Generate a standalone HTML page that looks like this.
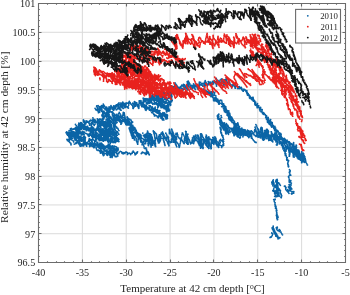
<!DOCTYPE html>
<html><head><meta charset="utf-8"><style>html,body{margin:0;padding:0;background:#fff;width:350px;height:295px;overflow:hidden}svg{display:block}</style></head>
<body><svg width="350" height="295" viewBox="0 0 350 295" font-family="Liberation Serif, serif"><path d="M82.36 3.5V262.5M126.21 3.5V262.5M170.07 3.5V262.5M213.93 3.5V262.5M257.79 3.5V262.5M301.64 3.5V262.5M38.5 233.72H345.5M38.5 204.94H345.5M38.5 176.17H345.5M38.5 147.39H345.5M38.5 118.61H345.5M38.5 89.83H345.5M38.5 61.06H345.5M38.5 32.28H345.5" stroke="#dadada" stroke-width="1" fill="none"/><path d="M106.2 119.5l.5-.4 1.1 1.1 .6 2-.9-1.7 1.3-2-.4 1.3 .8 .2 1.3 .7 .3 1.1-.3 1.3 .9-1.9 1.1-.5-.2-.3-.4 .6 2.5 0-.6 1.1 1.6 1.6 0 .9-.4-.6 .9-1.1 .7 .4 .5-1M105.7 114.8l1-.8-.4 2.7 1.2 1.9 1.6 .1 0 2.5 .4-1.6 .7-1 1.2 .1 .3-.5 .2 .3-.4 .4 1.3 2.1 .4 .1 1.2 .4 0-.8 .1-3.3 .3 1.5 .5 1.5 1 2.1M102.5 120.6l-.1-2.6-.4 2.8 1 0 .9 1.7-.5 1.8 .8-2.1 .7 1-.1-.6-.1-.7 .8-.8 1.3 .6 2.4 3.8 .3 1.4M109.5 123.7l.4-1.7 .2-.9 1.2 .6 2.3 2.9 .3 2.7 .1-2.2-.4-1.4-.7-.9 1.2-.7 .5 3.8-.8-.3 .7-.2 .9 .2-.1 1 1.8 .8M98.9 120.6l-.6 3.2 1.2-1.8 .1-.3-.5-1.9 .9-1.1-0-.3 1.6 3.1 .9 1.5 .5-1.3-.1-2.3-.5 1.8 1.1 1.5 2-1.4 .8 1.4 1 1.6-.2 1.2 1.3-.9 .5-.2 .3-.6-.1-1.3 .7 .7 .1-1.5 1 2.2 1 2.4-.4 2.5 2.6 .7-.6-.5 1.3-1.9-.7-.9 .1-1.2-.5-1.5 1.5 2.8 1 .3 0 1.3 .3 .1 1.5 .2 .4 1.6 .6 .9M92.9 117.8l1.3 2.9-.2 2.1 .1-2.1 .2-.8 .5-.4 1.4 2.5 .4 .5 .9 1.1 .2 2-0-2.3-0-1.7-.3-2.7 1.3 .7 .8 2.3 1.8 3.8-0-1.6 .6-1.5-.4 .2-.5-1.6 .9-1.6 .4 3.2 1.4 3.8 .4-2 .3-1 1.2-.4-1.4 .7 1.1-1.6 .7 2.1 1.2-.3 .1 1.2 1 1 .9 .1-.6 0-0-1.5 .7 .5-0 1.5 .5 1.2 1.1 .3-1-2.5 1.7 2 .3 3.5 1-.7 .1-1.2-.7-.9 1.2 .9 .2 1.2 1 1.1-.4 .6 1 2 .6-2 .3 .1 1.1-.6M87.9 121.3l.3 .1 .6 .9 .8 .1 .5-1.2-.4-.6 .7 .4 .2-1.1 1.7 .7 .4 1.8 1.2-1.4-1.2-2.2 1.1 2.9-.3-.4 .3-.4 .9-.4-.4-.4 .7 .1 .8 1.5 1 0-.1 .3 .7 .1 .1 .4 .9-1.3 .1 .8 1 .5-.1 .4 .2 3.5 .6-1.6-.4-2.6 1.5 2.7 1.2 1-.5-.2 .6-1.3-1-.1 1.5-1.3 .9 2.2 .3 .4 .8 .5 1.1 2.3 .5-.3-1.3-2-1-1.6 2.3 .7 1 2.3M111.2 128.5l.1 1.1 0-1.3-1.6-4.2 1.2 2.3 1.6 2.3 .9 2.5 .2-1.3 .5-.7 .5-.1-.1-.7 .3 .5 1.2 2.3 .4 1.7 1-1.2M83.5 120.9l.8 2 .7 1.5-1.6-2.9 0-1.7 2.1 3.1 .2 1.6 .6-2.8-.2-.9 .9 1 .9-.3-.4 .9 2 .6-.1 .7 .2 1.5 1.3-.1 .9-.2-.1-.9-.8 .2 .8-1.6 .8-1.1-0 2.1 .8 .1 .8 1.7 .7-.3 .6-3.3 1.8 .7 .7 2.3 0 3 1 .7 1.3 1.4-1.2-3.4 .6-.1-.3-1.2 .9-.6 0 .7 1 3.4 1 1.8 .7 1 .9 .5 .6-2.2-.7-1.2 .7-.2 .4-1.6 .1-.7 .4-2.5 .6 2.5 1.1 2.4 .3 2.8 1.2 .4-.2-2.6-1.2 4-1.6-3 1.5-1.4-.1 1.3 1.9 1.3 .1 3.7 .8-.6 .7-1.9-1-.5 .3-2.1 .1 .3 2.4 2.7 .2 1.8 0-.3 .5-1.4-.8-.8 .7 .2 1.8 1.1-.3 1 1.1 .7 .9 .6 1.4-.7-.4-.2-.8-.2M78.5 124.7l.5-2.1 1.1 2.6 .8-2.9 1.2 1.2 0 2.2 1.2 .9 1.6-.9-.4 .7 .1-.9 0-.6 .7 1.5 .9 2 .3-1.3 1.1-.7 .3-.9M90 128.7l1.1 1.6 .4 1 .5-2-.6-2.5-.3-.6 .9 2.2 1.4 2.8-.5-3.8 1 2 .9 1.1 1.2 .8 .2-1.1-.8-.8 1.1-.8 .3-.5 .5 1.4 .8-.2 .7 .3 .4 .6 .3 1.7 2.4 .7 .1 .8-.4-1.4 .5-.8 .8-1.1-.6-1.7 1.7 2.3-.1 1.7 2.3 2.1-.4-4.1-.6-3.4 1.1 2.8 1.4 2-.3 1.2 2.5 1-.5-1.3-.5-2-.3-2.4 1.4 .7 .3 2.8 2.1 2.1 .9 1.1-0-3.4-1.2-.3-.1-3.6 1.3 3.7-.1 1.1 1.1 1.3 .4 1.2 .3 0 .4-.3 1.4-1.3-1.1-.3 .7-.1 1.1-1-.3-.4 1.7 2.8-.4 .3M79 125.2l1.1 .7-.1-.7 .3-1.5 .3 1.2 1.6 1.9 .8 1.3 0 1.1 .1-.4-.3-1.5 1.8-1.2-.2 1.6 1.4 1.7 0-2.7 2.4 2.4 .5 1.6 .4 0 .8 .2-.7-1 .9-.4 .1-1.1 1.3-1.3 .4 .1-.5-1.1 .7 1.4 1.3 2 .3-.4 .3 0 1.3 .6 .2 .5 .3 1.6 .6-2.1-.1-1.1 1.3 .8 .5 .8 .6 1.2 .9 1 .8 .2-1-.4 2.2-1.8-.4 0-.2 1.3-.2 .5 .2-1.3 .5-1.1 .9 .4 .3-.2 .9 2 1.7 2-1-.1 .1-1.6-.4-1.3 1.2 2.4 .6 1.1 1.8 .6-.5-.2-.1-.7 .8 .1 1.2-.8-.3 1.2 .6 1.1 .8 1.3 1.1-.3-.3-1.3 .3 .6 .3 1.1 1.9-2.2 .4 .9 .7 .8 .6 1.5 .1 .4-.5-.2 .9-1.7-.5 1.2 1.2-.3 .8 1.8 .4-.4 .3 1 1.2 2.2-.1-.9M75.5 124.4l1.5 2.5 2.8-1.8 .9 3.6 .2 1-.3-.6 1-1.3-.3-.6 .3-1.3 1.1-1.5-1.1-1 1.2 1.1 1.4 1M86.1 128.5l1.2-2.4-.9 1 1 .7 1-.3 .9 1 .2 .5 .3-1.2 .9 1.4 1.6 3.1M91.9 126.5l-.3-.1 2.4 2-.1 2.3 1.3-0 .2 .5 1.3-1.1 .3-.2 .1-1.7 .3-.7 0-1.3 .6 1.3 1.7 2.9 .9 3.1 .2-1.1-.5-.3-.9-.9 .2-2.3 2 1.2 1.4 2.8 1 1.7-.3 .9 .4 1.6 .8-2.5-.9-.4 .8-1.4 .2-2.4 1.4 1.1 .1 1.3 1 2.1 .7 2.6 .8-.5-0-3.7-.1-1.2 .9 2.3 .3 2.3 1.8-4.1 .6 1.1 1.6 1.3-.1 1 1.8 .9 .7 1.1 .1 .6-.6-2.9-.4-.7 .5 1 .7 1.2 .4 .9 1.4 .5 .3 1.1-.7-.8-.2-.9M74.7 128.6l-.6-.1 .2 .4 .9-.5 .3-.6 .6-.3 1.9 .4-1.2 1.4 1.8 0 .5 1.9-.6-2.2 .3-2.2 .3 1.3 1.5 .6 .6 .8 .6-3 .9 1.8 1.3 1.3 .7-.2-1.1-1.9 1.1 .1 .3-.1 .8 1.3-.2 .8 .9 1.1 1.1-1.2-.9 .7 .8-.9 .8 1.1-.6-.5 1.3 .9 .2-.9 1 1.4 .4 .2 .8 1.2-.9-.2 .9-.3 .1 .5 .8-.4 .5 1.3 .9-.1-.1 3.5-.5-3.5 .4-1.4-.5-1.4 2 4.9 .7 .1 0-2.2-.3-1 0-1.8 .8 1.9 1.9 1.2 .3 2 .3 2 1.6-0-.9-3.7-.9 .1 2.1 2.7 .4 1.5 .6-2.7 0-1.1 .1-2.2 1.4 2.9 1.6 2.4 .6-.1 .2-2.3-.5-2-1.1-.1 1.5 3 1.7 3.8 0-2.8-1.8-3.6 1.4 3.3 1.2 .5 1.4 2.1 .3 1.4 1.6 .6-1.2-2 1-1.2 .3-.9 1 3.2 1-3.1 .2 .8 1.1 .9 .3 .7 1.3 .6 1.2 1.3-.6-1 .1-.7 .4-.9-.9-.6 1 .6 1 2 .6 .6M71.3 128.4l.3 .9 1.4 .3-.5-.6 1.3-.1-.3 .3 .1-.5 .3 .5 1.2-.1 1.6-.1-1 2 1.7-.3-.7 1.8 1.4-.3-.9-.6 .6-.7 .4-1.1 .2-1.2 1.2 .3-.1 1.7 1.2 1.7 .4 1.4 .9 .6 .4 .2-.7-.6 1.7-.4-.5-1.2 .9-.6 1 .6 .1 1 2.2 .3 .7 1.6 1 1.4 .3 .1-.4-1.1 1.2 .1-1.7-1.3 1.7-0 .4-1.6 .8 1.8 .5 1.2 1.1 2.6 1.1-1.2 .1-1.7-.7 .4 .7-.7 1.6 .9 .3 3.5 .7 .7-.2-4.1 .8-1.3 1.2 1.9-.4 1.9 1.1 1.5 .7 .8 1.1-2.2-.1-.6-1.4-1.6 1.6 4.2 0-2.2-1.2-2.9 .8-1.7 1 3.5 .4 2 1.1 1.9 1.4-1 0-.3-1.7 .3 1.2-1.7 .4 .4 .2-.5 .2-1.7 1.1 1.6 1.6 2.2 1.1 2.1 .1-2-.3-.9 .4-.2 1.9 1.7-.4 .9 .2-1.2 .5-1.5-.2-.3 .8 .7 .3 2.2 2 .5 .2-1.7 .3-1.2 .5 .7 1 1.4 .6-1.1 .9-.2-.7-.5 .6 .1 .7 .4M69.1 130.6l.1 1.8 1.2 .7 .7-1.1 .6-.8 .4 .2 1.7 .3 .7 .9-.6 .6 .9 .1-.1 1.8 .1-3.2 1.6 3.2-.5-1.4 .5-3.1-.1 .9 2.1 2.4 .4 .4 .6-4.9 .5 2.5 .1 .9 1.6 2.3 .3-.8 .7-1.1-1.2-.8 1.6-1.1-.3 1 .5 2.4 1.3 .1M88.7 136l-.4 .5 .3-1.8 .8-1.2 .7 .9 1.2 1.5 1 .6-.3-1.4 .5-.7 .6 .2-.4 .7 1.8 1.3 .5 1.6 .8-1.4 0-.4 .7-1.7-1.1 .1 1.5 .6 .6 .1 .6 2 1 .3 .6 1.7 1.8-2-.2-1-.1 .6 1 .6 1.1 .3-.7 .7 .8 .5 .2-1 .6-.4-.6 1.5 1.7 .9 .9 .1-.3-.1 .1-2.2 .6 1 1-1 .8 2.2 1.1 .8 1 1.5-.2 .9 .3-.8 1-1.9 0-1.8-.1-1-.3 1.3 1.2 1.8 1.1 1.4 1.1 0-.5-1.4 .6-.5-.2 2.4 1-.4 0-1.9-1.3-2.5 .8 1.1 1.9 1.8 .4 .4M70.4 129l.5 2.5 .3 1.3 1.6 .8-1.5-2.2 .3-.7 1.1 1.8 .6 1 1.4-.2-.6 .5M76.9 133.7l.7 .6-.7 .3 .6 1-.9 .1 1.4-.9 2 2.6 .2 .3 .4-.7-0-1.5 1 2.1 1.3 0 .5 .8 .5-.1-.2-1.6 .7-.8 .3 3.9M89.8 139.8l-.7-1.1 .4 .2-.4-.3 1.4 .8 1.4 1.9-.8-.7-.3-1.1 1 .6 .2-.7 .5 .5 .8-.1 1.5 1-.5 .6 1.2 .3-.1-1.5 .2 1.6 .9-0 1.3 .6-.2 1.2 .8 .1 .8 1.3 .9-0 .3-.8-.5-1.5 .3 2.1 1.1 1.4 .6-.1 .2 .8 1-.1-.5-1.8 .8-0 .3 .3-.1 .6 .9 .1 .4 2.1 .4-1 .9-.5-.1 1.1 .5 .1 1.1-.8-.7-.5 1.2-2.2 1.4 1.9 1.2 .5 .4 2.6 .9 1.4 1.2 1.2 .1-1.7-.9-2.9 .1-1.8 .1 3.8 .3-1.3-0-.4-.9-.1 .8 1 2.3-.1 .7 .5 .3 .9 .9 1-.3 .8 .3-3.4M67 134.3l1.2 1.1-.8-.6-1-2.3 .1-.7 1.3 .6 1.5 2.6-.3 2.6 2.1-.3 1.2 .8-.6 .5-.2-.4 .4-.6 .4-1.4-.4-.7 .4-2 1.5 3 .4 2 1.2 2.2 1.5-5.8 .4 2.4 .8 1.6 .7 1.8 .6 .6 .1-.5 .2-.3 .7-.4-.3-1.2 .5-.2-.4-1 2.2 2.9 1.2 .8-.4 2.3 .9-.9-.3-.6 .4-1.8-.2 .8-0-1.4 1.1 .7 .2 1 1.5 2.5 .9-.6-.3-.8 .9-.5 .4-1.2 .1-.9 .2 1.1 2.1 3 1 2-.5-.8 .3-1.8 .2-1.3-.6-2 .9 2 .3-.5M97.2 143.5l-.6 .5 1-.1 .1 1.5 1.1 .2 .8 .8-.4 .7 1.3-.7 .5-1.6 .3-1.1-.6 1.3 1 1.5 .8 .9 .5 2 2 .1-.6-.8-.9-2.2 .9 .5 1.3-.7 .5 .4 .6-.1 .9 1.4-.4-1.5 1.1 .3 .2-.8 .7-1.7 .7 5.1-1.5-2.7 .3-1.3 .3-1.4 .9 .2-.3 1.1 2.4 1.3 .7 .5 .7 2.7 .1-.7 .5-2.7-.1-.5 1.8 .9 .4-.4 1.7 3.9 .3-0-.2-2.7 .6 .1M66.1 132.7l1.5 2.5 1.7 .1 .1-1.2-1.4-.7-.2-1.1 1.7 1.3 .9 1.1-.2 .8 1.4 2.6-.4-1.2 .5-1.6-.4-1.9 .2-1.4 1.8 2.6 1.4 3.1 .4-1-1.6-5 .2 1.5 2.3 2.8 1.1 1.9 .2-1.6 1-.1-.3 .1 .4 1 1.1 1.1 .3-.1 .2 .8 .7-.4 .2 .3 .7-0 .6-0 1 .3-.1 .4 1.4-.5 .8 1.5-.6-.9 .5-.1 .3-3.4M89.5 143.6l-.2-.3-1.1 .5 1.7 0 .1 1.1 1.3 1.3-.5-1.1 .8-.2 .8-1.5 1.1 1.1 .5 2.3 .9 .2 .6-.3-.7 .3 .8-3.2 .2 .3 1 1.5 .9 1.6-.2-.5 2 1.4 0 .3 0-1.9-.7-.7 1.5 1.1 1 1.8 .1-.3-.4 .1 .6-.1 .8-1.1-.5 .7 .5-.5 .7 1.2 1.1 1.1 .5 .9 1 .3 .9 1.4 .3-1.7 .4-1.1-.7 .7 .7 .9 1 1.2 .4 2.1 1.1 .7-.7-3.5 1.1-.1 .4 2.3 .9 .3 .1 .4 1.1-1.2-.4-.4 1.3-1.5-.7-0 1.2 2 .1 1 .2 .9 .6 1.1 1.1-.1-.7 .1 1.4-0-.3-.7M68.6 139.3l-.2-.6 .8 1.9 .6-.3-1.2-4.4 .6 .3 1.3 1.2 .3 1.8 1.8 1.2 1.2 .9-.1 1M74.8 136.8l3.3 6-1-1.6 .4-.9M81.4 141.2l-.8 .1 1.1-1.2-.6-.5 1.7 1 1.3 1.8-.2 2.9 .5-4.2-.8 .4 1.5 2 1.6 2.7-.1-3.4 1.9 1.2 .9 .2 .2 2.4 1-.6 .1-.3-0-1.1 .4-.9 .4-1 .4 2.9 2.1 2.1 .4-3.1-.8-1.6 1.2-.6-.5 1.1M100 148.6l1 1-.5-2.3 1-1.1-.6 0 .4-2.8 .5-.7-0 1.3 1.7 1.1 1.2 2.2-.5 .1 .8 .7 .1 .9 .7-1.2-0-.7 .2-.8 1.2-.5 .2 1.3 1.1 1.8 .1-3.6-1.5 .5 .3 0 .8 1.3 .7 .6 .8 .6 1.2 .9-.4 1.2 1.5 .3 0 2.5 1.3-4 .6 .9 1.4-.2-.7-0 .6-.8 1.3-.5 .4-1.1 .3 2.2 1 1.5M67 139.4l0 .9 1.3 .8 .3 .2 1.3 1.2 .3 0 1 1.3-.3 1.6 .1-.9-.1-.5-.4-1.2M74.3 144.1l1.3-.5 .4-.2 0-1.1 .5 1.2-.2-.8 1.1-.7 .8 .8-.3 .7 1 .3 .6 .8 .9 1.9-1-2-.2-1.5-.2-2.2 3 5.7 0-1.2-.9-1.5 1.1 .6 1.3 1.8 .2-3.7 .3 .4 1.3 1.3 .9 1.3M96.4 147.1l-.1 1.6 .9 1.8 1.6-.1-.6-.3 .6 .8 .7-.5 .5 1.3 .7 2-.1-.8 .7-2.1-.7-.3 .1-.7 1.3 2.4 .8 1.6 .2 1.8 1.1-0-.3-.1 .8-1.8 1.3-.3 .7 .4 .6 1.9 1.6-5-.2 2.7 1.8 2.6-.1 1.3-.1-2.3-.7-.8 1.5 2 1.1 1.2 .5-1.4-.3-.5-.1-.6 2.3-2.9 0 1.7-.2 2.2M101 152.9l.6-1.9 .3 .5 .3-.6 .6 1 .4 1.6 .7-1.6 .2-1.6 .3-.7 1.4 1.6 1.2 .6 .3 1 1.8-1.7 1 3.7-.5-3 .1-1.3 .9 1.8 .9 1.1 .1 .7 .9 1.9 .3-.6 1.4-1.7-.9-.8 .4-1.5 1.2-.9 .7 1.8 1.6 1.6 .8 2.7M96.7 109.3l1.6 1.5-.2 1.9 1.5-.1-.1-1.5-.1-1.5-.3-2.7 .9 .7 1.4 3.7 1.1 .5-.6-2.2-.2-1.3-.3-3.1 1.7 1.4 1.1 2 1.4 1.1 1.2 1-0 .5-.2-1.2-.4-1.8 .1-1.4 .9 .8-0 .4 1.8 2.1-.4 .5 1.7-1.2-.7-.3 .6-1 .6-1.4 .4-.2 .8 .9-.4 0 .2-.7 .1 .4 1.9 1.4 .8-1 .3 .5-.2-1 .3 .4 1.2-1-1 1.3 .9 .2-.8-2.5 2.1-1.1-.4 1.4 1.2 1.1 .6 1.6-.2-1.1-.5-3.8 .9-.5 .2 1.4 2 1.1 .9 1.6 .2 1-1-2 1.1-3.1 .2-1.1 1.1 1.3 .6 2.2 .6 2.5 1.2-1-.2-2 .2-.8 .3-.3-.3-.9 2.4 .4 .2 1.2 .5-3.4 1.4 2.5 2.2 2.4 .2 2.8 .7-.9-1-0 2.1-1.4-.6-1.5 .8-.5 0-1.5-.8-1.7 1.6 1.7 1 1.6 1.2 2.1 .7 2.1 .4-1.8-.2-2.5 .4-2.5-.1-1.1 0-.7 .4 1.2 .9 2.2 1.5 3.5-1.2-6.5 2 4.2 .5 .1 0-1.6 1-2.1-.8-1.6 .2 .4 1.2 1.4-.5-.2 1.9-.4-.3-.3-.2-1.9 1.2 .1 1.1 2.1 1.6 2.8-.5-3.3 .1-1.7 .5-2.6-.3-.9 .3-2.1 .9 4 .5 3.3 .9-1.1-1.1-2.5 1.1-1 .2-1.8 .3 3.8-.8-1.6 .9-1.5 .2 1.2 1.6 1.3 .4 1 .9 1 .8-.4-.1-2.4 .1-2 .4-.1M95.1 108.3l.8 1.7 1.1 .3 1.1-1.2-.6-1.1-1.3-2.2 1.3 .2 .3-.3 .9 .2 .8 1.3 1.6-.6-.2 .9 1.3 .6-.8 .1 .7-.6 .8-1.1 .3 .1 .1-2.6 .3 .6 .1 .4 .4 .6 1.4 2.1 .9 .9 1.3 1.8 .7-1.6-.9-.1 1.6-.8 0-1.1 .2 1.4 1.2 .9 0 .5 0-2.1 .5-1.9-.3 1.3 1.1 .7 .4 1.4 1.7 1.7 .2-1.7-.5-2.2-.1-1.1 1.7 2.3 1.3 2.2 1.3-2.1 3.4 2.4-.7-1.6-.6-2.2 .6-1.5 .5-1-.2-1.8 .5 3 1.1 2.6 1 .6-.5-.5 .1-1.6-.1-1.7-.2-1.2 1.2-.3 1.8 1.1-.3 .4 .3 1.7 1.3 .2 1.5 1.7-.5-1.7 1-2.3-.2-2.3M133.4 104.6l-.7-1.7 1.5 1.3 1.1 2.7 .1-.5 .4-2.3-.7-1.8 1.2 .1 1.2 1.6-.2 1.9 .8-1.5M140.5 103.1l.3-2.7 .8 2.6 1.5 1.6 1.9 2-1.9-3.2 .1-1.6 .3-2.3-.4-1.3 1.4 .4 1 1.2 .1 2.1 1.1 .9 1.5 1.1 .4-1.1-.5-2.9-.7 4 .8-.2 .3-1.5-.8-3.2 1.6 1.3 .6 1 1.2 2 .2-2-.1-2-.6-1-.6-1.3 1 .7 .4 1.4 1.6-.3 1 1.5 .3 1.4 .8-1.6 .1-1 .2-.6 1.1 .3-0-1.5 .5-.3 .5 .2M102 115.5l1-1.3-.3-1.2 .9-1.4 .3 1.7 1.5 1 .7-1-.1-.4 1.8-.9-.7-.6 1.9 1.9-.5 3-.5-1.8M113.4 117.5l.6-1.2 0-.4-.7-.6 1.5 0-.3 .6 .1 1.2 .4 .5 .7 .4 .9 1.8 .8 .6 1.4-.4-.5-4.1 1.1 .3 .5 .9 .3-1.1 1 1.2-1 .5 1.4-1.6-.7 1.5 2.1 1.9 .8-.6 .5 1.4 .7-.3-.5-1.2-.5-1.7 1.2-.1 .2 1.8 1.5 2.5 1 2-.5-.2-.3-1.3 .2-1.8 .1-2.5 .8 .9 2.1 1.2 1.3 1.1 .1 3.1M103.1 117.8l1.3-.7-.8-1.1 .6 .8-.3-.9 1.1-.3 0-.3 1.2-.6 1.3 .9-.9 1.7 .8-2.5-.2-1.8 .2-.7 .1-1.6 .7 2.7 .5-0 .8 2.4 .9 1.1 .8 1.2 1.6 2.5M114.7 120l0 1 1-1.6-.4 .1 1.3-1.3-.3 .2 .5-.8-.1-1.2 1.2 2 2 2.5-.2-3.1 1 3 .2 1.2 .8-.9 .2-1.9M124.2 120.3l-1 .1 3.4 3.2-.8-.8 .1-2.8-.1 3.2 2.7 2-.4-.5-.1-1.4 .2-.5 1.3 .1 0 1 .3 1.2 1.2 1-.7 .9 1.6 0 0 .5 1.1 3M102.3 116.2l1.5 .6-.4-.1 1.9-.7-.4 .7 .2-1.2 .3-.1 0 .7 1.3 .2 .4 .2 1.9 .7-.3-.5 1.2 1.2-.2 .3 .7-1.1-.5-.2 1.2 1.3 1.5 1.6 .3-.7-.2 .4 1.4-.5 .2-.7 .3-.7-.2 .6 .4-.5 1.2-.5-.3 3.3 1.3-.6 .5-1.8-.3-.9-.3 3.1 .2-2.1-.7-2.3 .8-.7 .3 2.8 .3 2 1.5 .3-.4 1.4 1.4 0 1.1 3-.5-.5 1.2-1.8-0-1.3 .9-.1 .1 .5 .3-1.2 1.1-.7 .5-.3-.7 2.2 1.5 2.1 .1 1.6 .6-.8 1.1 .4 .6-2.3 0 .3-.8-.2 1.7-0-.6 1.4 1.5 .5-.4 1.1 1.1-.1-.7 2.3 .6-1.4 .1-1.5 .3-1.2-.3-1.5M102.2 114.6l1.1 3.4 .6 .8-.8-4.3 1.3-2-.7-1.7 .5 1.1 .9 .9 1.9 2.7-.7 .5 1.5-1.8 .2-.7 .1-1.4 .5-.4-.2-1.3 1.3 1.8 .3-1.2 2.3 1.5 0 1.3 .3 2.1-.4 .2 .6-1.8-.3-1.6-.6-1.3 2.1 2.5 1.8 2 .8-.5-.6-.7 .7-.4-1.1 1.2 1.2-1.1 .5 1.4 2-3.4 1.5 2.8 1.8 2.7 .3-2.4 .5-3.6-.9 6.1M124 114.5l.2-1.6 .3 2 .7 4.2 1.3 1.3 2.3 .9-.8-1.2-.9-1.5 0-2.2 1.8 6.5-1.1-2.8 .1-1.9 0 .4 .5 1.7 1.3 1.4 1.1 2.8-.1 1.3 1 1.1-.5-1.4 .4-2.4 .6-1.3 1.5 .9M132.8 125.5l.6 .9 .3 1.5 1.2 .6-.2 .4-.1-.7 .4-.2-.3-.4 .9 1.7 .5 1.3 .5 1.4 .9 1 .6-.1-.6 .2 .8-.2 .3 1.6-.5 .2 1.7-.8-1.3 1.3 1.3 1.6-.3-.2 .6 1.5 .4 .6 .8-.1-.6 1-.2 1.3 .8-.8 .3 .7 .2 1.9-.4-.6 .7-.7 .6 1.3 .1-.6 .4 1.1M145.9 147.8l.7 .8-.2 1.4 .4 1.1 .1 1.3 .4-.1 .5-1.3-.2 1.1 .8 1.1 .7 .3-.6 1.1 .9 .2M131.7 125.3l.9 2 1 3.4-.8-2.3 1.2 0-.6-1.2 1 1.4 1 1.8 .1 .3-.2 .5 .6 1.2 1 .7 .7 1.3-1 .3-.3-1.6 .7-.3-.6-.4 1 1.6 .3 2.1 1.2-.1 .2 .4 .2-.6-.7 1.2 1.1 .5 .6 .5 0 .6 .3 .8-1-1.5 .1-.5 .5 1.7 .4 1.3 .3-.2 .3 2.1 1.6 .7-.9 1.7 1-.2M143.5 145l.5 .9 .1 2.1 .9 .5 .4 .3-.5-.3 .7-.5 1 .1M147.9 152l-.8-.8 1.1 1 .5 .8M142.8 133.1l.3 .2M145.3 134.5l-.8 1.8 .4 1.1 .6-1.1-1.1-1.5M147.7 140.3l-.4-.1-.3-1.2 .3 .4 1 1.3 .8 1.3-1 .8 .9 1-.6-.1 1-.1 .9-.2 .5 .4-.1 1.8 .4 .4 .5 .7-.6 .3 .3 .2-.9-.1M117.8 153.4l.4 .8 .6-.8 .1-.8 .9-.7 .6-.6 1 .4 .6 1 .1 .9 1.1 .2-.3-1.3 1.4 .2 .5 1.2 .3-1.4 1.2-.9 .1 1.2 1-.1 .6 .4-.9 1.5 1-.6 .6-1.2 .6 .3 .6 .3 1.2 1.5-.5-.3 .8-1.2 .6 .6 .2-1.2-.1-.7 1.6 .1-.2-1.3-.5 .2 1.8 2.2 .3 1.6 2.2-2-1.1-.2 1.2-.4 .2-.7M141.3 153.5l.2-.4 .9-.2-.8-.6 .7 .8 .1-1 1.5 .6 .7 .2 .7 1.2 1.4 .6-.4-1.9-.3-1.1 1.4 .9 .4 .7 1.6 .9M169.3 95.6l2.2-2.2 .1 .9 .3 1.9 .1-.4 .8-.5M169 95l1.4 1.1-.6 1.7 .3-.6 .5 .4-0 .5-0-.7 1.1 .6 .2-.3-.8 3.4 1.4 .9M165.1 97.6l1 0 1 1.6-1 1.2 2-1.7 .3-.4-.4-.5 .9 .2 .3-1 1.2 1.7 .3 .3 .7-.2 .4 .9 .7 .8M163.9 97.1l.1 .4 1.1 1.1 0 .6 .6 .2 .4-1-.3 .9 .7-.6 1 1.4 .9 .7 1.1 .8 1 .7-.6 1.2 1.1-.1-.9-2.2 0 1.6 1.1 2.5M161 98.8l1 .7 .2 1.1-.2-1.3-.6 .6 1.5-1.1 1.1 2.2 0 .7 .3 1 .5 .2 .6 .5-.1-1.7 .6 .6 .3-.3 .3 1 .6 .2 .8 2.3 .9 .2 .8-2.8 .8 2.4 .6-.1M157.2 98.4l.6-.4 .2 .8-.6 .2 1.6 .8 .1-.8 .5 .5 .6-.4-.1 1.5 .9 .3 1.2-.1 .4 .5 .4-.2 .2-.8 .4 2.6 .8-.4 .8 .3 .7-.5 0-.8 .4-.1 .8 1.3 .3 .7 .4-.7 1.1-.6 .4 1.7M154.3 96.9l.8-1.8 1.5 2.2-.2 3.4 .7 .8 .2-1 .1 .5 1.1-1.8 .2 .3-.7 .4 .2 .9 1.3 1.6 .3 1.6 1.4 .4-0-.7-.3-1.1 1.1 .5-1.1-.4 1-.8 .9 2.9 .6-.5 .6-.1-.2 .7 1.6 1.1-.4 1.4 1.1-1.6 .3 .6 .6-1.1 .5-.3 1.2 .9-.3 2.2 .3-2.3M153.7 100.6l0-2.2 .3 .6-.5-.9 .1 1.1 1.4-.4 .3 1.1 2 .5-.7-.5-.2-.6 1.9 .9 .5 3.2 .5-2.2 .4 .4 .4-1.2 .5 1.5-.1 1.1 .9 .8 1.1 2.6 .4-1.1-1.2 .6 1.1-1.2-.5 .5 1.2-.7-.4 .2 1.4 .9 .7 1.5 .1 2 2.1-3-1 1.7 1.3 1.7 .4-.2 1 2-.4-3.6-.9 .8M149.9 98.5l.3 .5 .7 1.2 .1 1 .3-1.8 .1-.3-.6-2 .6 .3 1.6 1.7-1.2 1.2 .7 1.4M154.7 104l.9-.9-.2 1 .8-.3 1.5 .1 .9 3.4-.8 .2 .1-1.5 .7-.3 .7-1.3 .3 1.4 1.5-.6 0 1.7 1-.5 .7 .9-.4 .1 2 1.3-.2-2.5 .2-.5 .1 .5 .3 1.6 .8 .6 0 .4 1.1 .4 0 3.2-.6-2.8 1.3-1.9 .5 2.1 .4 1.6 .5 .3M146.4 99.8l.5-.6 .7-.1 .4 .4 .3-.2 .8 1.3-.3-0 1.5-.2 .4 .9-.6 .2 1.4 .5 .3 1.3 .2-.6 1.2 1.4-.3 .5-.1-.4 .4-.3 .7-.4 1.2-.7 .3 .2 1.3-.9-.1 2.5 1.5-0-.6 .9 .6-.3-.1 .3 2.3-2-1.9-.1 .4 .4 1.8 2.6 .5 1.3 .1-.3 .1-.9 .5-.2 .8-.5 .3 .3 1.2 .4 .4 1 1 .5-1.1-.4 .7-.2-.3-.9 .9 1.1 .4 1.3 .8 1 1-1.7-.2 .9 .4-.7 .7 .8 1.2 1.5M143.9 98.9l1.3 2.1 .3 .6-.6-1.2 1 .4 .1 .7 .7 1.2-.4 .9 .4-1.1 1 .1-.5 .9M149.2 105.7l.8-.4 1 1.5 1.3 3.9 0-2.4 0-.5-.1-1 .9 1.7 1 .4-0 .8 1.3-2.9-.5 1.4 .8 .7 1 2.8 1 1-.2-.5-.5-1.5 .1-1.4 1.1 .8-0 1.8 .5 .1-.4 .6 1-.5-.9 .4 1 1.6 1.9 .2-.5 .9 2.1-.4-1.2 0 .7-.7 .8 1.6 .8-.9 .4-1.6-.1-.6 .6 1.6 2.7 .5-.3 1.1 .1 3.3-.5-1.2M144.3 105.1l.3 1.9 .9 .6-.8-2.7 1.6 .4 .2 1.3 1.7 1.3-.5-.4 1.5 1.2 .6 .4-.8-1.7 .6 0 .1 2 1.2 .4 .6-.1 .1-1.2 .3 1.3 .5-1.1 .7 .9 .8-0 .5 1.7-.3-.8 1-.3 .8-.6 .9 .6 .2 1.2-.6 1.5 2 .3 .7 .4-.8 .3 .6-.7 1.3-1.1-.8 .8 .9 .4 .4-.6 .5 1.2 1 1 .6 2.2-1.1-2.7 .5-.7 .8-1.1-.1 1.8 1.7 .5 .7 1.9 .8 .6-1.3-4.1 .4 3 1.8 .4 .5-.8M142.7 106.7l1.1 .2 1.1 1.4 .9 2.4 .9-1.3-.5-.2 .6 .3 .3-.6-.6-1.2 1 .9 1.6 .4-.3-.1 1 1.7-.4-.5 .3-.2 1.2 .9 .6-1.4-.1 .7 1.6-.4-.5 .3-.1 1.1 1.5-.2 .5 .8 1.8-.8-1.8 .3 1.3 .6 .5 .6 .7 .3 1.3 .4-.3 .1 .7-.4 .3-1.6 .2-1.1 .8 .5-.8 3.2 .9 .3 1.3 1.5 .3 .8 .8-.7 0-1.4 .1-.7 .3 0 .4 1.1 1.3 1.4-.2-.3-.2-.9 1.9 4.1-.1-1.9-.5-1.3 1.2 .4M147.1 107.8l-.3 .7 2 .4M151.7 112.4l-.2-.5 .6 .4-.4 .6 .8-1 .6 1.3 .5 .2 .2 1.1 .9 0-.1 1.6-.6-1.6 1.1 .8 .5 .4 .5-.3 .6 .5 1.5 1.9 .9-1.2-.9-.9 .7 .4 .4-1 .5 .9 1.8 .5-.5-.4-.7 1.7 1.5 .8 .7 1.5-.3-.8 0-.5-.2-.4 0-1.2 1.3 1.5 .6 1.7M156.9 95.3l.5 2 1.7 1.9 1.9-4.1 1 2 .4 2-.1-2.3 .6-1.9 0-2.6-.6 3.5-.5-.2 .5-2.4 .9 .3 .3-1.2 .2-.3 1 .3-.4-.3 1.3 1.1 .9 1 .6 1 .9-.9-.3-.4-.2-1.3 .3-1.2-.4-1.4 .8-1 2.2 0-1.1 1.1 .7 1 1.5-5.3 1.5 1.6 1.2 2.6 1 2.9-.1-4 .1-3.2-1.5 4.6-.4-3.5 1.3 1 .9 .8 .5 1.5-.8-2.5-.3-4.8 1.3 2 1.7 2.1 .8 1.3 1.5-1.4 1.3 0-.3-1.6 .8 0 .5 .3 .9 1.7 .3-3-.4 .5 1.9 .6-.1 2.2 1.2 .3 .3-2.2 .4-.6-.1-.8 1-1.2 .7 .1-1.6-1.9 1.1 5.7-.4-.7 .9-.6-.2-1 .2-1.9-.5-1.7 1.7 2.9 1.4 3.7 1.2 1.1 .4-2.1 .5-1.4 .3-1.3 .6 2.2 1.2 3.8M195.8 85.1l1.5 2.9 1.6-2.9 .6-1.3-.6 .4 1.5 .6 .7 0 1 .2-.1-1.2 .6 0-.2 .3 .7-.9 1 .3 1.4 .8-.4 2.3-.6-2.6 .9-1.8-.2-1.8 .2 2.9 1.7 .6 .5 1.3 1.4-.8-.1-1.2-.7-1.7 .7 0 1.4 1.9-.2 .6 1.4 .5-.1-.6 .9-.7 .3-1.1-.2-.5 .4-.6 1.4 1.4 .7-.1 1.4 1.3-.1 1.3 .4 1.8-.2-3.1 1-1.5-1.3-2.3-0-1.8 1.5 3.7 1.7 2 1.2 .4 .9-1.6 .4 .7 .3-1.4-.7-1.1 1.5 2.3 1 2.2-0-2-0-1.8 .4 .3-.3-2.1 1.3 1.4 1.2 3.6 .6-1.2-.9-5.8 .4 3.2 2.4 3.6 .6-.8 .3-.9-.2-.5M157 96.5l1.1 2.7 1.1 .8-.9-2.4 .2-2.2M163 97l1.2 .7 .5 1.2 1.7 1.3-1.1-3.8-1-2.9 1.2 3.1 1.4-1.4-.2-2.1 1.5 .3 .8 .8 .5 .5 .3 1-.2 .4-1.3-4.1-.3-2.2 3.1 6.1-.9-5.2 .7 .3 .3 .2 0 2.3 2.2-1-.7-.3 .5-2.5 1.1 .7 .8 1 .8-.5 .3-.9 1.1-.7-.4-1 .1-.4 .9 .5 .4 1.1 .9-.5 .8 .4-.3-1 .4-1.1 .8 .1 .3 .9 1.6 .3 .2 1.3 1.1-.2 .8-1.7-.6-.9-0-.4 1.1 .5 .3 .9 1.1 .9 .8 .9 .5-2.7-1-2.9 .1 1.1 1.1 .4 1.8 1.6 .1 2.1 .8-1.2-.9-1.3 1.2-.8 .3-.3 .4-1 .8 2.6 .8-.7 .5 .8 .5 1.4 .1-2.2-0-2.1 1.3 1.3 1 1.2 .6 1.8 .2-.3-.3-3.4-1.1-1.6 1.4 3.8 1.6-.5-0-3.3-.4-1.5 1-.2 .7 .5 1.2 2 .1 1 1.6 1.2 .5-.1-0-2.6-.3-.4 .7-1.4 .5-.3 1 .4 .6 .7 .8 1.3 1.1 .1 .5-.7 1.1 0 .6-1-1.1-.3 1.3-.2 .7 1.6 1 .6 .4 .1 .7-1 .1-.3-.6-.9 1-1.2-.4 .4 1.1-.2 1.8 1.8-.1 .7 .7-4.2 1.1 1.5 1.6 1-.2 1 .6-.6-.8-2 1.1-.8 .3-.2 .8-1.1 .4 3.1 1.2 .8 1.6 .9 0 1.6 .2-1.2 .9-2.6 .4-.3-1.5-1.3 1.9 4.3 .2-.4M229.8 85.3l.9-.3-1.8-3.8M231.6 87.8l1.4-2.8-.8-.1 .2 .5 2.3 .5-.1 .5 .7 2.4 .4-1.1-.4-1.8 1.5-.4 1.3 1.5-.3 1.5 1.5 .1-.3-.8-.3-.3 .9-.9 .1 1.7 1.8-1 .5 1.7 1 1.7 .5 .8-.3-1.1 1-.1-.5-.6M246.8 92.6l-.6 0 1 .8-.4 0 .8 1.3 1-.2-.2 1 1.1 .6 .6 .7-0 .3-0-1.2-.3 .1 .5 .8 .9 1.3 .4 1.3-.6-.3 .4-1.8 .3 1.2 1.1 .7-.1 1.5 1.4 .9 .8-1.2-.8 .2-0-.3-.4 .7 .6-.9 .8 1.9 .1 2.9 1.2 .8 .4-1-.2 .3-.4-.4 .6 .3-.3 .2 1-1.4-1 .9 .6 .9 1.7 0 .1 1.4-.1 1.2 .8 .5 .1 1.5 .3-1.1 .7-1.8-.5 2-.6 1.1 1 1.1 1.1 .8 .6-.4-0 .9 .4 1.4 .9-.1M265.4 115.2l.8 1.1 .2 1.1 .2 2.3 1.4 0-.6-.1 .6-2 0-.8 .5 2.2 .5 0-.7 2.4 .8-.7-.1 .5 1.3-.2-.1 .6-.5-.3 1-1.9-.9 1.5 1.2 .8 1.1 1.4-.1 2 .6-.1-1-1.4 .7-1 0 2.4 .7 1.1-.6-1.9 .9 2.6 1.5 2.7-.3-2.7 .5-.5M275.6 130.3l.6 .6-0 1-.2-1-.2-1.6 1.2 1.3 .1 1M279.5 134.9l-.1 1 .5 1 .1 .8 .8 1.4-.2-.4 1.4 .8 0-2 .2 1.4-.4 .8 1-.6 .9 .1 .8 1 1 .6-.2 1.1 .3-1.2 .3-.3 .3 .8-0 2.7 1.1-1.4-.9-0M290.1 146l-.4-.4-1-1 1 1.6 .3 .7 1.2 2.3 .8-.5 .9 1.7 .2-.6 0 1.1 .4-.8 1.5 .5-.7-.9-.1 1.7 .5 .2 .9 1.6-.7 .4 1.2-.4 .3 .8-.5-1.1 .7 .8 .8 .4 .6 1.1 .5 1.2 1.2 1.1-.1 .5 .6 1.1-.2-2.4 .4 1-.1 1.8 .2 .7 .6 .8M231.9 85.1l-.4 .6 2.1-1.4 0 .3 1-1.2 .2 .8 .4-.3 .2 1.4 .8 .6 .1 .8 .3 0 .4-.5 1.2 .8 .3-.6 .8 .4 .1 1.6 1.3-.5 .7 1.2 1 1.4 .8 .8-0-.3 .4-.5 .9-.7-.3 0-.2-.3-.1-.5 1.2 .8 2.2 3.8 .1-1-.3-1.2-.4-1-.1 2.3 1.1 .4-.6 1.4 1.3-1.2-.9 1.8 1.2 .4-.2 .8 .1-1.1 .2 .4 .3-.5 1.1 .8-1 2.5 2.8-.1-.7 1.1 1.2 .7-.3-1-.1 .7 1.2-3-.8 1.2 .7 .2 .8 2.5 .8 1.6 0 1.5 0 .3 .4 0 .2-1.1-.9-.3 1 .3 .2-1-.4 1 .8 2 1.4 1.5-.5 1.5 .4-.6-.7-.4 1.1-.3 .3-.2 .5 0 1.4 1.9 .3 .4 .4 .5 0-.5 .2 .9-.3-.7 1 .4 .9 .5-.9 1.3 .4 .3 .4 1.5 .2 .3 1.1 1-1-.4 .8-1.6 .8 1.3 2 2.5-.4 1.1-.2 .3 .4-.2 0-.6-.1-.5-.4 .2 1-.4-.2 .4-.3 .9 1.6 3.3 .4-.1 0-.8-.6 3-.1-2.5-.4-1 1 1.2 .8 2.1 .1 1.1 .8 1.1 .1-2.2-.2-1.3 1 .1-.3 3.7 1 1.1 .5 1.4 .4-1.9 .2-.9-1-.8 .9 .9 1 .3 .1 2.8 .1 .4 .8 .8 .7 .2-.3 2.1 0-.9 .7-1.2 .1-1.5 0 1.2 .3 1.8 .7 2-.1 1 .5-1.8 1-1.8-.4 1.1 1.7 .9-.9 2.1 1.5 .5 1.3 .1-1.6-1 .4 .8 .7-1.6 .7 1.6-1.1 .2 .3 .4 1.2 1.1-.6 1.7 1.1 0 .7 .5-.1 .6 .7 0 1.2-.8-.2 1.6-.5-.1 1.2 2 .5-.4-.9-2 1.9 .9-1.1 .1 1.1 .2 .4-.7 .5 1.4 1 .8 .1 .9 .5 1.1-.5-1.7 0-1.2 1.2 1.3 1.3 2-.9 0 1.1-.9-1.3-.3 1.2 .1 1.1 1.3-.4 2.4 .5 .4 1.2-3.1-.1-2-.2 .9 .1 1.3 .9 1.6 .8 .7 .5 1.3 .7-1.8-.9 .7 .5-1.3 .2-1.2 .4 1.8-.3 2.4 1.2 1.4 .2 1.3 .8 .4 .2-1.2-.2-.9 .4 1 .4 0 .4 2.2 0 .9 .4 .6 .2 1.2 .3 0 1.4-.2-.5 .9 .1-.5 .6 1.4M203.3 90.9l-.1-2.3 1.3 2.4 1.3 1.7 .6 .2 .4-1M208.4 93.2l.3 0 .9-1.7 .7 1.4 .7 1.7 .2 1.3 .1 .5 .7-.8 .2-.4-.6 0 .8-.4-.2-.7 .8 1.1-.6 1.8 1.7 2.4-.6-.1 .7-1.2 .2-.7-.6 2.6 .9-1.3 .2 1.8 2.1 .7-.6 .3 .2-1.2-.1 .8 .9 1 1.6 .1 .1 2.4-1-2.1 .2-2.3 1 2.2-.1 1.4M223.3 104.3l-.9 .7 1.3-1.1 .1 2.7-.1 .9-.3 1.8 3 .1 1 1.9-2.9 .2 .8 1 .9-.5 .2-1.4-1.1-.5-.3-.5 1.2 .7 1.1 2.9-.3 2 .9-2.5 .6 1.8-.5-.1 .6 1.5 .2 .6-.2 2.6 1.6 1.2-1.1-1.5 1.8 .1-1.5-.6 1.5 .8 .2 1.8 .3 .7 .7 .8 1.6 .7-.4-.3 .8-.5 .3-0-.2 .3 .4-1-.2 3-.2 1.4 .9-.2 .4 .4-.3 .4 1 .4 .4 1.2-1.3-1 .9 .3 .6 .8-.4 1.1 1.5-.2-.4 1.8 1-.4 .1 .5 .5-.9 1.3 2.4 1.3 .2-1.1-2.1 .5 .3-.9-.8 .9 .5 .2 .8 .9 1.5 1.3 .1-.1 .5 1.2 .9-.5-.1-.9-.9 .9 .8M203.2 89.2l.8 1-.2 .6 .7 .4 .8-.3 1 .9-.1 .3 1-.8-.9 .5 .4-.7 .9 .6 .1-.5 1.4 2.2 .1 .3 1.1 .4-.1-1.1 .6-1.1 .6-.7-.1 1.7 .8 1.6 1.2-2.8 1.5 1-.2 .6-.5 2 1.6 .3 .4 1.3-.3 .7 .9 2.7-.6-1.7-.5-1.5 .2 1.2 .8 .2 1.3 1-.3 .8 .8 1.4 1.2-.2-0 1.3-.2-.6 .2-.7-.7 .4 .8 1.4 2.3 .4-.4 .3 1.7 1.1-.8 2.2-.3-.5-0 .4-.5-.1-0-.9 1.7 .2 3.1 3.1-2.5 1 1.2-1.3-.4-.1 .3-.6 .2 1.4 .4 1.4 1.6 .3 .6-.7-.5-.4 1.4 .4 0 1.6 .2 2.3 .6-.1-.3 2.1-.6 .5 .3-2.2 .6 .1-1.9 1.6 1.5-.6 1.5 1.9-.5 .7 1.1-.8 .3-.6 .5-0 .2 1.7 .7 .4 1.4 1.9-.8 1.2 1 1.4-.4-.1 1.2-0-1-1.7-.3-.4 .2 .8-.7 1.2 1.9 .7-.2 1.9 .2 1-.8-.8 .8 .3 .5-1.6 .5 2.4 .1 1.3-.1 2.2 .5-3.4 .7 .2-.3 1.1 1.3 1-.1 .8 .9 .5 .6 .4-.8-1.1 1-2.3 .3 1.7 .5 1.4 .8 1.3 1.1 1.8 .5-.4 .1-1.1 .8-.6 .5 .1 .7-2.1-.1 5.1M201 88.4l.5 2.1 1.7 .3 1.1 2.1 .5-1-.8 0 .9-.8 .9-.7-.1-.7 .6 1.9 1.2 1.5-.2 .7 .4 0 .2-.6-.2-1.7 1.6 2.2-.3-.3 .6 1.3 .6 1.2 1.7 1.4M213.7 99.1l-.3 .9 .4 1.3 1.2-1.5 .7-1.9-.5-.5 .4 .5 1.3 2.3 .5 .4 .4 .8 .7-.1 0 .5-.5-.1 1.1-.2 .6-1.2 1.9-.1 .2 1 .6 2.4 1.3 .4-.8-.1-.2 1 .2 .9 1.5-.2-1.8-.8 .3 .1 1.8 1.4 .8-.2 .6 1.7-.7 1.8 .1-1.2 .8-.5-1.4-.5-.1 3.4 1.8 2.2 1.1-2 .3 .8 1.6 2.7-.6-.5 .7-1-.9 .5 .9-.5 .1 1.3 .7 1.9-.5 1.1-.6 .2 2.3-.9-.4 1.7 .3 .5 1.1 1 .2-.8-.1 .4-.8 1.4 1.4-1.4-1.7 2-.4 .2 1 .5 1.1 .2 .5 .9 .1 .6 1.2-0 .2 .9 1 .4 .2-1.6 0 .6 1 .8 0 .7-1.4 1.9 1.8 .7 0 1.1-.3-1.8 1.5 .1 .3-1.3 .2 2.5 1.6 .6 .3-.3 .1-1.4 .5 1.6 1.8 .4 .2 1.4 .5 1 1 2-.7-3 .2-1.9M217.3 115.9l.1 .8 1 1.6 .2 1.3-.7-.4-.4-1.8 .4-2.7-.1 1.7 1.1 1.9 .9 1.1 .1 3.4 .7 1.7-.2-1.2-.3-.5 .3-.1-.8-.6 .4 .4 0 1.1 .2 1.3 1 .6 .5 1.4 .7 .8-.3-.8 .6-1.4 .7 .6 .1 1.2-.5 0 .9 1.7 .2 1 1 .1 .2-.6 .5 4.6-.2-2 .3-1.3 .3-2 0-.3 .2-2-1.3-1.1 1.4-1.8 1.5 3.8M231.1 128.3l1.9 0 .6 1.4 1 1.1 .6 .1 0 1.5 .6 2.5-.6-3.7-.2-3.2 .1-2.5 .4-.7 1 3.1 1.5 4.1 1.6 3-.5-.3-.4-4 .3-3.4-1.3-4.6 1.7 5.8 1.6 6.5 1.1-4.8 2.3 1.7 1 2.3 .3 .4-.4-3.2 1.1-0 .5 1.5 1 3.5 1.6 .4-1.2-2.9-.8-3.8-.6 4.5 .7-.1 .4-3.3 .2-1 .5 .6 1.1 2.3 .8 2.3 1 3.2 0-5.1 1.9 .3 .9 1.4 .8 .1 .6 1.4 1.8-1.5-1.1-.1 .8-1.2-.2-.4 1 .1-.2-1.4M260.7 135.2l1-.3 1 2.5 .1 1.1 .6-1.6 .3-1.1 .3-1.1 .8-.3-.1-4.5 3.3 7.8 1 3.4-.1-4.2-.7-4-.7-3.2 .5 6.1 1.4 1.3 1.3 1.6 .6 2.6 .8-1.3-2.1-.3M273.6 134.9l3 4.3 1 3.8-2.7-10.3-1.3 4.1 0-2.4 .5 1 .8 .8 1.4 2.4 1.1 1.9-.3-5 1.6 2.3 1.7 .3 .4 .5-.9-.5 .8-1.1 1.5 2.7 2 1.7 .5 1.2-1.1-0 .8-1 .7-1-.4-.3 .1-.7-.3-.7-0-.6-.3-.1 1.7 3.7 1.1 2.8 1.3 2.5 1.2 3.3 1.3 .9-.7-1.4-.3-1.3M293.4 154.1l.9 3.4-1.9-5.6-.1-5.8-.9 1.4 1 2 1.9 1.7 .8 3.2 1.1 1.9 .6 .6 0-1.9-.4-2.9-.3-2.3-.1-1.6 .6 3.4 1.8 4.2 .2 .3-1.2-.8 .4-2.8 1.2-1.6 .6 2.7 1.7 2.7 1.2 3.5 .9 2.4 1.3-.2-1.3-1 .5-1.6 0-2.1-1-1.5-.5-1.6-.6-2.6-.1 11.5-.1-2.5-.9-2M218.6 115.1l.3-1.2-.8 2.4 1.2 .6M221.6 117.3l-1.2 1.2 1.4 3.1 .2 1 1.2 3-1.1-.5-.9-4.3-.1-.3 2.5 3.9-.7 2.5 .3 1.1 1.3-.6-.2-2.1 .1-.6 .1-2-1 7.1 .3 .2-.8-1.9 .3-2.1 .1-.7-0 1.1 1.9 .9 .4 .4 .9 1.3 .2 1.2 .2 .7 .7-1.3 .4-1.3-.7-2.5 .7-.5 .2 1.5 1.5 1.2 1.4 .8M232.1 130.1l0-1 1.7 2.5 .9 3.4-.6 1 .5-4.6-1.1-1.9 .4-2.8 .7 1 1.3 3.5 2.1 2.5 .8 3.4 1.5 1.4 0-4-.6-3.1 .2 .4 1.1 1.1 2.2 2.7-.4 1.4 1.2-2.1-.3 0 1.2-1 0-.8 .9-.2 .8 0 .3-.1 .2-.4 1.7 1 .4 .9 .5 .6 .7 1.4-.9-2.3 1-1.7-.1-.7-.3-.5 1.8-.2 .6 2.1 1.1 1.1 1.3-4.9 2.1 5.1 1.2 3.2-.4-1.9 .4-1.6-.4-1.7 .3-.6M255.9 124.6l1.6 3.4 1.3 2 .6 3.3 2.3 3.5 1 2.7-.9-2.5 .5-2.4-1.4-2.5-.2-4.8 .6 0 1.4 4.6 1.8 6.1 2.5-1.7-.2-.8-.4-2.2 .2-2.1-.1-2.3 .6 .5 1.7 2.1-.8 1.6 .9 2.7 1.2 1 1.4 1.7-1.1 .9 2.4 1.6 .1 1-1.7-3.4 .5-4.4-.7-3.1 1.5 3.1 .9 1.8-.2 3.2 2.3 .8 .7 2.5 .4-3-.1-.3 1.6-1.4-.8-.3 .1-1.3 1.1 3.5 .7 1.8 .2 3 .1-1.9-.4-.6 .5-.2-.4-2.2 .6 1.4 1 .2 .9 1.3 1.1 1.7 .3 1.9-.1 2.3-0 1-.1-1-.4-2.1-.2-1.8 2.2 3.7 1.5 3.2 .7-4.5 1.9 2.2 .4 2.7 .7 2 .2-1.6-.2-1.2-0-2.5-.5 8.3 .6-1.5-.1-1.9 .1-1.8-.6-1.3-.7-1.8 .1-1.4 1.1 3.6 3.4 2.2 .2 4.3 .3-2.8 .7-1-.2-.9 .5 2 .2-.8 1.1 .6 .2 .6 2.2 .9-.2 .6-.2 .4 1.6-3 1.4 4.4 .8 .5-.3-2-.6-2.5 1.5 2.5 2.2 5.9-.7-2 .1-2.4-0-3-1-1.6 2 3.2 .6 3.3M221.1 115.7l.6-.4M222.9 123l-.3 .1-.4-.4-.9 0-.5-.6-.4-.7 0 2.4 .8 2.6 1.1 .3-.2 .7 .6 .3-.2-1.6-.1 .6 .3-2.2 2.7 6.8 .9 2.7-1.7-5.1-.5-2.9 .7 3.1 1 1.8 2.3 2.5 .4 1.1-1.2-4.7-.5-1.1 1 2.1 1.7 2.1 1-1.1-1.3-2 1.6-1.7 .8 1.3 .5 2.5 1.6 1.7 .4 2.3 .6-2.1-.6-3.5 .5-2.5 .3 3.3 1.2 2.4 1.5 3.7 .8-1.2-1.2-1.7-.2-2.9 .1-1.5 1.1 1.4 1.2 2.2 1.5 1.5 .2 .7 .3-1.3-0-1.2 .9-2.7-.2 1.3-.1-2.7-.6 1.7 1.5 .1 .3 2.3 1.1 .3 1 .5 .6-1.4-.3 .2-.3-.6 1.2 3.8-0-2.6-.4 .8 .8 .1-.3 .3-.5-.3 1.3 1.4 1.6 2.2 1.6-5.3 1.2 5 1.3 2.2 2.4 2.9 .6-.2M255.1 127.2l.8 2.7 3.3 6.8 1.4 1.4-1.3-5.8-1.7-3.7 .8 2.1 2.3 1.7 1.5 4 1.4 2-.2 1.9 1-.8-1.3-5.7-1.2-6.6 .8 5.5 2.1 1.2 .3 3.8 1.9 1.2-.7-.5-.5-2-.2-3.5 .5-2.7 .5 4.7 2 2.6-.7-2.2 .4-.9-.8 .5 1.2 1.8 1.4 2.1-.2 1.7 .8-2 .1-2.3-.8-1.2 1.1 .4 2 1.5 .6-.2 .5 1.1 .9 1 1.1 .7 .3-.5-.6 2 .7-1.5 .6-3.6-.2 9.7-.7-1 1.3-.7-.7-3.1-.3-.7-.2-1.5 .6-1.5-.1-2-.1-.4 1.1 1.5 1.6 4.3 2.5 5.5 .1-2.3 .8-2.4-1.2-2.2 .5-.5 1.6 .9-.2 1.4-.2 1.9 1.8 2.4 .3 1.1 1.5 1.4-1.3-.1-.8-3.4-1.3-3.8-.2-.6 1.1 2.2 2.5 1.8 .3 2 .7 3.2 1.9 1.8-.1 3.3 .4-4.4-.8-.2-.3-1.1 .6-.5 1.9 .6-.2 1 1.1 1 .6 .3 .3 .6 .8 2.6-.2-4.2-1.5-4-.2-1.4 .6 .9 1.9 3.2-.1 1.9 1.1 2.5 1 1.9 .6 3 1.6 1.8-.3-6.7 1.1 2.1 1.4 1.3 .1 2.4-.1-.8-.6-.8 .9 .8 .3-1.2 1.5-4.1 .9 3.4 1.2 3.7 .5 2.4 1.9 3.5M220.3 128.6l-.2-1.4 .6 1.2 .5 .9-.8 .8 1-.3-.2 .7-.4 .5-.2 .5-.1 .4 .7 1-.4 .4 .5-1.2 .3 1.6 .5 2.2 .8 1.3 .1-1.2-.4 0-.7-.4-.1-1.1 1.1 2.4 .8 2.6-1 1.6 1 .2-1.6-.3 .7-1.1-.5 .3 .5 1.5 .9 2-.1 2.1-.2-.3-.6 .3-.2-.9 .5-.6-.4-.1M129.1 128.1l3.4 10 1.9-6.6 2.3 2.5-.1 1.7 .4-1.3-1.4-1.4 .5-3.4 .9 4.8 .9 2.9 1.4 1.3 .1-.3-.2-.6 .6-1.6 .7-1.6M143.4 135.5l.2 .6 1.8 1.6-.4 1.5 1.4 1.4 .6 .9 .1-2.8-.4-2-.3-2.5 1.3 2.5 .9 4.1 1.8 2.7-.6-1.3 .8-2.1 .1-2.4-.7-3.5-1.5 12-.5-2.5 .5-2.1 .8-3-.5-1.9-1.7-2.5 .4-3.3 2.5 6.2 3.2 6.8 1.6-2.9-.1-.8-0-.4 1.2-.5-.5-1.5 .8 .6 .1-.4 1 .2 .6 1.7 .7 1.6 1.2-.4-.4 .4-.3-2.3-.5-2.3 .9-2.6 .2 1.9 1.3 .4 .3 2.2 1.8-.8 .4 2.3 .7 1.6 .8 3.7-.8-3.2-.7-3.5-.1-2.9-.7-2.8-.5-1.7 3.6 6.9 3.3 7.8-.7-6.3 .2-2-.6-1.7-0 2.4 2.3 4.1 1.8-.7-.7-1-.1-1.3 .4-1-0-.4 .7-.7 .9 1.8 1.2 1 .9 2.3 1.5 4.5-1.9-4.7-1.6-5.2-1.3-6.4 1.6 4.3 1.3 2.8 1.2 3.6 2.1 2.4 1 3.6 2-9.9 .2 1.8 1.4 2.2 1.2 2.3 .3-2.6-0-2.4 .4-1.7 .8-.5 2.5 7.2 .6-.2-1.7-4.9-1.2-4.6M192.6 142.9l1.1 .8-1.4-3.1 .2-2.9 .9 3.2 0 1 .7 .6-.1-2.1 .8 .1 .5-2.3 .7 1.7 1.1 .8 1.8 3.3 .5 1.6-.3-2.6 .7-.5-.9 .3 .6-1.6 .9-.7-.3-.2 .7-1.4-.1 9.9-1.6-9.9-2.2-4.3 3 5.4 1.4 4.3 1.7 4.4-.3-3.8-.9-2.2 .2-3.5-1.1-3 .6-2.7 .8 2.3 1.2 2.2 2 2.8 1.8 2.1-1 2.4 2.9 3.7-.2-.7-1.5-7.8-1.4-5.7 1.6 4 3.5 10.5 0-7.8 .7-2 .4 1.2 1.4 2.6 .2 1.3-.2-.9 .8-1.2-.1-1.8 .3 .7 1.1 2 1.7 2.8-2.4-4.7 1.4 .6 1.1 2.7 1.1 3.2 .1-4.3 .4 .9 .5 .3 .7 .4 1.3 .4 0 2.4M133.1 137.9l-1.5-5.2-1.1-4.2-.4-1 4.4 12.6-1.6-7-1.2-4.6 .3-1 .8 3.2-.1 3.1 3.4 4 .1 2.5 1.5 3.9 .4-4.6 .2-2.3-.3-1.1-.4-.9 2.1 3.2 1.4 4.1-.4-1.4-.2-2.3-.1-1 .3-2.5 .3-.5 .4 3 2.6 1.5-.4 3.5 2 1.3-.2-3.5 .6-.1 .5-.8-.4 .1 .7 .7 .2-1.5 .9-.1-.2-.9 .8-.3 .2 1 1.6 1.9 1.5 .2 1.1 4.9-1.2-2.1-.5-4.6-.8-3.1-.8-2.9 1.8 1.7 .9 3 1.4 4.9 2 4.4-.3-3.8-.2-3.1-.5-4.1-1-3.7-.6-1.7 3.3 3.4 .8 4.8 1.5 4.6 1.8-2.8-.4-2.8 .2 .8 .2-2.3 .2-1.2-0-1.1 .4-1 1.1 1.1 1 2.1 .6 1 .9 1.2 .7-.1 .7 1.8 .8-2.8 .1-2.3-1.2-2M169.4 133.7l0-4.4 2.6 7.3 1.7 5.7-.7-3.9-1.1-3 .4-3.4-.8-3.2 3.7 8.9 1.5 2.1-.6-3.9-.4-2.5 1.4-.5 .3 1 .6 2.7 .7 1.2 1.8 1.4 .7 .7 1.1-7.5 1.1 2.2 1.4 2.7 1.6 2.2 1.1 1.8 .3-2.4-1.3-.3 0-.6 .8-2.4 .6-1.4-1.9 0 1.8 10.1-1.7-1.6-.1-3.1-.1-2.1-.1-3.3 .4-3.3-.7 .6 1.6 3.6 2.4 5.3 1.2 3.8 3.1-8.7 1.1 5 1.1 .2-.8-2.6-.9-1.2 1.2-1.9 .6 2.1 2 2 1.7 2.2 .6 1.7 1.3 3.2 1.8 1.9-1-2-1-4-.5-2.7-.3-2.8-.2-3.2 .4 14.7-1.2-4-.7-4.3-.9-4.6 2 6.4 2.8 4.7 .8-3.8-.2-3.1 .8 1.8 .8 1.9 1.1 2.4 .2-1.1 .1-2.2-.4-3.5-.4-1.9 1.9 3.7 1.9 3.5-.6-3.8-.3-3.8 .5 1 .8 1.5 1.4 1.5 1.3 1.6-.2 1.1 .9 .7-0-2-0-2.4-.7-2.6 .9 1 2.1 3.6 .5 2.8-.6-3.4-.7-4.2 1.3 1.7 .3 3 1.8 .7 .8 2.4 1.6-2.2-.7-.4-.5-1.1 1.3-1.3 .9 1.8M284.5 149.2l-.1 .7-.5 .6 .3 1 .7-.4 .2 1.1-.1 1.7 1.1-.1-1 0 .9 1.1-.7 .6 1-.3-.5 .7 .6 .6-.1 .6 1.2 .6-.5-.3-.5 1.7 .5 .7 .7-.4-1.2 .3 .9 .8 1.6-.2-1 1.1 .2 1.2-.5 .3 .2 1 .1 .7-.4-.5 1 1.1 .1 2-.7-1.5 .7 1.1M289.5 169.7l.9 .4-.6 .9 .4 .2-1 1.5 1.1-.9-.9-.6 .3 .4-.4 .9 .4 .8 0 1 .6 .1 .6 .8-1.3 .1-.9 .5-.2 .8 .4 .5-.3 .6 1.6 .1M278.7 182.8l1.6 2.3 .4 1.6M276.6 179.7l.4-.1-.9 .6 1-.1 .3 .2-.6 1.3 .7-.1 0 2.2 .3-.1-.8-.2 .3 .6 .4 1.3-1.4-.9 .7 2.3 1 .8 .1 .7 .8-.1-1.4 .1 1.2-.1 1 1.5-1 1.2 .2-1.5-0 .6 1.5 .3-.1 2.1 0 .6 .7 1.3 .3-.1-1.1 .1 .6-1.2-.8-.5 1.3 2.5 0 2.8 0-1 0-.4 .7-1-1.2 2M277.1 179.3l-.5 .4 1 1.6-1.2 .3-.7-.9-0 1 1.1 1.2-.1 1.6 .5-1.6-0 1.6 .2-.4 .7 1.8-.4 .2 .2 1.2-.4-1.1-1.2-.1 1.2 1.6 .5 1.6-.8 1.2-.5-1.4 .2 2 .2-.5-.5 .8-.3-1 1.4 .9-.1 .9 .4 .7-1-.3 .3 .1 1.1-.1 .3 1.1 .1 1.6 .7 .9-.4 .4 .2-1.3M273.2 181.5l.1-1 0-.9-.9 2.2-.5 .9 .2-1-.5 .5 .4 .7-.2 .4 .6 1.4 .7-.1-.4 1.2 1.1-.2 1 1.3 .4 .3-0-.6-0-1.7-1 .8 .3 .2 1.4 .4 .5 1.7 1 2.1 .5-1.4-.4 .1-.2 1.8 .9 .6-.2 1.1 .6 .9-.7-.2 .2-.5-.8 .7 .3 .2 .6-1-1.3 4.4 1.6-1.4-1.5 1.2 .3-.8-.6 1.3M273.3 182.8l-.5-.2 1.4 .2-.3 1.3-.2 1M273.9 188.1l.2 .4-1.4 2.6 1.3 .3 1 .9-.1-1.8 .8 1.4 1.4 1.6-1.3-.2-.6 0-1 0 1-.2-.3 1.2 1.4 1.6 .4 1.2-2.1-.8 1.6-.1M290.4 180.8l.5-.8-.4 2.3 .6 .5 .3 .2-.6 .7 0 .8 0 .9 .5-.7-2.2-.5-.1 1.2 .9 1.3 1.1 .1-.1 1 .9 1.2-1.4 1.2 .2-.9-.3 1.4-.5-.4 1.7 1.3 1 .7 .6-1.2 .7 .6 0 .8-.4 1.2-.8 .3M289.3 179.4l-.2 1.1 .3 2.3 .3-1.1-.4 1M289.9 186.5l-1.6 .5 .1 .8 .7 .1 1.5 .2-1 1.6 .7 1.4-1.1-.7 .3 .4M291.4 193.6l-.4 .1 .9 .4-.6-.6 .9-.1M284.5 186.2l.4-.3-.3-.1 .9 .7 .5 .7-.2 1.4 .1-1.4-1 .5 .6-.1 .6-.3-.7 1.7 1.9 2.4 1.1 .9-.4-1.3-.5 .3 .4-2 .2 .8 .3 1.8 1 2.5M275.1 199.2l-1 .3-.4 .1 .5 .5 1.5-.7-.5 .2-.5-.4-.4 .6-0 2.1 .1 .3 .8 .7-.2 1.3 .1-.5-.1 1.5 .5 2-.1-1.9 .5 .7-.4-.3 .8 .9-.8 1.7 .6-.1 .4 .3-.1 .6 .4 .4-0 1.4-.7-.2 .8 1-.2 .8-.3-.1 .8 2.7-1-1.5 .7-.1-.2 2.4 .6 1 .9 .5-.4-1.2-1.4-.7 .5 1.6-0 .8 .1 1.4 .9-.2-.3-.2-.2 .8M277.2 227.1l.2 .8 .3 .1-1.3-.2 .7-.5-.8 0 .1 1.5 1.5 2.3 1.4-1.5 1.1 .7-.6 0-.5 1.4 2 .2-.5 .2-.1-.5 .5 .2-.2 .7 1 1.6 0 .4 .9 .6M273.2 226.2l-.1 1.8 .4-.3-.4-.5-.5 1 1.1 .3 .5 1.1 0 1.8 1.1 1.2-.4-1.3-.6-1.1 .4-.2M275.5 232.3l1 3.7-.2 .3 .7-.6 0-1 .8 1.7 1 1.7 0 .4 1.1-1-.4 1.4M272.1 228l.6 1.6 .6 .4 .1 .8 .1-1.2 .1 1.8 .4 1 .4 1.4 1.4-1.6 .3 2.7 .4-.6-.2-.8-.9 1.6 .7 1.7M277.5 237.3l1.1 1.2 .2-.3-1.1 .9M271.8 233l.4 .6 .5 .3-.7 2.2-.4 .5-1.1 .3-.6 .8 1.2-.6" stroke="#0a64a6" stroke-width="1.8" fill="none" stroke-dasharray="0 1.5" stroke-linecap="round"/><path d="M124.9 63.7l-.3 3.1 .9-1.3-.3-.8-0-1 .6-1.4 .4-1 .2-.5 .2 .4 1.5 2.1 .5 2.8 .8-3.5 2 2.1-.6 1-.1 1.2 2.3-.9-0 1.4 .8-1.3-.1-.4-.5-.5 1.4 .1 .2-.5 1.5-2 .9 4.5 1.6 1-.7-3.5-.6-1.2-.2 1.5 1.6 .7 1.1 .1-.1-1 .4 .9M125.3 63.5l-.9-1.2 .6-.5 .1-2 1-.9-1.2 1.4 3.1 1.8 .6 2.5 .2-4.6 1.8 3.3 .9 1.1-.8-3 1.3 3.5-.7-1.7 .5-2-.8-1.2 1.3-1 .2 1.6 .4 1.7 .5 1.7 1.2 2.3 .5-4.8 .8 2.3 1.3 1.4 .7-.1 .5 .8 1.7 2.4-.3 .4-.3-2.2 0-1.3 .6-.4 .4 1.2 .8 1.7-.3-.4 .4-1.7M123.3 60l.2 1.3 1.5 1.7 .4 .7 1.7 .9 .5 1.8 .5-.8-.2-1.4 .8-.3-.4-.5 0-.4 .6 .8 .5 1.7 2 1.3-.4 .7 .1-2.5-.6-.9 1.3 1.1 1 2.8 .6 .8 1.1-.4-.2-2 1.4-1.5-1 .6 1.7-2.4-.1 2 .2 3 1.1 1.1 1.2-1.7 .2 .4-.3-.3 1.5-.1-.5 1.3 .7-.3 1 2.2-.2-2.7 1.2-1.8 .4 1.2 0 1.1 .4-.6 1.3 1.9 .5 1.6-1.4-2 .5-2.5 .9-1.4 1.1 1.5 .2 1.5 1.9 1.5 .8 2.1-1.2-2.8-.5-1.6-.3-.2 1.7 2.2 1.1 1.8 .6 .9M121.6 66.6l-.2-.7 .3-2.3 .6-.2 .8 1.4 .7 2.4-.4 .4 1.8 .8 .8 2.5 1.3-.1 .2-4.2 1.5 1.4 .7 .9 1.1 2-.9-1.4-.3-1.8 1.4-1.1 .2 1.1 1.9 3.5 .8 .7 .5 .2-.6-.9 .4-2 0-1.7 .6-1-.1 3.6-1.7-2.8 1.1-.2 .4 2.9 1.8 1.7 1.6 .2-.5-1.5 .6 .3 .3-1.1 .4-.9-.2 .6 1.8-.4-.5 .8 1.6 2.5 .2-.7 1.5-1.2 .3 0 .4 1.3 .3-.4 1.2 .2-.2 .7 .1-.9-.3-2.1 1.7 1.6-.6 .2 1.1 1.3 .9 .7 .7 1.1 .2-.9 .6-.5M121.6 61.7l1.7 2 .4-.1 1.6 2.1-.7 1 .3-1.9 1.3 .7 .1-1.7-.3-.3 .6 0-.7 .1 1.2 .8 .9 1.7 1.8 1.1-.3-1.5 1.4-.1-.8-.2 .7-.3 1.5 .3 .1 1.1 .8 .9 1-.1 .1-.8 .6-1.5-.6 .5 2.2 1.4 .8 2.7-.1-.9 .3-.8 .2-.3 .9-.5-1.2 1.9 2.5 1.5 .7 .8-.2-1.2-1.3-2.3 1.6 .3 1.8 1.3 .4 1-.6 2.2 .5-.7-.1-.8 1.1 .6 0 .9 .9 1.6 .2 1.7 .7-3.1-.1-.3-.7-1.7 .8 .7 .7 1.2 1.2 1.8 .4 1.2 1 3.1-.5-1.1 1.3-.8-.3-.6 .7-1-.8-1.4 .3-1 .8-1.2 .5 1.4 2.2 3.3 .8 .1 .8 .1-.1-2.3-.4-.1 .3 1.3 1.5 1.3 .9 .8 .9 1.1 .6 .1-.9-.3 .4-1.8 .6-2 .6 2.5 .4-.9 1.7-.8M119.1 69.7l.7-1.8 .4-.8 .9-.8-.3 1.8 .9 .8 1.9 2 .3-5.1 .5 2.9 1.7 1.2 .1 .7 1.3 .8-.2-1.3-.2-2.5 .8 3.2 1.6 1.4-.3 .6 1.1-2.1 .5-1-.9-.3 .1-.8 .6 .2 1.9 1.8 .2 1.6 .7 .5-.1-3.2 .2 .7 0 1.3 1.3 .7 .5-.2 0-.7 .8 .6 0-.6 .5-.3 .8-1.1 1.3 .5 .9 1.2-.1 1-.4-2.3 .5 .5 1.8 1.4-.1 1.5 1.4 .7-.5-.7 1.1-.4-.1 .7 .5-.9-0-1.6 1 .6 2 6-.6-3.7 .2-1.6 .2 2.8 1.3 .8 1.4-.1 .3-1.3-.1 .6 1-.9 .4-.8 .3 1.3 1.1 .9 .5 1.4 .5 .2 1.1-0 .2-.9-.2-.8 .7 .3-.1-.6 .7 .5-.3 4.3-.9-4.5M118.6 68.8l2.6 .9-.2-1.6-.3-1.1 .5-0 1.1 1.3 .8 2.6-.2-.8 0-1.5-.5-.2 1.6-.9 .2-.8-.6-.8 1.3 1.7 .6 2.1 2.1 2.1 .5 1.2-.4-1 .6-.2 .9-.7 .2-.9 .2-.4 .8-1.5 .2 2.5 1.2-1.5 1 1.7 .3 .9 1.1 .5 1.5 .6-2.2-1.5 1.1 1.9 .5-.3 .2-1.6 0-1.1 1.3-.9 .3 2.2 1.2 2.2 .1-.4 .5 0 .5-1 0 .6-.3 .4 2.1 .4-.3-.9 .4-.5 .2 1.1 .4 1.5 .8 .8 1.8-2.8 1.1 1.9 1.3 1.8-.2 .3 .6 .1 .8-.7-.2-1.1 .6-.8 .4-2.2-.6 4.8-.3-2.8 .2-1 1.8 2.1 .7 2.2 .2 1.9 0-.3 .6-1.3-.3-1.8 .7-2.6 0 2.4 1 1.3 .9 3.1 1-.3 .3-2 .5-2 1-.4-.8-.2 1.2 1.8 .4 .6 1.1-.1 1.1 1.5-.2 .8 1 .5M119.2 71.5l.4 .2 .4-1.5 .7-.7-.8-1 .8-.1 .7 1.3 1.2 1.2 .4 1.8 1.4 0-0-2.7-.4 0-0-.9 1.4 1.3 .7 .4 .2 .5 1.3 2.1-.4 .5 1.4-.3M130.4 73.5l.2 1.2 1.6 .7-.8-1.1 1.6-.1-.8 .8 1.2-1.9-.8 .1 1.9 .6 .5 .9 1.2 1.7-1.3-.1 1.7-.7 .8-.6-.8-.2 .6-.6 .4 .5 1.2 1 .1 2.1 .9-.7 .5-.8-.9 .3 1.5 .1 0-.6 .6-.8 .6 1.8 1.6 .7-.3 .5 .4-.5 .4-1.3-.7-1 .8 .9 .8-.7 1 3.4 .6 .3 .8 1.7 .4-2.1M151.4 80.1l.3 .3 .7 .7 .2-1.7-.9-1.4 1.6 .3 .2 .7M156.8 79.4l-.8-.8 2.3 .2-.6 1.7 1.2 .4M163.2 80l.4 1.2 .8 1.3 .4 .7M118.4 74.6l.5-3.3-1-1.3-.4-1.4 1.4-.3 1.2 .2-0 2.5 1.6 2.5 .7-4.8 1.7 1.4 1.7 1.5-.7-.9 .8-.5-.2-.5-.1-1.4 .7-.9 .9 1.5 .7 1 .8 2.4 .9 .3-.5-2.6-.3-2 .6 .8 .9 2.5 1.4 1.1 .6 .5 1.4 .6-.4 .4 .4-2.1 .1-.9-1.2-1.8 1.5 .6 1.3 1.1-.3 .2 1.2 1.7 .9 .1-0 .4M137.6 75.2l.9-1 .6-1.3-.5-.4 .3-1.4-.2-.9 .5-.4 .4-.2 1.1 2.3 1.3 3.3 1.7 .7-1-2.2-.1-1 1.1 1.4 2.1 1.6-.3-1.7-.1 .6 .5 .3 1.1 1.2-.4 1.4 1.6-.7 .2-1.6-.7 .4 1 .9 1.5 .1-.5 1.7M154.6 77.3l.3 .5 .6 0 .8 .9 .5 1-.1-2 .1-2.2 .7 1.4 .8 1.5 .9 1 1.4 2-1-1.2 .5-.2 .6 .5 .1-.5 .1-1.6 .7-.1 .7 1.3 .4 .2 1.4 .5-.1 2.8 .8-.5M117.4 68.3l1.7 .7 .6 .5 1 .9 1.6-3.2-.1 .8 .7 .7 1.7 .9-.1 2.4 .4-1.3 .5-.1 .3-.6 .2-.7-0 1 1.4 1.1 .4 .3 .7 .7 .6-.8-0-.6 .6-.7 1 .6 .1 .9-.5 .6 .7 .9 .9 .1 .2 1.3 1.3 .3 0 .3 .6-.5 .5-1.1 .7 1.3 1.1 1.2 .8 .2 1.3 .2-1.9-1 1.2-1.6 .5 1.6 1.9 1.5-.2-2.3 .5-.7 .7 2.5 1.5 1.7 .2 .7-1-2.8-.2 1.6 .4-1.5 .5-.9 .6 .5-.5-.9 1 .5 .6 1 .6 .8 .6 1.5 .6 1 0-.7 .6-1.3 .9-.1-.4-0 1.3 .9M151.1 80l2.2 .9-.4 .9 .8 .2 1.2 .7-1.7 1 .5-2.7 .4-.6 .5 2.1 1.2 1.6 1.4 2.4 .1-1.8-.3-2.2 .5 1.1 .6 1.3 1.9-.8 .2 .6-.3 1.5 1.2-.8-.2-1.9 .9 3.5-.5-.5 .4-.9 0-1.1 .6-1.5 .9-.8 1.3 2.2 .4 2.2 1-1.2 .6 .1-.3 1.6 .4 .3 1.1-.9M175.1 89.9l.5-.4 1.2 .3-.1 .4 .3 .7 1 .7 .1 2.4 .1-1.6-.8-1.1 .7-.3 1.8 2.7 .4-2.4 1.5 2.4 .7 1.8 .1-3.3-.3 1.1 .7-.3 .9 .4 1.4 1.6 .1-1.5 1.1-.4-.8 .6 1.4-2.1 1.5 2.9 1.5 3.5-2.2-5.7 1.2 2.8 .1 1.2 .6 1.1 .8-.6 .5-1.2 .7 .1-.1-1.6 .6 1.1 .6 1.5M116 71.6l-.4-1.4 .4 2-.2-1.2 1.4-.2-.9-1.5 1.5 2.7 1.1 .9 1-.2-1.2 1 2.2-1.1-.6-.4 1 .1 .4 .2 1.1 2-1.4 .2 .2-3.1 .4 .8 .6 2.1 1.3 1.9 .6 3.1 .2-4.1 .7-.3 .6-1.7 0 2.4 1.3 1.1 .1-.3-.3-1.5 .3-1 .6 1.2 1 1.7 .8 1.2 .5-.8-.1-.5 1-1.3 1.3 .6-.2 1.2 .7 .6 .9 .2 0-1.3 0 .4 1.1 1.2 .2 1.5 .9 .6 1-2 .6-.7 .5 1.4 1.3-.4-1.2-.8M142.2 81.2l-.4-.6 1.1-.5 1.1-0-.9-.1 .6-.9 .5 1.3 .3 .5 .5 .4 1.8 .1-.1 3 1.1-2.6-.4 1.8 1.4-.4-.2 1.9 1.3-.5-.5-.9-.3-1.6 2.6 1.7 .6 .8 .5 2.1 1.5 .3-.5-.2 .7-1.8-.5-.1 .2-.7 .4-1.6-.7-.1 1.6 1.8 1.2 1.8 1.1 2.8 .7-1.4-1.3-1.7 .7-1.4 0 1.7 1 1.8 1.3 0 .3 1.1 0-1.4 1-1.3-1.4-.1 1.6-.7 .7 1.2-.1 .8 1.2 .3 0 1 .9-1.5 1.1 .2-.2-2.1 .8 .2 .2 1.2 1.1 .3 .8 1.2 .6-1 0-.5 .2 .4 1.3 .4 .1 .8 .5 .3 .6-.6 1-.2-.4-.7 .4 .8-.5-1.9 1.7 3.4-.3-1.9 .1 .7 .5 .7 2.2 .6-.4 2.1-.2-2 .9 .1 .2-.5 1.2 .4 .6 0 .5 .7 .7 1.1 .6 .6 .7-.5 0-.7 .4-.2-.1-.4 .8-1.2 .5 2.1 .5 1.6 1 .9 .7 1.5 .1-3.2 .8-.2 .2 2.1 1-.1 .9 .8 .1-.9 .9-.1 1.6-1.5 .2 5.4 1-.2 .5-1.2 .5-.7-.3-1.8-.5-.5 .2 1.6 2.2 1.4-.2 2.8 .4-.9M114.8 71.6l-.3-.3 .5 .4 .3-1.5 .5 .9 .4 .3 .8 2 .2 1.6 .7-2.6-.6-1.7 1.2 1.1 1 1.9 .3 .7-.4-1.8-.1-1.8 .2 .8 1.9 .8 1.1 1.4 .3 .9 1.3 1.8 1.1 2.1-1.1-3 1.1-2.1-1.6 1.5 2.6 1.6-.5-1.8-.7-.5 1.7 1-.3 .3 1.3 .9 1.1 1.8 1.1 1.4-1.3-2.5 .3 .1 1.9 .9 1.9 .2M135.9 80.5l0 .6 1.7 .4-.4-1.5 .4 .3 .9-1.4-.1 3.5-.5-1.1 .9-1.3-1-.3 1.4-1.9-.3-.2 1.4 2.8 .2 3 1.5 1.3 .9-2.7-.2-.6-.1-.6 1-.5 1.4 1.5-.6 2.5 1.2-2.3 1.7 .4 .6 .6-.4-.3 1.2-1-.5-.2 .6-1 .5 1.6 .8 1.2 .2 .4 1 1.4 1.7 .2-1.2-1.8 .2-.7 1.4-.6 .5 1.4 .8 .7 .2 .7 .7 .8 .2-1.3 .5-1.7-.4 .6 1.4 .4-.5 .1 1.1 .1 .4 .4 .5-.7 .3 .1M165.1 87.4l.1 .6 .4-1.3-.5-2.1 1.2 2.3 .4 1.9 .4 .9 .7-1.4 .3 .1-.6-.7 .5 1.2 .6-.6 .6 2.8 .5 .2 .9-3.1 .7 3 1.8 2.9-1.7-1.7 .8 .4 .6-1.5 .5-.8 .2-1.7-.1 .9 1.9 4.2 .1-.4 .7-3.7-1 3.9-.8-2.2-.3-2.3 1.7 2.2 1 2.3 .4 2.6 1.1-1.8 .9-1.5-1.2 .3 1.5 .9 .1 1.9 .7-.3 .8 1.8 .4-3.1-1-1.2 1.5 2.1 1.5 1.6 .2-1.2M186 97.9l-1-1 .3-1.4 1 1.3M95.4 75.5l-1.1-1.4 .5-1.2 .5-.3-.5-2.9-0-1.2 .9 3.2 .2 2.5 1.6 .6-.5 .3 1.6-.1-.3 0 .5-.3 .4-.1 1.3-.6 .4 1.2 .8 0 1.2 1.6-.2-.6-0-1.9 .3 .3 .5-.7 1.4 1.6 .2 1 .8 .8 .7-.8 .2-.9-.3-.5 .7-1.2 1.1 0 .2-.7 2 3.9 .4 0 .2-1.8-.1-.5 .4-2.1 1.6 2.8 1 1.8-.1-1.5 1.1-1.2-1.3-1.3 .6 2-.5 .3 1.1 .1 1 .3 .7 1.4 .5-1 .1 .7 .4-2.6 1.7 3.9 1.4 2.2-1.2-3.6-.3-.9 1.6 .7 .6 4 1.3-2-.4-.9-1.1-.7 1.8 1.4-0 1 2.4 .9-.1-.5 .2-.7-.3 .3 .1-2.2 1 .1 1.3 0 .2 2.6 1 .8-0-1.3 .1-1.5 .9-1.3-.1 1.3 .5 2.8 1.8 2.3 .1-2.1-.2-2.1 .9 3.3 1.4 1.2 .4-1.2-1.3-1.9 .9-.7-.6 2.6 1.1-.6-.3-1.6 1.3 .4-.3-1.2-.5 .2 1.6-.3 1.5 .8 .2 1.2 .5 1.5-.3-4.8 2.5 1.5 .4 1.1 1 .9-.4-1 .1-.4 1.3-1.2-1 2.5 1.2-.2 .2-1.6 .2 1.1-.1-.3 .6 1.1 1.4 1.1 .5 1.4 .6 1.2 .3-1.2 .8-1.1 .2-.7-.2-1.6 .2-.9 1.5-1-.9 .9 1.6 1.3 .9 1.5 1.5 1.8 .3-2.5 .4-1.6-.2 .6 1 1.5 .1 1.8 1.1-.1-1.2-.9 1.1-.2 .4-.7 1.1 1.5 .3 .2-.3 .9 1.1 .3 2.1-2.5 1.3 2.2 .2 1.8 .9-.4-.4-.4 .7 .1 .1-2.1-.5-.6 .5-.1 .5-1.3 .8 1.6 1.2 0 .5 .6 .1 2.2 .7-1.1 .3-.7 .1-1.3 .8-.9 1.5 3.6 1.9 .9-1.4-1.9-.4-3.1 1.6 1.9M94.8 72.4l.4 .5-1-1.3 .1-3.1 1.2-0 .2 1.5 .9 1.5 .9 2.7 1.2-1.1 .3-1.8-0-1 .3-.6 1.4 1.4 .5 1.6 .6-.3 .8-.5-.5 .5 .7-.7 .8-0 .7 .6 .4 .4 .6 .5 .8 .6 1.7-.9 .2 2.4 .4 1.1 1.5-.2-.2-.8 .4-1.8 .4 .5 .6 2.4-1.2-1.3 .8 .6 1.6 .9-.8 1.9 .7-2.3-.4-2.2-.1-1.8 1.2 1.1 .1 1.6 1.1 1.4 .7 1.3 .9 1.3 1.4 .4-0-3.4 .3-.5-.5-1.7 1.4-0 .6 1.3 .8 .8 .1 .5 .9-.1-.5 1.9 1 1.1 .9-1.9-1.2-2.2 .8 .6 .4 1.2 1.9 .2 .4 .8-.3 2.6 1.8 .4 .4 2.5-1.4-4.7 .3-.7 1.8 2.6 .9 4.3 .6-3.8 .2-.3 .9-.3-.3-.7 .3 .6 .7 1.6 1 .4 .1 1.8 .1 .4 2 2.7-.9-3.9-.2-2 .7 0 2 5.4 1.2-4.8 .7 4.3 .2-3.4-.9-1.3 1.7 .8 .1 2 .3-.1 .8-3.3M142.7 83.4l-.9-1.9 1.7 1.6 .5 .2 1.3 1.3-.4-.8 1.1 .1-.8-1.6 .8 2.1-1.6-2.8 0 .5 1.4 1.1 .9 .6 .3 2.7 1.3 1.6 .6 .8 .4-2.9 .7 .3-.5-1.1 .8 1.3 .9-1 .4 2.4 1.3 .3 .8 .8-.2-1.3 .9 0 .6-1.3-.5 0M156.1 89.5l.6-1 .7-1.8M161.7 91.8l-1-1.8-.1-1.6 1-1.7 1 1.9 1.5 2.1-.4-.3 1.6-1.2-.4 .6 .6-2.2 1.3-.1-.3 1.1 1.8-.3-.6-.3 2 1.9 .6 0 .2-.7-.1 .6 .6-.7 .9 0 1.3 3.7 .1-2.7-.5-.6 1.6 .6 .7 1.5 .5 2.1 1.3 1.4-.1-1.3 0-2.1 .8 .9 .4-1.5-.6-2.1 .2 .7 2.2 1 1.3 3.3 .3 3.2-.3-3.2-.4-3.8 1.1 4.3 1.4 2.5-.5-1.2-.1-1.5 .6-1.3 .9-1.3-.6 3.7 .6-.5 .5-.8-.2 .8 1.1 2.5-.1-1.3-.1-2.3 .5 .2 .1 .8M103.5 81.2l.1-.9 0-.9 .2-1.8 .1-2.1-.1-.4 1 2.1 2 1.5-.4 2.1 1.2 1.7 1.2-1.5-.9 .5 1.5-1.4-1.5 0 1.3-.8 1.4 2 1.2 .7 0 .7 .6 .8-.5-1 .9-1.4-.7-1.4 1.6-.1 .7 1.8 .8 .8 .8 1.3 .4 .2 .5 .6 1.2-5.1 1.4 3.2 1 2.8-1-3.8 .2-2.2M124.1 82.5l-.6 .1 1.5 .5 .5-1.2-.5 1-.1-1.4-.1-2 .9-1M128.6 83.9l.7-1.9-1.2-2 .3-.7 1.2 1.7 1.5 .2 1 1.2-.9 2.3 1.9 .7 1-.5-1.9-3.3 1.4 .1 .3 1.9 2.3 2.5-.1-1.3-.3-.6 .3-.6-.1-1.9 1-.5-.7-.8 1.1 1.1M140.8 84.1l.4-1.5-0-1.6 .6-.2 .7 2.4 1.7 3 .5 3 .9-3.5 0-.3 .7-1.2 .3 .3 1.6-.1-.8 .4 2.7 1.1 .3 .5 .3 1.1-.6-.8 .5 .1 .5-1.4 .9 1-.3-.9 1 1.7 1.2-1 .1 .4 .5 .9 .2-1.2 .4 1.6 1.7-.5 .5-.1-.7 1.6M160.5 86.5l-.7 1.2 .6-1.1 .4 2.1 1 .8 .3 1.6 1.1-.5-0-.9 .3-.5 .3-.6 1-.2 1.1 1.4 .4 1.5 .4-.1 .5 .3-.3-.8 1.2-1.5-0 1.4 .1 1.2 1.2 .5 .5-.8-.6-1.6 1.9-.2-.4 .8 .8-.4 1.2 1.8 .3 1.7 .9-1.6-.9-.3 .8-1.6 .8-2.5 .3 2M93.9 70.4l-.2 .4 .3 1.9 1.3 1.4-.2-2.1 .2-1.9-1.6-3 1.8 1 .9 1.2 .6 1.5 .9 1.5 .5 2.7 .7-.9M101.9 71.3l.2 1.8 1.9 1.7M105.3 75.8l2.4 .4 1-2.9 .7 .4 .1 1.9-1.2 .2 2 .8 1.2 2-.2-1 .2-1 .3-.6 .6 2.3 .8 .3 .6-0-.2-.3 .3-1.6 1.6 3.4 1.6 2.1-1.2-2.7-.5-.5 1.6 .1-.5 .8 1.6 1.3-.1-.5 .3-.7-.3-.4 1.6-.6 .1 1 .6 .2M124.8 81.8l1.4 1.7 .8 .9 .8 1.5 .4-2.1 .1-.4-.4-.8-.5-1.3 1.3-.4 1 3.6 1.4 2-.7-3.2-.4-1 .7 1.6 1.6 1.1 .4 1.1 .3-1 .1-1-.1-1 .5-.2 1.1 1.4-.3 .6 1.4-.1-.3-3.2 1.4 2.1 1.2 0-.6 2.5 2.2-.5-.4 .1 0-1-.3 0 1-.1 .3 .1M144.6 87.8l-.7-1.8 .2-.7 1.6 2.4-1 0 .3-1.4 .6-.5 .3 .4 .8 .3 .5 2.3 1 1 .6 0 .5-.3-.4-.9 .3 1 .2-1.1 1.8-.2 .5 1.1-.5-.2 1.9 1.3 .2 1 1.2-2.1-.6-2 .4 2.4 .3 2 .6-1.1-.3-1.1 1.1 .4 .4 .6 1.2 1.8 1 1 .2-1.4-1.8-1.5 .7 .1 1.5-.1 .1 2.7 1.6-.3 .8 2.7-.9-1 .4-0 .6-.4 0-.7 .5-1 .6 1.1 1.5 1.6M166.5 93.8l1.5 1.3 .4 .3 .7 .3 .9 .6 .2 .8 1 2.2 .7 .9M117.6 81.2l1.3 .6-.5 .7 1.5 .8-.5-.8 .1-1.4-.5-1.4 2 .3-.3 1.5 1.1 1.3 1.5 .5 .4 1.8 .3 1.1 .5-2.2-1.6-2.6 2.1 2.6 .9 1.6 1 3.1 .1-3.4-.8-1.2 1.2-1-.4-.8 .8 1.8 .6 2.1 1.5 .7 .3-1.5 0-.4 1.4 1.6 1.6 1-.3-2.7-.6 .1 1.4-.2 .7-.9 .1 1.7 2-.6-.4-.6 1.8 1 0-.7 .7 .6-.6-1 .2 .9 2.2-.2 .9 .8 .1 1.1 1.2 .3-.4-.5-1-.8 1-.5 1.2-.2 1.4 .7 .3 1-.1-.4 2.8 .5 .5 1.2-.4 .1 1-.8-.4-1.3-.6-.7 1.8 .4 .7 .8 .1 1.6 .6-1.6 .1-.3 .8 0 1.1 2.4 .9 3.1 .6-2.3 .1-.9-1.1-.6 0-1.4 1.7-.3 0 1.6 1.1 2.1 .5 1.8 1 2 .1-2.1 .2 1.3 0-2.8 .8-.2 .7 2.8-.6-.6 .4-1.2 1.2 1.1 .3 1.8 .2-.8 1.2-.1-.4-1 .2 .4 .3-.2-.4-1.3 .5 .3 1.4 .2 1.1 1 .1 .7 1.7 1.5-.2-1.6-.1-1.6 .9-.9 .4 1.1 .3 .3 .7 .7 .4 1.8 .9-.9-.1 1.3M172.6 93.7l1.5 1.1-.7-1.5 1.1 1.4 .4 3.2 .5 .2 1.7-1.7 .2-1.3M100 79.7l-.3-2.2 .7 1.9M115.4 84.3l-.3-2.3 .6-1.2 .4-.2 .4-.8 .2 .7 .1 .6 1.9 .6-.7 .7 1.7 .9-.1 .6 .6-2 .1-1 .7 .9 1.3 2 .5 1.3 .1-.4 .5-.2 .5 .1 .1-.5 1-1 .4 .6 .9 1.1-.1 .7 .9-.3-0 .3 .9-.7-1.2-1.7 1 .2M130.7 87.1l.6-.1 .8 1.4 .2-1 .4-1.4 .5-.6-.6 .3 1.4 .1 .3 1.8 1.5 1.6 .1 .8 .3-2.2-.2-.3 .3-.5 1.7 1.9 1.4-1.4-.5 .9 .1-.8-.2-1 1.3 .3 .8 .9 .9 1.7 .4 1.9-.1-.6-.1-2.2 2.3-.4-.8-1.2 1.2 1.1 1 2.2 1.8 1.6 .3 .2-0-1.5-.6-1.3 1-3.2-.3 2.8 1.8 3.7-0-3.3 1.6-2-1-1-.1 1.4 1.2-.2 1.2 1.1 1.1 .8 .2 1.5 1.5 .5 .3 .2 .6 0-.7-.8-.2-1.6 .7-.6 .8 1.9 .5 1 1.7 2-1.2-3.5 1.4 1.4 .6 1.4 1.1 1.2-1.4-1.8 .1-1 .4 .3 .6-0 1.3 1.6 .1 .6 .8 2.2 1.1 .9 .4 1.1 .3-.9 1.1-.5-.6-2.1 1-1.4 .4 .4 .4 .7 .8 1.4 1.2 1.7 .9-.1M122.8 83.6l1.6 2 .3 4 .6-2.8 .5-.6 .4 .5 .3 0 .1-.6 2.3 .9 .3 1 .1-.3-.6-.5-.2-1.1 .1-.6 1-.3 .7 1.2 1.8 2.3 .4 .1 1.5-.7-.5-1 .4 .4 1 .9-.7-.8 1.8 .4 .9-.3-.1 .4 .9-.3 1.1 1.1-.2 1.6 .4-1.1-.3-1.3-0-.9-.4-.5 1.6-1.1 .7 4.5 1.2 2-.1-.9-.4-.2 .5 .4 1.1-1.3 .4-1.1 1 1 .3 2.6 .2 1.2 .1-.4 1.3-3 .6 1.1 1.1 1.4 1.2-.5-.1 .9 1.1 .4 0-5.3 1.9 4.2 .6 1.7-.1-2 .2-1.9 0-1.1 .8 1.5 1.5 1 1.1 1.2-.2 1.9 .6-.5-1.1-2.5 .4-1.9 2.5 1.7-.3 2.2 1.7 1.5 .4 1.8 .1-2.6-.3-1.8-.1-2-.5 2.3 1.4-.6 .5 2.1 .5-0 .7 .8 1.2 .9 .5 .3 .2-.9 .2-1.3 .2 1.2 1.1 1.4-.4-1.5M168.3 97.3l.3 .8M137.9 91.5l1.3 .6 .1 1.7 1.5 .2-1.1-2.3 .5 0 .7-1.7 3.6 5.8-.7-2.8 .1-1.1-.4-2.9 1.1 4.1 2.1 .7-.7 1.1 .8-1.7-.6-2 .2-1.6 .9 .6 1.2 2.6 1.1 1.8 .1 2.4 .7-.5 .3-1-.2-.6-.5-1.7 .7-1.2-.3 4.7 .4-2.9-.1-2.1 .7-.3 .6 .7 .6 .9 .4 1 1.6 1.6 0 .7-.1-1.9 .2-1.3 1.7-.8-.3 1.7 .9-.6 .7 1.6 1.3-1-.6-.8-.5-1.7 .6 1.1 1.7 .9-.1 1.2 .9 1.8 .6 1.5M165.6 97.6l1.8 1.3M164.8 49.2l.6-.4 .6-.6 .6 3.2 .7-1.7-.3-2.2-.7 .3 .8 2 2.2 1.3 .3 1.9 .4-2.7 .9-.2 .2 .3-.5 .8 .5 1.5 .6-.2 0 1.6 .3-.3 .3-2.4-.5 .9 .1 1.8 1.5 .2 1 1.1 .3 1.5 .9 .6 1 2-.4 .8-.5-.6 .4-2.7-0-.7 1.6 3.6 .3 2.3 1.2-2.2-.5-.4 .5-.7 .1-.9 0 2.7 2 2.9 .3-1.4 .2-2.4-.5 .4 .6 1.3 .1 1.1 1.8 1.6 .3-1.7M153.8 48.6l.7 .9 1.3 1-1.1-1.3-.1 .7 1.5 .3-.2 1.4 2-.1 .1 .4-.7 .7 .6-1 .9-2-0 .5-1.2-1.9 1.6 2.3 1 1.3 1.3 2 .4-.7-0-.5 1.1-1.2-.3-.2-.2 1.2 1.6 1.2 .5 1.3-1.2-3.6 1.1 1.7 1 2 1 .1-.7-1.8 1-1.8 .3 1 .5 2.3 1.8 1.1-1.3-.6 .9-1.4 .4 .5 1.1 2.6-.1 .5 .2-1.6 1.7 .5M177.6 58.2l.5 2.4-.3-2.5-.9 2 .3-.7 .1-1.2 .6 .4 .5 2.1 1-.6 .8 1.1-.6 1.9 .5 2.5 1.1-2.2 .1-2.2-1-1.3 1.6 3.3 .2 2.7 1.1 .8M136.5 45.7l.3-.7-.5-1-.6 .9 1.9 1.7 .7 2.5 1.8-4.4 .6 2.3 .4 2.6 1.4 .2-.2-2.5-.8-1.2 1.3 1.6 1.8 1.1 1.2 2.1-1.1-.5-.1-.6 1.3-1.3 .7 .5-1-.8 .3-2.1 .5 4.5-.4 .4 .9-.5 .4-1.1 .7-.2-.8 2.3 1.9 0 1.2 .1 .7 .2-1.1 1.6 1.3-1.6 .7-.4 .4 .2-.6-.6 .5 1 1.1-.3 1.1 .2-.2 1.2-.1 2 .8-.9 1-3 1.3 2.8 .6 1.8-.5-1.2 1.6 .2-1.5-1.1 1.1-2.5 .9 2.6 2.1 1.4 1.5 2-.5-.2-0-.9 .8-1.1M166.8 57.9l.8 .8 1.1-1.3-0 1.1-0-2.3 .3 .3 .4 1 .3-1.1 .5 .4M171.5 57.1l.7-.9 .9-.5-1.1 0 .5 .8 2.3 1.3 .9 2 .3-.7-.4 .1 .9-1.4 .9-.3 .7-1.6-1.1 1 1.6 2 .4 .7 1.1 1.6 .3-1.2-.7-.8 .9-.6 .2 1.7 .3 3.3 1.3-3-.3-2.4 1.9 1.9 1.1-1.7 .6 1.7M132 46.6l1.3-.1 .3 .7-.6 .5 1.3-1.3-.9 .4-.3-2.7 1.5 2.6 .8 3 1.6 1.1-.2-3.2 .1 .3 1.4 .1 .3 0-.4 .9 1.5-.6-.8-.1 1.2 .9 1 .6 .7 .3-.7 .1 .5 .5 1.4-1.6 .2-.4-.8 1.3 1.2 .1 .7 .8 .8 1.3 1.2-.7-.2 .4 .2-.7 .4-.2 .2-.5-.1 1.4 1.2 .4 1 .4-.1 .6-.6-.8 1.5 0 1 .3 0 .8 .4 .7 .1 1.3 .3 .4 .6-1 .6-.1-.4-.5 .7-.4 1.2-.4-.8 1.4 .8 1.6 .4 1.6 .8 2.2 .7-.5 .6-.5 .2-.8 .2-.3 .9 .3-.5 0 1.7 .7 .1 1.3 1.7 .2 .1 1.3 .3-1.1 .3-2.3 .3 1.3 .7 2-.1-.6 .4-.5 .6-1.7 1.2 1.2-.4 .1 1.3 .1 .5 1.1 1.1-.2 .4 1.9 .7-1.6 .1-.6 .3 .4 .3-1.2 .4 1.5 .6 1.9 .7-1 .7-.5-.1-1.1-.7 .7 .3-1.4 .9-.8 .6 2.6 1.9 2.8 .8 1.5 0-1.6 .5-1.7M130.4 50l.1-2.5-.4-2.1 .4 1 1.9 4.8-.4-5.1-.8-.1 1 1 1.7 .2 .5 1.2 .4 1.3-.4 .2 1.2-.5 2.3 1.9-1.3-1.8 1.6-.6-1.3 .7 1.7 1.5-.5-.8 .7 1.5 .2-1.8 1.1 1.2 .6 1.3 .5 2 0-1.1 .9 .3-.7-1.3 .3 .5 1.2 .6 1.5 4.1-.9-2 .6-1.6-.3 .7 2.5 1.1-.6 2 1-1.7-.8-1.1 .1-1.6 1.6 .1 .3 2 1.8 1.9 .3 1-.9-1.4-.4-0 2.2-1.4 .2 3.2 .1 .5 .7 .2 .6 .2 .7 1 .6-.4-.8 3.4-.3-4.1 .1-1.3 .4 2.1 1.8 .5 .6 2 .8-2.7-.3-.7 .7-.8 .3-.2 .8 .2 1.1 1.7-.9 1.6 .5 .4 1 2.4 .4-2.2-.2-1.3 1.3 2.1M124.3 52.9l1.1 .6 .2 .6 .8 1.3 1.1 .5 .1-.9 .4-1.6 1.2-.6 .3 2.2 .8 1.6 .9 .7-1.2-3.3 1.3 .7 .3 .7 1.3 1.1-0 .7 .8-1.9-.1-.9 .8 .6-.3-.7 .8 2.1 .4-1.1 .3-0-.1-.3 1.2 .6-.4 .5 1.5-1.2 .6 1 .3 .4 1.1 .6 .9-.4-1 .9 .9-.5 .9 .1-.2 .9 .4-.2 1.1 1-.6-.7 .7 2 .8 1.7-1-1.2 .8-1.2-.9-.7 1.5-.1 .7 2.5-.3-.2 2.2-.7 .7 1.9-.1 .6-0 2 .7-3.8-0-.5 1.3 2.7 .8-.7-.3 .6 1.4 .6 .4 .3 .6 .9 .9 .9 .1-.3M121.7 56.8l.1 .5 .6 1.8 1.2-2.7 .9 1 1.1-.5 .3 1.2 .5 2-.2-2 .2-.6 .7-1.3 1.2 .8 1.4 1.8 .4 .1 .4 .3 .3 .2-.1-1.7-.4-.7 .9-1-.1-.6 .9 2.5 1.2 3.4 1.5-.5-.7-1.6-.4-.4 1.1-2.6 .9 1.8-.4 .1 1.3 .7 .7 .3 .4 .4 .8-.2-.7-.2 .8-1.1 .5 .6 .5 .4 1.5 .2 .4 .8 .9 1.2M123.6 55.4l.8-.4-.5 .6 1 0-.2 .5 1 .8 .8-.5 0 2.9 .7-1.2 .1-1.6 .4 1.6 .9-.8 .5 2.1-.3 .5 1.2 1.9 .5-2.4 1 .4-.2-.8 .8 .6 .4 1 .3 1.4 1.6 .7-1.1-.6 0-.5 .5 1.6M120.1 58.4l-.5-1.1 .1 .6 1.6 4.7 .4-1.5 1.2 .3-1.7-.6 1.1-.4 1.4-.4 .1 1.1 .8 .9 .2 .5 1.1 1.3 1-.3-.7 .2M172.4 42.3l1 .1 .6 1.5 1.2 .3 1.1 2.4-.9 2.8 .9-1.1 .4-2.9-1.2-1.2 .2-1.4 0-2.2 .3-2.6-.4-2 1.3-.8-.4 2.2 2.7 2.6 .5 3.2 1.1 2.4 1.8-.9-.5 1 1.1-3.2-.3-.3 1.9-.4-1-1.1 .7-.3 .4-.2-.5-1.7 1.1 .5 1.2 1.2 .9 2.2 .3 2-.9-3.2-.8-4.5-.6-3.8 .8 1.7 1 2.2 .7 1.8 1.2 .8 1.1 .3 1.2 2 .8 1.2 .8 1.5 .4 1.2 1.9 2.4-.6-2.4-.8-5.8-2.3-5.4 1.4 1.3 .6 3.2 .8 1.6 1.6 2.3 .6 2.8 1.7 .1 1.1 1.6 .8-4.4-.1 .3 .4-.7 1.3-1.2-.8-.9 1.1 .6 0-.3 1.7 1.5 .6 .9 .1 .9 .7-.1-.6-1.5 1.3-.5 1.4 0 .5-1.4-.9 1.2 0-.9 .3 .1 1.3 1.2 1.3 .6 .3 1.5-.2 .7-.7-3.2 .2-4.4 .2-1.1 .8 2.8 1 1.2 1.1 2 .8 1.7 1.2 2.2 1.2-5 .7 1 .8-.4 .5 .9 .3-1 1.5 .2 .3-.3-.6-.8-.3-.3 1.4-2.4 1.8 1.8-.3 1 1.4 .7 1 .2 .2 .7 1.7 .8-.3 .1 .5-2.4 0-1-.5-2.3 .1-.4 .8-2.3 .7 1.3 1.4 2 1 1.6 .9 3.6 2.1 1 .5 2.5 .6 1.1 .1-2.6-.3-2.5-.2-3.3M239 43.9l-.8-4.6-2.4-6.2 .3 4.3 1.4 1.1 .5-1.1-.3 1.7 1 .8 1.2 .5 .1 .8 .9 1.1 .3-1.4 .9-.8-.3-.1 .1 .6 .8-1.6 .4-2.1 2.3 4.3 1.4 3.5-.2-1.1 .8-2.5-1.2-2.9-.3-1.7 1 3.1 .3 1.9 1.5 1.2 .3-.2-.8-.7 .4-2.3 .3 3 .2-2.3 2 .3-.8 .9 .8 1.5 2 5.1-1.8-6.9-1.3-6.8 1.4 3.4 2.1 3.9 1.5 5.8-.7-2.8-.1-4-.8-1.8 .4-3.3-.1-.5 1.3 4.4M171.2 40.1l.7 1.5 1 1.3 1 1.5 1.2 1.2 .1 1.5 1.8 2.1-.1-2.2-.3-2.3 0-1-.6-2.2-.5-1.6 1.4-.8-.2-1.4-.6-1.8 1.1-1.9 .7 2.9 1.6 3.7 1.7 3.3 1.6 4.5 .6-4.7 .2-2.7-.9-.6 .6 1.6 1.8 .4 1 1.1-1.1 .2 .4-1.3 .6-2.7 .4-.7-1-1.3 1.2-1.7-.8 .6 1.5 2.5 .5 .6 1.2 2.4 1.7 2.1 1.4-1.9-.3-1.2-.4-2.1 1.4 .1-.6-.9 1.7 .6-.6 1.2 1.6 .9 .4 .3 .8 .4 .6 .7 .4 1.1 .7 1.2 .3-1.4 1.5-1.4-1.6-2.1 .4-.5 .9-1.1-.6-1.1 .9 .3 1.2 1.4 .2 1.2 .8 1.1 1.3 .6 .2 1.1 .7 .8 1-.6 2.1-9.8 .5 3.6 .4 2.2 2.2 2.9 1.6 2.9 1.2 3.7 0-1.5-.7-2 .1-2.6 .4-3.2 .7-1.5-.7-1.8 .6-.7-.6 1.7 1.2 1.7 1.6 2 1.2 1 .2 2.7 1.4 1.1 .6 2-.1-2.6-.8-5.3 0-3.5-.5 3.6 1.1 1.5 .9-.5 1.4 .3 .6 1-.4 .3 .5-.4 1.2-.1 1.2 .1-.9-1.7 .6 .3-.1-1.1 .6-5.4 2 4 2.1 2.5 .1 3.8 2.3 2.1-.1 .4-1.2-4-.5-4-1-2.2 1.4 1.4 .9 2.5 1.7 1.2 1.6 2.9 .5 1.7-.1-.7 .5-2.8-.4-3.5-.3-2.5-.2 .3 1.1 2.4-.2 2.5 1.3 1.1 1.1 1.3-.3-1.3 1-.7 .1-2 1.5-.9 0-.9 0 1.2 1.3 1.2 .5 1.5 .5 1 .9 1.5 1.5 1 1.8 2.4-.7-1.8-.4-4-.7-4.5 .4 .2 .6 1.1M246.6 38.2l1.1 2.4 1.2 .8 .8 1.3 1.2 2.3-.9 1.1 1.6 .9 1.3-1.2-.3-1.5 0-1 .6-1.2-.5-1.3 .7-.8-.1-2 .3-.6 .6 1.9 1.3 1.1 .6 1.3 1.1 .8 1.5 1.4 .6 1.1 0-.5-.5-3.9M266.1 45.3l1 .6 .1-.5-.8-.2 .4-.6 .3 .4 1 1.7 1.1 1.7 .1 .5 .7 1 .7-1.5-.1 1.2 .5 .2 .3-0-.8-1 .4 .4 .6 .8 .4 1.5-.7 2.2 .4 1-.8 .1 .7-2.1M276 59.7l-.3 .1 .2 .6 .7-1.4-.3-.1-.2-.4 0 2.9 .1 1.2 1.5 1.7 0 .9-.7-.9-.3 .7 1-0 .4 .4-.7 .5 .3-.8 1.7 1 .4 .5 .5 1.7 .8-.2 .1-1.2-.4 .1 .8-0-.2 4.3-1-.2 1.1-1.3 .2-1.2 .8 1 1 3-.5-0 .1-.5 .4 .1-.9 1 .8 1.9 .7-1.8-.2 2 1.7 1.8 1.1-.9-.5-1 .1 1.6 .6 1.7-.2 .5-.1-1.1-1.2 .9 1 .6 1.4 2.6-.5 .1 .1-1.4 .3-1.4-.9 2.1 1.3-.2 1 .3-.2 1-.3 .3-.1 .5 1.2-.1 .5-1.3-.6 1.9 1.3 2.5-.6 1.2-.1-3.1 1.4 1.9-.1 1.6 .6 1.5 .6 0-1.1-.7 .2-.6 .7-1.3 .6 2.6 1.6 3M295.5 93.9l-.1 1.9-.3 .3 1.4 .4 .4-.5-1.7-0 .9-.1 .6 1.9 .4 1.4 .3 .1-1.5 .4 1.3 .5-.8 2.2 .8 1.3-.5-1.4 1.1 .1 .7-.6-1.6 .1 .2 1.9 1.2 .8-1.2 1.3 .8 1.1 .2 1.3 .2-1.7-.5-.6-.8-.3 .7 .7 0 1.3 .2 1.3M266.2 43.9l-.2 1.5 .9 1.8-.1-.5-1-.5-.5 .1 1.2-1.1-.4 1.7 1.4 2.5-.4 .9 1 1.6-.2-.7-.4 .1-.4-.2 .7-.5 .7-1.1 .1 2.9 1 2.8-.1-2.1-.3 .4 0 .7-.1-.5 0 1.2 .7 .3 .1 .7 1 1 .5 .9 .1 .7-.6-.8 .1-1.6 .6 2.2 .6 1.7-0 .3-0 .4-.2-1.2 .3-1.4 .1 .9-.3 1 1.4 1.4-.8 2.5 1.6 .6 .1-1.8-.4 .1 .8 1.5 .2 .9 1.4-.7-1 .6 1.6 0-.3 1.6 .2 .5 .9-.2 .3-.8 .1-.5 1 2.5 .1 1.5 .6 .7-.2-1.5-.4 .6 .4-.7 .4 .6-0-.4 .1 4.5-.4-3.7 .3 .2 .8 2.9 1.6 .4 .4 .9-.5 .3 .7 .9-.5-1.3-.4 .7 .7-1 .3-.1-.5 1.8 .9 2.9-.5 .8 .5-.9-.1 .9 .6 .3-0-.5 .8 1.1 1 .5-1.5 .3 1.8 1.5-.4 .9-.8-.2M285.8 85.8l.1-.5-.7 1.2 .5 .4 1.3 .3 .3 1.4 .9-.3-.2 .3 .3-.5-.6 .1 .9-.2 .3 .9-1 1.9 1.7-.4 1 1.2-.4 1.3 .1 .5-.8-2.2 1.2 1.1-.2 3.1-1.5-.5 1.3-2.6 .5 1.9-.1 2.7 .8-1.2-1.2-.3 .9-.3 .5 1.5-.3 .6 .6 1.3 1 .5 .4 1.3 .9 0-.8 0 .7 .6 .3 .9-.8-.6 .7-.3 1 2.1 .6-.7 0 1.2 .7 1.4 .1-1.3 .6 2.3 1.4 .1 .2 2.4-.1 .5 .3-1.1 .7-.7-1.8-1.3 .5 4.5 .5-1.6 .9-.3-1.7-.8 1.3 .1 .5 2.4 .3 2.1-.2 1.3 .8-.6 .2-.4M255.5 34.5l-1.1-.3 1.2 2.9 .8 1.3 .2-1.1-.9 0 .7-.2-.8 1.1 2.1 4.1-1-2.4 .3-1.2-.4 3.4 1.5 .5-.8-.2 .9 .4-1.1 .8 1-.8 .1 .4M260.9 45.3l.4 1.6 .3 2 .2 .8-.3-1.5 .9 .2 .6-1.6-.7 .6 1.3 .8 1.1 4.4-.7-.4 .3-1.5 0-1.6 .5 1.9 .6 1.6 .3-.2-1-1.7 .5 .7-0 1.1 .7 1.1 .4 .7 1.2-.2-.5-1-.6 2.9-.4-2.4-.2 2.2M267.1 57.2l-.5 .6 .5 .8 1 .6 .9 1 .8 .5 .2 .3 .6 .9 .5-2.5 .4 1.7 .2-.8 .4 1.3 .3-.2 .3 1.7 .9 .3 .3-1.6 .1 .9 .6 2.2 0 .6-.5 0 .3-1.8 1 1.5-.2 1.3 1.1 1.7-.4 .7 .5 1.4-.6 .9-.2-1.3M278.5 73.7l.2 1.1 1.1-.3-.6-.7-.4 .4 1.2-.7-1.1 2.5-.3 .3-.7-.2 1.6 2.1 .2 .3-.1-1.8 .6 .4 1.1 1.9 .7 .7-.6 2.2-.3-.9-.8 1.2 1.2-1.9-.7 .2-.1-.3-.4 .4 1.9 4.7-.2-2.6 .9 .7 .7 .8-.6 .3 .6 .3 .8 .1 .5 1.3 .5 .1-.1-.6 .8-.1-.4 1.4 1.3-.2 0 .6-.3 .6-.1 1.7 1.3-1.3 .6 .6-.3 .9-.3-.4 1.5 1.4-.6 .2-.4 1.6 .3-.8 1.3 .7-.6 .6 .1-.8-.4 .7 2.5 .4-.3-.2 .9 1.6 .3 2 .1-.8-.6 .7 1.1-.3 .2-.9 .4 2.5 .4 2.1 1.2 .9-.1 .7 0-1.1 .2 .3-.7 .3 .1-.9 .4-.1 .6-.9-1 3 .7 .7 .1 1.8 .9 .6 .7 .8 .7 .6 .3 .1-.1-.5-.1-1.6-.3 3.3-.3-.9 0-1.1 .3 1.9 1.3 1.7 .9 1.9 .3 .2-.5-1.7-.9-.1 1.2 1.5 .3-.8 .9 .3-.3 1.9 .5-0-.6 2-.1-1-.1-2 .7 2-.2 2.1 .2 .3 1.2 1.1-.3-1.5M252.3 34.4l1.2 1.1 .1 1.9 1.9 1.4-1.1 1.7 .1-.7-1.2-1 1.4 1.3-.7 .4 1.9 1.3-.1 1.1 .2 2 .1 1 1.2-.5-.7-1.8M257.9 48.9l-1.7-1.7 1.4 .7 .2 .9 .9 .8-.4-1 .5-.7 .4 .4 .5 .4 .8 1.4 .2-.3 .3-.5 1.5 .1-.3 1.6 .1 .9-.1 1.3 .8 2.1-.3-1.5 .3-1.2 .8-.7-.1-1-.5 2.3-.1 .7 1.2 1.8-.2 .9 1.3 1.8 .2-.5 .7-.8-.5-.1-.1 .5 .6 1.6-.5 2.4 .6-1.6-.6 .1 .3 1.5 1.2 1.2-.1-1.4 .3-1.5-.3 2.1 .4 .7-.2 2 1.4 1.9-.1 .9 0-.4 .7-1 .3-.7 .6 .1 0 1.6 .3 1.5 .1 1 .4 .2 .5-.8 0-.5 1-.6-.5 2.1 1.1 1.1 .5 2.4 .8-1-.4 0-1.1-1.2 1.2 1-.1 .4 .9 2 .9 .4 .1 1.5-.1-.9 .6 .2 1.2 1.8 .3 .2-.7-1 .1-.3 .7 .8 .5 .6 .7 .6 .4 2 .1 .6 .6 .5 .5 .7-.6 1.2 .6-.8 .2 .3 .6-.3 .5 .1 .3 .4-.6 1.4 1.6 .8-.4 2-.1-.9 .3-.7-1.3 .3 2.3 .3 .3 2.8 .5-2.4-.5 2.2 1.1 1 0 1.4 .5-.2-.3-1.7-1 2.1-.5 .4 0-1.9 1.8 1.8-1.5 1 1.9 1-1 1.2M289.3 97.2l.7 1.3 1 1 .1 1.9 1 1.6-.4-.9 .2 .8-.5-1.5 2-1-1.4-.4-.3 .7 1.1 3.4 .4 1.4-.1 .5-.1-1.1 .1 .4 .8-1.4-.5 2.3-0-.4 .7 2.2 .1 1.1 .4-.5-.3-.1 .8 .3 .3 1.2-1.1-.4 1.5-.9-.6 1.1 .5-.5 .4 .9 1.9 1.9-.4 2.3-.7-1.4 .4-2.4-.4 2.6 1.4 3.5-1.1-1 .5-.4-.1-1.5 .6 3.5-.3-.8 .7 1.2 .5-1.3 .1 1.6 .9 1.4-.1 .3M301.6 121.4l0-.5 .4-.9-.3 .9M258.6 35.4l.1-.5-.5 .4-.1 .4 0 .5-.5-.8 1.2 0 .6 .4-.2 1.7-.1 .9 1.8 .9-.7 1 .4 1.2-.6-2.2M261.5 44.8l0-.3 .2 .3-.2-.6 1.4 .1-1.4 .2-.1 .6 1.1 1.6 .2 1.5 1.4 1.2-.7-2.2-.4 .7 1.2-.3-.5 .4 .6 1.2 .3 1.1 .5 1.5-.3-1.1 .6-.6M266.9 52.1l.2 1.7-1.9 .1 1-0-.1-.4 .5 .5 .9 1.2-.3 1.2 .3 .3-.2-1.5 .7 1.4-.5-.4 1 .1 .5 .6-.7 1 1.4 .5-.3 .8-.1 .9 .4 1.3 1 .6 0-2.1-1-1.5 1.7 1.7-.2 2.7 .6-.1-.1 .7 .3-.9-.3 .6 .7-.8 .3 2.4-.3 1.7 .6-.7 .5-.3-.4 1.9 .5-.6 .2 1.4 1.5 1.3-.3 1-.9-1.3 0 .4 .9 .8-.3 1.5 .5 1.1 0-1.9 1 .9 .4 3.6-.8-.8 .4-1.9 .7 1.9 .7 .6-.2 2 .5 .1 .1 .7-1.5-.1 .7-.3-.1-.3 .9 .6 .3-0 .6 1.4-.6 2 .2 .3 1.8 .5-.6 .9 .1-.9-.5 .4 0 .6-.5 .7 .6-1.1 .8 1 .6 1.9 .6 2.3 .5-.4-.4-.3-.1-.8 1.7-.8-1.3-.5-.5 1.4 .8 1 .4 2.7 .7 1.9-.9-1.9 .2-1-.3 2-.4-1.8-.9 .8 1.4 1.7-.9 1.3 1.3 1.7 .9-2.1 .8 1.6 .7 1.8 .2 .6-1.2-.3 .6 .9-.9-.9 1.4-.7-.1 1.2 1.3 1.1 .1 1.5 .2 .9-.3-.2 .1-.3 0-.8 .2 1.4 .5-1.1 .6 4.6 .1 .8-.2-.3-.1-1.1-.8-.5-.3-.1 1.2 3.1 .8-.3-.3-1.2 .4 1-.8 .3 .5 1.7 .1 1.9 .4-.4 .2-.6 1.2 1.2 .2 2.2 .1 2 .4 .4-.2-1.4 .2 .5 .8-.1-.7-.6 .9 1.3-.1-1.5 .6-.1 .4 1.5-.9 1.1 .9 .6-.2 .9 .7 .7M295.8 119.8l-.2 .6 .7 2 .5 1.5-.4 .9-0-1.6 .1 .4-.3 .1 .7 .7 .8 .2-.5 .9 .8 1.4 .2 1.4-.8 .3 1-1.4-.4-.3-.3-.6 .3-.2 1.6 .6 .1 2 .7 1.9 .7 1.6 .3-2.5 .5 1.2-.6 1.5 .8 .3 .8-1.8-.6 1.5-.7 1 .3 2 1.5 .2-.5-1.3-.5 .7M252.7 38.6l.4 .3-1.8-1.4 1.3 2.6 0 1.1-.7-.3M254.8 45.2l-.4-.2-.1-1.6-.4 .1 .4 .3 .7 2.1 1.4 1.2-.4 1.4 .6 .6-.7-1.1 .4-.8 .7 2.2 .6 1.4 .8 1.7-.1-1.8-.2 .4 .5-.2 1.5 1.4 1.4 .4-.9 .9 .4 .4-.3-1.4 .7 .3 1.6 .2-.5 1.9 .6 1.5-.1-.7-.3 .1 .5-1.2 .9 2.4 .1 2.3-.7-.4 1.5 .3-.6-1 .4 .5-1.9 1.2 1.6 1.1 .2 1.7 .7-1.6 .4 .5 .5-.4 .1 .5 .5-.3 1.4 1.5-.3 .3-.3 .3 .9 1.8 .3-.5 .5 .9-.6 1.7-.6-.7 .3 .1 .4-.2 0 .5-.2 .8 1.1 0 .2 1.1 1.3 1.2 .1 .4 .3 1-.7-.6 .9-1-.9 .3 .4 1.6 1.3 1.9-.5-.5 1.3 .1-.4 .2-.1 .4 .9-.7 .2 1.4-.2 .5-.3 1.7 .5 .6-.1-1-.5-.8 .1-1.2-.4 2.1 1.4 1.9 .9 2.1-1.2-1-.5 .8 .7 .1 1 .4-.2 1.6-.7 .6 .6-.2-.4-.9 .4 .5-.1 1.1 .6 1 .2 1 .1 .9 .8 .4 .4 .2 0 .8-.6-1.2 .7 .8M296.6 123.9l-.5-.1 .4-.1-.5-.4 .3-.5-.1 .5 1.5 .4-.9 1.5 1.1 .8-0 .6 .3 1.2 1.2-.7-.5 .7 .5-.4 .2-.9 1.8 3-.3-.1-.9-1 1 1.7-.5 2.4 1.3 1.7 .9-.4-.3-1.7-.5-.6-.8-1 .7 1.8 .9 1.5 .7 1.3-.3-1 .5 .2 .6 1.2-.4 .4 .8 .1-.2 1.1M250.7 49.1l.3 1-.1 .8-.3 1.2 1.2 .7 1.4-.1-.3-.2-.6-1.6 1.2 1.8-.3 1.1 .4 2.7 0-1 0 .3 .6-1-.7-.1-.3 1.6 .2 1.1M256.4 58.3l.8 .3 .4 2.7-.1 .6 .9 .8 1 1.8-.3-.9 1.1-.8-.8-.3-.1-.4 .5-.4-.1 1.7 1.9 1-.6 1.1 .7 .8 1.9 1.6-.8-.5 .8-.1-1.1 0 .2-1 .4 1.1-.8-1.8 .5 3.1 1.1 3.2 .2-2.1-.1 .6-1 .3 2.3 1.2-1.2 .1 .6 .2M297.6 129.6l.6 1.3-.4-.2 .5-.3 1.5 .5-.3-1.2 .3 1.7 1 .9-.2 .6 1 .8-.5 1.6-.3-2.1-.1-.7 .3 2.8 .8 2.1 .5-1.4 .8 1.4 1.7 .3-1.1-.5 .6 .3-.5-.7 .8 .9 1.6 2.5-0 .8-1.2-1.2 .3-.4M250.1 50.7l.4 1.1 1.7 1.7 .5 .4-1 .5-.5-.2 .5 .7 .5 2.2 .7-1.2 .3 .1 .6-.5 .7 .2-.5 1.7 1.1 .7 .5 1.5 .4-.3M256.2 65.4l.5-1 .2-.6 .4 .4 .5 .3 .9 .7 .6 2.2 .1 .4M299.6 136.7l-.3-.2 .3 .7-1.1-.8 1.3 .9 .9 .7 .7-1.1-.1 2 1.3 1.7-.5-1 1.4 .7-.1 .9 .2 .4-.3 .8 .5 0 .3 .5 .3 .3-.4 .3 1-.8-.6 1M251.2 52.4l.3 1.4 .8-1.3-.6 .4 .5-.1-.4-.2 .6 .1 0 1.4 .6 1.5 .3 .4 .4-.6 .4 .7-.3-.9 0 1 1.2 1.7M257 59.3l.2 1.9 .4 1.6 .3-1.1 .7-1 .8 1.9 1.7 1.2M299.5 144.1l.9 0 .3 .8 1.1 3.2 0-1.3-.4-.7-.2-1.6 .3 2.7 .6 1.7 1 .8-1.4-.5-.1-2.5 1.1 4.1 1.1-.4M181.2 93.9l-2.1-4.2-3.5-2.6-1.9-4.5M190.4 98.3l-3.1-5.2-3.5-5.7M194 97.6l-2.5-2.2-1-2.3-.8-2-2.6-3.8-.8-3.3M200.6 89.6l1.4 1.1 1.1 1.3 1.6 .7 .5 1.8 1.7-.5 .1 .7M205.9 93l-1.2-1.8 .1-2.4 .1-1.8-2.3-1.1M209.8 91.2l-1.8-1.3-1-2.4 .3-1.7-1.4-2.1M212.7 91.9l.2-.7-.6-2.1 .3-.6 .1-.5-1-1.6 0-2 .5-1-1-.9M223.9 80.2l1.5 1 1.8 2.3 2.1 1.6 2.1 1.4 .8 .5M228.3 79.3l.8 1.1 1.3-.2 1.3 1.6 .9-.5 .5 .5 1.1 .9 2.6 .9 .8 1-.9-1.4-1.3-3.1-.8-1.1-.8-1.6 1.6-3.9 3.9 4 3.5 3.8 4.1 5.6M238.4 74.5l2.1 2.3 1.1 .6 1.1 1.1 1.7 1.3 .7 .9 1.7 1.3 2.2 1.7M244.8 73.6l2.2 .6 2.3 1.7 1-.5 1.4 1.3 .4 .4 2.7 1.7 1.6 2.2 2.7 .3 .5 3.2 2.1-.1M252.1 69.7l2.8 4 2.9 2.6 2.2 2.9 3.2 4.6M258.5 77.4l1.6 1.1 .2 1.5 1.5 .4 2.4 .7 .2 1.1 .7 1.5M265.1 80.2l-1.4-2.7-.1-3.2-1.4-2M273 80.1l.4-1.4 .4-1.1-1.5 1.6 .6-1.5-.1 .4M276.5 84.2l-.1-2.8-.1-.5M284.7 80.4l.9 2.9 2.3 2.2 .9 1.7 1.7 1.8 2.7 2.2M179 94.2l-.4-2.8-1.1-1.8-1-3.1-1.9-1.6M190 87.2l.9 1.2 .9 .9 2.1 2.2 1.2-.1 2.3 1.4 .8-0-0 2.1M197.5 86.1l.6-.3 1.7 2.2 .8 .9 1 1.7 1.6-.2 1.2 .3 1.5 1.5 1.5 1.4 .7 1 1.8 .4M206.1 96.9l-3.7-4.4-2.7-4.4-1.9-3.8M209.6 84.4l1.8 2.2 1.7 1.5 2 1.8 2.6 2.3 1.4 2.1M218.4 84.7l1.2 .4 1-.3 1.9 .8 .8 1.2 1.2-.2 .9 1.6 .4 .2M225.1 75.1l3.6 3.4 3.1 2.3 1.7 3.2 2.9 1.6 2.6 2.7M234.5 71.7l2.1 2.5 1-.6 1.3 2.4 2 1.3 1.1 .2 2.3 2.7 1.8 .4 2 2.3 1.6 1.2 1.3 2.1M242.4 73.2l.9 1.2 2.9 2 .8 1.2M244.9 77.8l-1.8-3.5-2.4-3.9-1.4-1.9M253 76.7l.5 1.8-.4-1.7 .5-.4M262.7 77.5l.5-.9-.3-.2-.3-.2 .5 .5-1-1.5 .1-1.1M270.6 72.8l1.2 1.5 2.7 1.6 .5 .3 1.6 2.4 1.8 .7M275.6 79.4l1.7 1.3 0 .3 1.6 1.3 .7 .8 .8 1.3 1.3 1.7 2.1-1 .5 .6 1.8 1.5M281.6 78l2.6 4.4 4.9 3.7 2 3.6 3.1 2.9M181.1 92l2.2 1.2 1.8 .9 .7 1.8 .5-2.8-.7-1.3 1.3-.8-.6-.6M198.6 88.1l3 .5 .5 .6 1.6 1.9 .3 .9 2.3 1.8M202.6 97.3l-1.6-2.4 0-2.2-2.5-3.1-.3-2.8-1.8-1.9-1.4-3.2-1.1-3M209.7 84.4l1.7 2.4 2.6 1.7 1.7 2.5M214.2 80.7l1.3 1.6 2.4 1.9 3.2 3.4 2.1 2.7 2.6 1.1 .9 1.9M218.1 81.8l3.4 1.7 1.2 3.7M221.4 80.7l1.2 2.2 2.3 .9 2.5 3.7M222 88.4l-2-3.5-2.8-4.2-2.9-4.1M228.4 88.1l-2.5-5.3-3.5-3.6M231.8 87.8l-1.1-2.1-1.7-2-.2-1.6-1-2.7-.9-1.1-.8-1.1M245.7 81.4l2.4 1.5-.1 .9 1.9-.4 1.2 2.4M248.2 69l4.3 3.5 3 5.8 3.1 2.5M254.4 73.7l1.4 3 1.5 .1 1.3 2 1.1 1.2 1.6 .8 2 1.4M262.9 71.6l1.9 2.1 2.2 2 1.7 2 2.3 2.6 2.3 .6 1.1 2.1M269.5 69.4l2.8 4.6 2.7 4.1 4.1 4.6 2.7 2.4M275.3 74.3l8.1 9.9M276.8 85.8l-3.4-3.3-2.6-2.9-2.4-3.8M278.7 88.3l-1.6-1.5-.6-1-.5-1.5-1.4-2.7-.6 0-.7-.9-1-.1 .2-2-.2-1.8" stroke="#e8211d" stroke-width="1.8" fill="none" stroke-dasharray="0 1.5" stroke-linecap="round"/><path d="M139.7 27.5l1-4-.3-1.7 .1 .7 1.3 1.2 .2 1.4 1.3-.7 .3 1.8 .3-1.1-.2-1.1 .9-1.6 1.4 3.5 .6 2.1 .6-.4-2-4.6M152.2 28.1l.1-.9 1.9 .7 .6-.5 .6 .5-.2-2 .1 2.5-.7-.4 .4-.4 .1-1.1 .6-1.5 0 .5 1 .4 .7 2.6 1 1.1 1.6-.4M134 29.4l.9-4.2 1 .5 1 1.2 .1 .9 1.4 .2 .5 0-.5-2.1 .6-.7 2.1 2.8-.2 3 1-2.3-.2-2.2-.5-2.1 .8 3.9 1.9 3 .2-.4-.3-1.3-.2-2.6 .7 1.2 .6 1.1-.8 1.3 1.5-.3 .7 .4 .1 .5 1.2-1.5 .4-.3 .5 .4 .9-.9 .4 .1-.9 1.3 .9 0 1.4 1.2M155.5 33.7l.9-.6 .9 .9-1.2-.8 1.6-1.9-.6-.9 1 .6 .1 .8 1.4 .1M134.9 27.9l.1 .3 .7-.4 .1-3.2 2.4 3.5 1 1.7-.1-2.4-.9-.5 1.1-.3 1.1 .9 0 1.1 1.7 .2-.5-1.6 .2-1.4 .5 1.1 1.2-.2 .3 .9 .8 .2 .9 .8 .5 1.2-.3-.6 1.7-.3-1.6-1.3 1.1-1.4 .4 1.2 1.6 2 .7 1.9 1-.6 .5-1.3 .3-2-1-.7 .2-1.2-.1 3.5 .4-.6 1.3 .5 .1-1.3 1.6 1 .1 .9 1.2-1.3 1.8 .5-.4-.1 .2 2.1 .2-1-.3-.9 .6-.4 .1-1.8-.2-.6 .9-.7M134 27.3l-.3 .3 .4 2.2 1.9-.2-1.1 .8 1.1-.2 1-1 .1 1.3 .3-2.2-.5 1.1 1.6 1.4 .9-.7 1.3-3.3 .1 .8 .6 .6 .5 2.2 .6 .6M145.1 28.5l1.1 .2-.1-1.1 1 1.1 .8 .4 0 .9 .1-1.7 1.3-1.1-.4-1.5 1.6 2.5 1.1 2.5 .3-1.2-.4-1.4 .4-.5-.3 .3 .8 1 .7 0 .6 1.2 1.7-.8-.8-.3 1-1.5 1.1 2.9 .3 .7-.9-1.7 .4 .3 1.4 1.3 .9 .7 1.7 2.4-1-3.1-.5-.6M131 30.6l1 1.4 .1 1.6 .7 .8 0 1.7 0-1.4 .5-1.9 0-1.1 0-1.4 1.2-.5 .8 3.2 .7 2 .8 2.2 .5-1 2.2-.8-.8-.8-.4 .1 1.4-1-.5 1.7 .9 1.4 .6 .6 .9 1.7-1.2-3.2 .9-.6 1.1 1 .1 .7M145.5 38.1l-.3-2.3 1-1.9-.3 2.6 1.5 1.4 1.2 2.3 1.2-2.7-1-2.4-.3-1.5 1.1 .9 1.8 2.5-.4 1.2 .7 0 .7-1.6 .1-1.5 .9-.7-.3-.8-.1 1.9 1.8 1.3 1.1 1.3 .3 .3-.1 2.6-.1-5.5-.5-2.3M131.9 33l-.4-.9 .8-.6 1.9 3.2 .7 2.3 .8 .5 .7-1.6-.3-.2-.1-1.1 .7-1.5-.5-.7 .8-1.3 .6 1.1 .3 .9 1.7 .8 0 1.8 1.2-.7 1.6 1.3 .5 2.4-.9-2.3-.5-3.5 .8-1.8-.2 2.2 .7 .7 2.1 .6-.5 .8 2.4 2.6-.2 .4 .2-1 .4-1.9-.1-.6-.1-.9-.1 1.7 .5 1.5 2.1 1.2 .1 .7 .3-1.8 1.2-.6-.3 0-.7-.9 1.2-.7 1.2 1.7 .4 1 .8 .5 .1-1-.6-1.5 .9 .2 2.1 2-.6 .7 1 0-.4-3.4 .6-1.2 1.3 2.4 1.7 1.7 .6-.8M130.8 35.3l.2-1.1-.2-.6 .8-.3M135.4 33.4l1.4 0-1.1-.7 1.6-.2-.5 4.3-.3-.6 .4-.8-.4-.3-.1-.9 1.2 .8 .9 1.9 .9 1.5 1.7 .2-.2 1.5 1.3 .7-.3-1.2-.2-.9-.2-.7 1.4-.6 .1-1.3 .2 1.8 1 1.5 1.7 1.5 .9 .2-.2-1.9-.2-.5 .8-1.2 .7 2.1-.3 1.4 2.3 2.2-1.1-1.4 .4-.6 .5-.7 .1-1.4 .8 0 1.2 2.3 1 2.1-1.8-6.9 2.3 3.6 1.1 1.3M127.7 35.2l-.8 2.4 1.2 2 .9 .6 1.3 2.1 .8-.3-.7-3.1 .4-.9-.3 2.5 .7 .2 .1-.5 1.5-4.5 .6 1.1 .9 1.3 .3 .8 1.3 .8 .8 1.9 .3 .8 .5-1.6-.3-1.9-.4-1.1 .6 0 2.6 6.3-.1-2.8-1.2-2.1 1.6 1.1-.7 2 .6-1-.3 1.9 .1-1.4 .9-1.5 1 1.1 .3 1 1.3 .8 .1 .4 .1 2.3 .3-2.8-1-2M124.6 41.3l.6 .4-.5-.9 .8-2-.4-1.4 .6-1.2 1.2 2-.4 1.6 2.3 1.7-.3 1.1 .4-.7 .9-1.2 .9 .3 .5-.6 1.3 0 .2 4.1 .4-1.2 .5-1.3-.1-.7 .5-1.1 .8 .9 .9 2.4 .6 1.6 1.1-1.2 .7-1.8-.8-1 .1-1 .2-2.2 .7 1.5 .7 1.7 2 1.3 .3 1.8 1.6-2.3-.9 .6 1.2-.9-.5-.2 .8 .2 1 .9 .3 1.4 .2-.8M118.4 40.4l1.1 2.4-.1 1.1 0-3.3-.4-.3 1.3 2.5 1.8 2.7-.7-3.4 .6-.5 .4 .4 1.8 .2-.4 1.1 .2 .6 1.3-.4-1.3-4.7 1.5 1 .7 3 1.5-.1-.3-.7 .4-1.1 1.1 1.2 .3-.2-.3-1.7-.6-1.8 .7 2 1.3 1.7 1 .6 .3 1.2 1.8 1.8 .6-3.1-.1-1.1 1 .6-1-.6 1.4 1.1 1.5 .9 .6-1.7-1.3-.8 1 .7 .9-.2 1.2 .2-.1 .6 1.3-.2 .4-.6 .2-1.8 .5-.1 .3-.1M117.4 42.7l.1 1.3 1.3 1.1 .5-1.8 .1-1.2 .1-1.9 .5 .7 .6-.3 .8 3.1 .7 .4 .2 .4 .6-2-.2-.4 .5-1.7 1.3-.1-.1 1.5 1.4 2.3 .5 2.3 1 .2 .7-.3 .6-1.9-.4-.9 .1-.7 .3-2.3-.2 2.9 1.3 .7 1.5 1.4-.7 .2 1-.7-.3-1.1 1.4-1-.8-0 1.5 4.6M135.4 46.8l1.2 .1 0 2.1M114.1 44.2l-.4-.6 1-.3 .9 .2 .3 1.7 0 1.7 .1-1 0-2.7 0-1.2 .5 1.1 .5 .3 1 2.2 .9 .7 1.2 1.5 .5-.5 .3 .6 .1-2.4 1.1-.2-.4-1.4 .3 2.2 1.8-.2-.2 .9 .7-.6 .3 1.1 1.4-.2 .8-.4-1.3-.3 .6-.1M130.6 46.7l.6-1.5-.4-.8 .7-1.7 .8-1.1M105.1 43.3l-.5 .5 1.3 .8 1.2 .9-.6 .2 .5-2.2-.4-.6 1.8 1.4 .7 1.9 1-.2-.1-1.5 .9-.1 .5 .9 .7 .9-0-.6 .9-.5 .7 .1-.1 .5 1.4 1.4-.2-1.2-.3-2.4 2.4 1.9 .7 2.4 .4 .4 1.6 1.9-1-2.8 .7-3.2-0-.3 2.4 5.1-.2-1.8-.7-2.4 .6-.8 1.3 2.2 .2 1.1 .7 2.2 .7-.8 .4 .1-.1-1.4 .3-1.5 1.2-.3-.6 2.4 1.2 .1-1.4 1.4 2.1-.8-.4-3.9 1.3 2.5 1.2 2.9 .7 1.8-0-2.5-.2-2.2-0 1M89.8 45.8l.9-1.6-.3 .3 .8 1.4 .2 1.7 2.3-2-1.6-1.6 1.1 .6 1.4 2.8 .6-3.2 1.9 4.7 .5 1.8-.2-4.2-.1 1.1 .6-.7-.2 .5-.4-1.1 1.2 1.7 1.1 .9-.1 .7 .6 3.4 .6-2.3 .7-2 .1-.3-.8-1.5 .4-1.5 1.2 3 2 3.2-.7-3.7-.8-.5 1.2 1 1.1 .1 .8 1.1 .8 .9 1-1.3-.5-3.5-.1 2.5 2 .5 .2 .5-.2-3-.6-2.2 2.2 2.3 0 1.6 1 1.5 .8-3.8 .7 .9 1.4 .4-.1-.4-0 .9 .5 1.4 1.1 .1 .9-.5 .2-1.1-.1-2 1.1-.1 1.5 4.2-.5-2.4 .5-1.2 .3-1.2 .1 4.4-1-1.9 .7-2.1 1 1.6 .9 1 .8-1-.8-.9 1.5-.2 .4 1.1 .4 .7 1.6 1.7 .1 .8-.9-2.9 .1-3.4 .9 2 1.3 4.4 .3-1.6 .5-1.7M92.3 45.4l-.1 .8 1-.7 .4-1.9 .3 1.4 1.5 .3 .6 1.9-.2 1.3-.3-1.9 .4-1.7 .1 .4 2 5 1-2.6 .4 .7 1.1 .2 .6-1.1-.8 0 1.1-.2 .3-.8 2.5 .1-.3 1.6-.8 .8 2.3-.1-.1-.9 .4-2-.4 2.7-.9-3.5 .4 2 1.5 .9-.5 2.2 1.8-.9-.2-1.1 .8-1.1 .3-1.3 .3 .8 1.1 1.7 1.4 .1-.1 2.4-.8-3 1.1-.8-1.3-1.5 1 .5 .2 1 1.5 1.9 .6 1 1.5 2.2 .3 .6 1.1-.8-.5-1.8 1-.6-.6-2.7 1.5 2 0 .7 .4-.7 .1 1 2.3 .4-.3 1 .9 .6 1-2.4 .2-1.3-.1 .3 .9 1.7 .6 .6 .3 2.6M91.1 46.3l.8 .2 .4-.9-.3 .4 1.1 .8 .7 .6 .7 1.3 .4 .2 1.2 1.5 .4 0-.9-1.5 .6-.7 0-.4 1.2 .8 .6 1.4-.1 .9 .9-1.5 1.1-.7 1.7-.9-.6 .1 1.1 .6-.1-.4 .9 .6 1.3-.5-.7-.8 .6-2.6 .4 .4 1.1 .7 .2 1.7 .4 1.8 1.6 1 .1-1.2 .7 0-.2-1.5 1.5 .7 .6 1.4 .7-.7 .5-.1-.2-.3 1-.9-.1 .3 1 .7 .2 .5 .9 2.1 1.2 1.6-.6-.3 .2-1-.3-1.4 1.1-.6 1 .3 .3-1.4 .6 1.1 1.1 2 .7 1.5 .6 .1-.2-1.8-.4-1.2-.1-1.1 1 1.1 .6 .5 .7 .8 .8 1.3M89.7 49.4l-.1 .5 .6-1.1 .3-1.3-.3-1.4 .2-1.4 .9 3.2 1.9 2.2 .4 .3 .2-.7 .7-1 .6-1.6-.3 .4 1.9 .3 .4 1.1 .9 1.1-.6 1.6 .3-.6 .5-1 .5 .1-1.3-.7 1.5-.7 .5 1.1 1.5 2.4 .7-1 .5 .2 .8-.6 .1-.3 .1-.3 .3-.4 .4-.1 .1 .3 .8 .1 1.9 .5 .7 1-.2-1-.3-.4 .4-1 .6 1.8 1.3-1.3 .3 1.4 1.1 1.2 .4 .1 .4 .7-0-4.3 2.2 3.9 1.3 3.5-.5-4.5 .1-.7 .1 2.6 1.2 1.6 .8 1 .4-1.7-1-2 .7-2 .9 2.1 2 2.5-.2 1.2 1 2.4 .6-1.8-.6-2.8-.9-2.6 2.4 5.4 .9 1-.2-2.2 .3-.5-.7-4.1 .8 4.2M91.9 52.2l-.2 2.1 1 1.9 .9-3.1-1-.9 .8-1.1 1.5 .5 .6 2.4 2.5 1.9-1 .3 .5-1.6-1.2-1.7 1.4-1.1-.3-2.2 .3 1.2 1.1 1.3 1.2 2.4 .9 .9-1-2.4 .5 0 1.2 .5 .9 1.1-1-1.3 .9-.4 1.6 1.6-.2 .6 1.6 1 .1-.7 0-3.2-.7 2.7-.4-2.1 .5-2.2-.1 1.5 1.1 0 1.1 2.8 1 1.2 .3 .4 1-1.2-.8-1.5 .1-2.2 .2-1.8 1.8 2.2 0 2.4 1 2.5 1.4-3.8 1.2 .7-.5 .2 1-.1 .2-.4 .5 .3 .8 2 1.5 .2-.8-.4 .4-1.6-.1 .4 1.3-1.1 0 1.4 1.3 1 1.8 1.9 .5 .7 .1-1.4-.3-1.2 0-3.3 .8 1.1M92.3 52.7l1.3 1.3 .6 1.3 .4 .6 .7 1 .8-.6-.7-.8 1.1-.7 1.3 .8 .7 1.1 .9 1.3 .4-.4 .8 0-.8-.7 1-.6 .9-.9-.3-.5 1.2 .3-.4 1.8 1.3-.3 .6 1.6 .8 .1 .7-.2 .4 .3 .7-1.5 0 .7-.2-1.6 1.3 .6 .4-.2 0 .7 1.2 1.1 .8 .3 .4-2.3 .1-1.7-.1-.8 1.4 2.6 .5-1.1 1.1 .6-0 1.1 .8 .6-.4-.4 .7-2.5 0 1.6 2.1 .9 .2 .6 1 .1 .3-1.8 .7-1.7-.7-1.3 .4-.8 1.4 3.6 .4 1.2M94.6 55.8l0-1.1 .3-.8 .3-.7 .8 1.1 .5 .3 .8 .7 .9 .7 .9 1.2 .3-.4 .9 1.8-.8-2.8 .6-2.3 .2 .7 .4 .5 1.8 1.4 1.5 .7 .6 1.4-.4 2.4 .4-2.3-.7-2 1-1.7 .9 3.8 1.7 1.7-.3-2.3 .5-.1-.2-2.2 0-1.9 .3 1.8 1 1.8 1.4 .5-1-2.6 1.3 1.4 1.2 3.4 .9-.3 .9-.5-1-.8 .2-2.8 .9 .2-1.6 .7 2.3 .5 .3 .8 .7 1.2-.1-4.8 1.4 1.1 .2 3.3 1.7 1.4 .4 .7 .7-.9-.4-2.4 .5-.2 .2-1.1-.3-.3 .3 1.1M93.3 55.1l-.5-1.6 0-.6 2.7 4.1 .3-.1-.7-.6 .7-1.5 .7-.8 .6 1.9 1.9 1.3 .2 .6-1.3-1.4 .2-3.7-0 1.6 .7 1.1 .9 .3 1.3 1.1 .4-.2 .8 2.1 .6 .8 1.3 .2-.2-.9 .8-2.1 .2-2.1-1.1-1.6 .9 2.4 1.4 1.3 .9 2.1 .7 .2 .6-1.8-.2-1.3 .6 1.7 1.4 .3M113.4 57.4l0 2 .4-.2-.4-.7 1.2-1.2 .2-.6 .4 3.1 .5-.2 .9-.2M118.9 60.4l.1 .5M100.4 60.7l.6-.8 1.1-.1 1 2 .6 1.5 .3 1.1 .6-1.5-.4-2 .7-1.6 .4 1.8 .6 2.3 1.9-5.7 1.5 1.3-.5 2.6 1.9 1.3 .4 1.5 1-1.7-.5-.6-.7-1.1 1.4-2.3 .4 .8 .1-.3 .8 .8 1.5 1.1-.1 1 1.4 .1 .1 .5 0-1-.2-.6 1.3-.6-.2-.6 .5 .1 1.6 2.2 .2 .5M108.1 64.8l-.4 1.6 .7-1.2 .6-1.3-.4-1.6-.5-.3 1.7 .6 .8 .9 .8 .8 .5 1 1.4 .7-.2 .5 0-1.1-.2-1.1 .6-1.1-.5-.8 1.5 2 1.3 3.3 .6-1.4-.6 .2 1.1-.7-.2-1.3 .7-.7M107.4 60.5l1.6 5-1.1-2.8 .6-2.4-1.1 2.1 1.1-.9 .9-0 .3 .2 .6-.2-.3 .3 1.7 .8 .6 .2-.1 3-.5-3.2-.4-1 .7-.1 .6 2.1 1.8 1.7 .3 1.3 1 2.3 1.4 .3-1.2-6.1 .5 2.9 .3 2.6 1.4-.7M111.3 67.1l1.4 .4-.7-.7 .9-.2-.2-.7 1.7-.3-.4 .3 .7 .4 .4 1.2 .4 .5 .2 1.3M159.3 34l-1.9-2.4-1.3-1.6 2.1 4.6 2.3-3.5-.1 2.4 .5 .1 .3 1.3 .5-1.8 1.3-.7-.4 .1 .5-.1 .2 1.1 1 .1 .8 2.6-.3-.8 1 .1-1.1 .3 1.1-.8 1.3-1.4-0 1.5 1.2 1.5-.1 2.3 2.2 .8-1.2-2.9-.5-.3 1-.1 .7 1 .6 2.5 1.3 .3-.8-.8-.2-.4 .7-2.1 .8 2.6 .9 1.5 1 2.6-.1-3.5-.5-2.8 1.5 2.1 .3 2.6 .7-0M155.9 32.8l-1.5 3.1 .6-1.3-.3-1.3 .1 .8 1.2-.7 2.8 2.7 .2 .4-.1 .7 .2 2.2-.3-3.2-.1-.7-.3-2 1.6 2 1.4 1.2 .5-.2 .9 1.6 .1 1.5 1.8-.9-.4-1.5-.3-2 .6 2.5 1 .9 .8-.9-.1-.8 .1-1.1 1.1 2.7 1.1 .7-.2-3.2 1.9 2.6 1.5 2.3-.9-1.2 .7-2.8 0 .3 1.6 2.8 .8 2.3-.4-.8 .2-2.5-.2-1.2 .9 3.9 1.7 1-.4-1.7-.1-1.3M152.8 37.7l.8-1.3-0 1.7 .4 .6 1-.1M158.5 42.1l-.8 .2M160.1 41.4l.2-1.4 .1 3.7 2.7 2.3-.4-.1 1.1-1.8-.4-.5-.1 .5 .2-1.5 1.2 1.5 0 1.2 .9 1.6 .7 2.6 .7-.4 .4-1.1-1.3 .6 .3-1.5 1.1-.2 .3 1.5 .9 2 1.3 .6 .5-.5-1.3 1.1 1.3-.8-1.1 .1M172.1 50.8l.3 1.9 2.5 2.3 .2 1.6 .5-.7-.6-1.7 1 .2M148.1 40.9l.6 1.3 .8 1-1.1-2.2 2.2-1.6-.1 1.4-.3 1.3 1.2 .7 1.5 1.2-.3-.4 .9-.2 0-1.1 .6 .3 .3 .5 1.2-2.1 .2 2.9-.4-.5 .9 1.3 1.4-.7-.7-.2 1.1 .9 .4 .8 .2-.8 .6 .7 .3 1.5 1.7 .1-.9 .4 1.5-.5-1.1 0 1.8-2.3 .2 3.4-.6-.8 0-.8 1.5-1.4-.2 .5 .3-1 .8 2.8 1.6 0 .8 2.3 .6-2.7 .4 .9 .4 .7 .8 .1 .2 .6 .3 .7 .4 .7 .5-1.3-0 .4 1.8-1.1 .1 2.4 2.3 4-.8-1.8 .7-1.6-.3-1.2-.1-.4 1.1 2.1 .4 .7 .6 1.4 .1-2.2-.4 2.7-.1-2.2M146.1 42.6l-.4-.7-.1-2.1 0 1.3 2 2.8 1 1.2 .9-.3-.3 .6-.3 .3 .7-.6 2.1 .6-.9 .2 .5 .5 .6 .9 .4-.1 0 .7 1.4 .3 .3 .4 .7-.5-.9 1.3 1.6-.5-1 0 1.9 .5-.9-.6 .8-.1 1.1 1.4M142.5 44l-.3 .3 .5 .9 1.3 1.1 .7-1.3-.7-1 1.5 1.2 .7 .9-.4 1.3 1.4 .6 .3 .2-.1-1.3 .4 .1 .8-.2-.4 1.1 .5 1.3 .8 1 2-2.1-1-.4 .6-1.2-.1-1.2-.4 .6 1.7 1.2-.4 3.1M136.2 47.7l.8 .9 .8 2.4 .1-1.5 1.8 3 .8 0-.4-1 .6-.6 .3-.2 .4-.5-.2-2.8 1.3 .2-1.2 .9 2 1-0 2.1 1.5 1.8-0-1.4 .1-4.4 1 3.7-0 1.2 .7 .7 .8 .4-.7-.2 .3-.6-.4-0 1.9-1.1 .4-.3-.3 1.5 1.3 .4 .5-1.5 .1 1.1M136.9 46.8l-.1-1.2 .4-.3 1.2 .9M140.9 50l-.4-1.6 0 .3 1.2 2.3 1.8 .8 .5 .1 .7 1.7-.4-1.5 2.7-.5-1.2 1.8 .1-1.8 .8 .4 0 .8 1 0-.2 .9 .4 .8 .8 .3 1.1 1.1M135 50.5l1.1 0 .5-.9 .9 .5 .9-1.4M141 51.1l1.3 .3-.7 .4 .2 .4 .7 1.1 1.2 .8-1.5-.3 .9-.8 .5-1.7 .1 2 1.2 .7 .5 .8 .6 1.4 .7 .3-.5-.6 .6-.9 .7 .2 .2-1.3M132.6 50.8l.2-1 .7-.5-.2-1.8 0 .7 .5-.4 1.7 1 1.1 2.7 1.1 2.4-1 .2 .4-1.3 .3-2.3-.4-1.4 .6 1.8 .4 1.6 .3 1.4 .5 .8 .8 2.1 .7 .1-.3 1 1.3-1.9-.5-.8-.5-.1 1.1-1.4 .6-.1 0 .4 1.1 1.7 .3 2.6 1 1.5 .1-2.8 1.3 1.3 1.7 .2 .3 2.3 .3 1.9-.4-1-.4-2.6 0-.4 .9-.4 1.3 1 .3 1.8M127 49.9l1 1.1 .4 2 .5 .8 .1-.9 .4-.7 1.4 1.3 .5-.3 1.6-1.8-.2 2.3 1.7 1-1.3-.9-.7 .1 2.4 0-.8 1.2 1 .5 0-.3 .7-.9 .4-1 1.2 3 .2 2.2-.1-1-.9-1.8 1 2.8 1.4 .6 .5 1.6 .2 .8-.5-2.6-.1-1.3 1.3 1.7 1.6 1.5 .7 1.9-.5 .4 1.2-1.7-.5-.3-.1-.7 .1-.5 2.1-.7-.8-2.1 .4 5.1 .1-.6-.1-.3 .3-.9 .8-.2 .6 1.2 1 .6-.3 .5 1.2 1.4 .5 .7 .2 1.6 .8-.1M125.6 53l-.9-.8 .9-.6 .2 1.7 2 2.9-.2 1.2 .3-1.7-.6-3.3 1.2 2.6-.2 .6 .6 1.4 .6 .2 1.2-.3-1 .4 .8-.7-.5 1.4 .5-1.3M133.9 60l.2 2.3-.3-.8 .9-.8-.6 .6 .1 .7 1 .4 1.3 .4-.1 .7 .6 1 .8 .5 .7 .3-.6 .4 .3-1.4-.4-.5 .3 .1 1.3 .3-.2 1.7 1.2 .7 .5 2.3-0-1.8-.2 .9 .4-1.8-.6-.3-0-.7M114.5 59.1l-.4 .2 1-.2 1.2 0-1.5-.1 2.4 1.2-.4 0 1.1 .4 .4 1.1 .7 .6 0-.3 .5-1.2-.3 .7 1.1-.3 .1 1 .1 .3 1.6 .1 1 1.4-.5-.6 1.3-.6-.7-.1 .5-.7 .9-.6 .2-.4 .3 .6 1.2 2.6 .4-1.7 1 1.3 1.1 2.9-.1-2.6 1-1 .3-.3-.2 .7 1.5 .5-1.1 2.1 1.5 .3 .7-1-.8-.7 1.1 2.3 0 .5 .4-.3 .5-2.8 .7 1.6 1.1 2.7 .3 1.4 .5 1.2 .4 1.8 .6-.4 .8-1-.5-.9-.1-1.5 1-1.1-.6-.5 1.8 2 1.3 3.7-.3-2.9 .3-.2 .6-1-0 2.1M115.2 56.4l.2 1.6 .7 1.2 1.4 1.8 .2-.7-0-1.1-.2-1.3 1.6 1.7 1.3-2.4 .1 3.8 1.6 .3-.3 .6 .3-2.5 .3 .8 .3 1.5 1.3 .7-.6 .1 .8-1.5 .8 1.3 .5 .2 .7 2.8 .7-.4 0-.8 .4-.1 .5-.2 .1-.6 .9-1.7 1.5 3.3-.2 2 .6 1.2 .2-2.6-.1-1.2-.2 .3 .6 1.9 0 1.3 .9 .3 1.3-1.3-.5 1.9 0-1.1 .4 0 .4 .1 .8 .9-.5-.8 .5 .7-.3 2.2 1.2 .8 1.5 1.7 1 .3 .3-2.6-.1-2 .2 1.4M112 66.7l.7 .9 1.3 2 .8 .9 .5-3.9 .7 1.9 .8 3.3-.1-.5-.1-.5 .7-1.2 1.3-1.3 .4 1.2 .8 2.1 .5-1.4-1.1 .1 .5-.7 .6 .4 .4 2.3 1.8-.3-.4-.3 .3-3.2 .6 2.7 1.1 1.2 1.4 .5 1.3 2.3-1.4-2.1-.2-1.8 .4-1.5 1 3.9 .8 2.6 .4-2.4 .2 1.4-.4-.5M112.3 61.8l.9 2.5 .4 1.6-.1-1.2 .4 .5-.1-1.3 .6-1.4 .4 .4 .9 1.1 1 .8 .8 .7 .3 .5 .2 .3-0-.4 .9 .9-.1-1.1 .5 .3 .2-1.1 1.9 2.3-0 .9 .6 .5 .7 .6 1.5 1.7 .1-1.2-.6-2.9-0-.7 1.6-1.6-.3 3.1 .9 2.3 1.6 2-.3-1.6-.6-2.7-0 1.7 .9 .7M157.7 25.1l-.2 1.4 .7 1.9 .4-.2-.3-2 .9 1.8 1.2 1.5 1.2 1.6-.2-.6 0-2 .6-2.4-.6-1 1 .9 .6 .2 1.3 1.5 1 1.9 0 .8 1.1-1.5-.5-1.2 .1-2.5 1.8 1.5 .6 2.3 .8-3.8 .8 .3 .6 2.1 .4 .3 .4-.7M174.2 26.7l-.6 .8 3.2 1.2 0 .8-1.1-3.3-.5-3.4 1.5 1.8 1.1 1 .1 1.7 2 1.1 .8 .4 .2-1.8-.6-.9-.2-2.5-.2-.8 .8 5.2-.3-2.7M179.7 20l.8 1.9 .4 1.9 1.4 1.9 .5-2.5 .5-.2 .5-.5 .4-.7 1-.5 .3-.5 .7 .8 .5-.8 .7 .1 .5-.3 1.3-5.8 1.4 5.3 2.2 3.9-.5-1.2-1-4.1-.9-.7 .3 .4 2 .6-.6 .2 1.5 1.9-.3-.3 .9 .4 1.2 .8 1.2 1.8-.5-.9-.1-.4 .7-1.6 .2-1.7 .1-1.6 .1-1.1 1.4 .5 1.5 1.5 .3 2.6 .6 2.4 2.6 2.1M179.1 21.5l-.4-1-.4-2.4 1.5 .9 .9 1.6 1.6 1.5 1.2 2.2 .3 1.6 1.1 1.4 .5-3.1 .2-1.8 1.6-.5-1-1.2 0-.8 .2-1.3 1.1 0 .5 2.3 1 1 .3-.1 .6 1.2 .9 1.2 1.1-.5 0 2.6-2.4-4.5 .2-5.1-.8-1.6 3 1.2-.2 1.2 .4 1.3 1 2.4 1.5 1 1.5 1.1 .6 1.9 .4 .4-.5-3.4 0-3.8-.7-3.6-.7 .5 1.9 2.3M199.8 14.8l.6-3.2 .6-.7 1.9 3.5 1.1 2.7-.1-3.7 .5-.1-.6-2.3 .7 .7 2.1 .6-.1 1.5-.2 1.1 .2-1.9 2 .6-.8-1.7 1.4 .1 .1-.6 1.5 2 1.1 1.7 0 1.4-1.1-5.9-.1-.8 2.2 4.2 .5-3.6 .6 .1 1.2 1.7-.2-1.4 .2 1.4M216.6 10.8l1.3-.1-1-1.4 .6-.9 .5 1.2 2 3.3 .5-1.6 .4-1.5 .5-.2M226.2 11.7l1 1.4-.9-2.3-.3-2.9M198.9 9.9l1.8 3-0 1.6 1.4 2.9 1.6-4.6 .7 2.3 1.8 1.2-0 1.2 1.4 .1-1.1-1.8-.3-.4 1.4-4 .2 1.1 1 3 1.6 0 .2 1.7 1.1 .5 .5 1.9 .4 .9 .6-1.5-.5-2.5-.2-2.5 .3 1.4 .6-.1 .8 1.7 1.7 .8-.3 1.1M218.4 14.5l-.1-.4 2.4 2.9-0 4 1.1-3.1-1-2.9 .4-1.6 .6 .6 1.2 .8-.4 1 2.1 1.4 .3 2.2-.2-.4 .8-3.3-.3-.2 0-2.1M202.7 20.8l.5 0 1.2 1.8 .9 .5 .8 .7-1.5-1.7 1-1.9-.6-1.4 1 2.4 1.3 2.4 .5-2.6-.8 0 .6-2.6 0-.9 1.3-.8M216.3 15.8l-.6 .4 1.5-1.2 1.3 3.4-1.2-.7 1-1.6-.4-1.1 1.9 1 1.8 3.4-.1-2.3-.7-1.9 .9-1.8 1.6 1.8-.4 1.4 .5-.2 .9 1.3 .1-1 1.1-.8 .3-2-.8-.3 .7 3.9-.4-1.5 .1-1.5 .6 .9M204 22.8l.6-.4-.9-1.8 .4-1.9 .2-1.2 .9-2.1 .7 3.7 1.5 3.9 1.5 1.2-.1-.5-.2-1.9-.5-1.9 .3-1.9 .8-1.1-.2 2 .8-0-.2 .9 1.5 .9 1.4-1.1 .5 .7-.6 .2 1.5-1.4-1.2 .3 1.2-1.9 1.1 .5-1 1.4 .9-.4 .3 .4 1.1-0 .2-.4 .4-.5 .7 .1 1.7-3.4-.1 1.5 .7 1.2 1 2.6 1.1 2.8 .5-1.8 .2-.6 .9-.7-1-1.3 .4-.9 .3-1.6 1.6 2 .4 1.1 .4 2.3 .7-.7M207.5 23.5l1.1-.6 1.5 0-.2 1.5 .1 .4 1.2 1.4-.5 .6 .1-3.4 .4-1.5-.7 .8 2.9 1.6-.6-1.5 .7 .6 1.1-.1 .4 .1 .1-1 1.5 1.6 .2-.7 .6 1.1 1.2-.2-.4-.5 .3-1.1 .8-2.2-.1 1 1.8 3.2-.7-.5-.5-.8 2.4-1-1.1-1.1-.9-1.6 2-.8 .4 4M213.9 28.6l.3 .8 .3-1.2 1-.4-.2-.8 1.1-1.1 1.1 1.4 .6-2.7 .4 1.1 1.2 1.4 .5 .6 .3-1 .3-.5 .1-.5-0-1 .7-1.9 1.1 1.1M227.3 18.1l-.3-.8 1.2-1.7M233.3 18.4l.3 .5 1.2-2.8-1-2.4 0-.5-.4-2.8 .9 1.1 .3 .6 .7 1.2 2.1 1.4 .1 2 1.3 .9 .8 1.6 .7 .1 1.4 .3-1.8-1.3 .3-1.6 .7-1.6-.4-3 .4 0 .2 1.4 1.2 1 .7 1.7 1.2 .9M246.2 10.9l.3 2.3M250.2 18.6l1 2.2-.1-2.7-1.4-3.4 .1-3.5 1.6-0 .8 1.5-.4 .3 1.6 1.1 .7 1.3 1 1.7 1.3 .2 .5 1.3-.3-2.4M225.8 13l-.3 1.3 1.3 .3 0 2.8-.1-1.7 1.3-1.6 .7-.6-.3-.9-.6-.8 .8-.2-0-.4 2.3 1.3 1.2 .9-.5 2 .6 .7 1.5 1.9-.1-1.8 .2-1.7 0-.6 1.1-1.3-.2-1.5 .4-.5 .8 2.7 2.2 2.2-.9-1.6 .8 .3-.1-1.1-.1-.7 .6-.7 1.4 .8-.2-.8 1.1 .7 1.3-.5 .3 .3 .4 .9 .1 1 .4-0 .5 3.8-0-1.2 .7-1-.3-1.4 .4-1.8 .8-2-.5-1.1 .5-.4 1.4 1.7-.2 1.9 1.3 3 1.8 1.8 .8 .6-0-1.1 .1-1.2 .2-.9-0-2.6-.5-1.7-.4-0 1.9-.4 .1 1.4 1.7 2.5 1.3 2.7 1 .3 .4 .7-.7-2.5M271.2 19.4l-.7 1.6 1.8 .3 .5 2.6-.1 .7-.8-.3 1.6 .6-.4-.7 .3-.1 .7 .5 .7 1.8 .5 .1-.8 1.9 2.3 .5-2-1.9 1.2 1.6M276.5 31.2l-.1 1.1 .8 .7 1.1 1.3-.5 1.2-.3 .9 .7-.3-.4-.7 .3-.4 .3-.4 .3 1.5-.1 .7 0 2.1 1.9 .4 .5-.5-.5 2.8 .1-.6 0-.5-1 .2 .7-.1 .2 .5-.2 1.4 1.2 .9 1 1.5 .6 .5-1.5 0 .8-.4-.3 .7 .3-.4 .3-1.7 .9 1.2-.5 1.4 .9 .6-.3 1.9 .6-1.1-.3 .8 .5-.7-.4 2 .3 .4 .2-1.3 1 1.8 1 1.6-.8-2.4 .2 .7 .2 1.4 .2 .4 .7-.2 .4-.7-.7 1.7 1.1 1.8-.1 1.1 1.3-.5 .5 .1-.4-.5 .3-.3 .5 1.9-.1-.6 .4 1.8 .5 .3 1.2 .3-.9 .1 .2 1.7-.7-.6 1.6 .7 .3-.5 .1-.5-.1 .8 .1 1.2 .5 1.5-.3-.5 .5 .8-.7 0 0 1.2 1.6-.7-1 .5 .1 1.1 .2 .6 1.7 .8-0 1 1.3-.4-.4 .7 .6 0-.4 .2 .1 .5-.2 1.7 1.3 .9-1 .5-.4-2.7 1.4 1.7M269.7 22.9l1.1-.8-2.1 .8 1 .8 .4-.7 .5 1.4-.4-1.1-.1 1.4 1.1 1.6-.4-2.1 .7 1 1.7 1.3-.2 1-.2 .8 1.3-.2-1.1 .2-1-.8 1.7 1.4-.5 1.1M275.9 34.7l.3 .2 .1 1.3 1.6 0-1.1 .2 .1-1.6 .7 .6-.4 1.8-0 1.5 .3-.7 1.1 .4-1.5-.9 1.5 1.1-.4 1.9 .8 .9-.5-.3 .5 1.1 .4 1.1M282.5 43.6l.1 2.1 .3 1.6 1 .1-.2-.9 .4-0 1.1 .3-.2 .7 .6 1.2 1.2 1.3-.6 .6 .6-.1 .1 .3-0-.3-.7-.3-.2 .3 .2 2.6 .2-.4 .5 .5 .3 1.2-.4-.7 .7 1.2-0 .6 .3 1 .7 1 .6 .7-.9-1.3 1.3 .5 .4-.2-.8 .5 .5 1.7 1 .1-1.3 .8 .1 .3M293.1 63.8l-.6-.1 .3 1.3-.2 1.2-.5-.5 .5-.4 .6-.7 .6 .4 1.3 .6 .3 .7 .8 1.2 .4 1.2 .7 .3 .6 1.2 .2-1.2-.8-.3 .5-1.8 .4 2.6 .4-.6 1 2.6 .6-.9-.8 1.3-.3 .5 1.3 0-.3-.8 .4 .2 .9 1.8-.8 1.2 .6-.7M261.2 10.8l1.1 .2 .3 1.6-.6 0-.8 .1 .4-.6-.3 .4 1.8 1.2 .2 2.2-.4 .5 0-1 .7 2-.1-1.2-.1 .6-.4 1.1 .1 .7 1.2 .1-.9 1.4 .9-.3-.1 1.9-.2-.4-.2-.5-.3 .1 .8-.2 .1 .7 .5 2.5-.3 .3 .6 2.2 1.3 .1 0-1.7M269.3 29.2l-.2-.3 .6 1.1-0 1.1 .9-.1 .1 2.2 .3-.6-.5-.4 1.1 0 .6 .8 .3 .2-0 .9 .2 .7-.2 2.3-.1-.5-.2 .9 .2-1.3-.4-.1-.5 .1 1.5 1.7 .2 2.2 .9 .3-.7-1.1 .1-.6 .2-1.1 .5 3.1 .5 1.3 1.5-.6 .9 .2-.2 .8 .6 0 .7 .4-.3-.4-.4 1.2 .1-.4 .1-.6 .6 1.3-0 .8 1.3 1.3-.4 .2 .9-.7-0 .5 .6 1.6-.4 1.1 .8-.7-.3 .2-.3 1.3 2.1 1.2-.7-1.4 .8 .8 .3 .8 .3 .5 .9 .3-1 0 .7 .9-.3-.7 1.7 .9-1 1.5 .7 .7 .3 1.2 .4-1.2-.6-.2 1 1.5 .2 2.3-.9 .2-.8 .1-.8-.8 .7 1.8 .5 1.1-.2 .4 1.3 0 .1 1.2 .7 .2-.9-1.1 1 2.5-.9 .5 1-.1 .3-.2-.8-.8 .9 1.7-0-.4 1.6 .3 .3 .9-.4-.2-.8 .6 1.8 .7-1 .2 .4 .2-.8-.1 1.5 1.5 .3 1.5 1.2 .3-1.2-.2 1-.2-.7-.4 1.1 .2 .3 .1 .2 .9-.4 1.2 .5 .8M294.7 76l.6 1.6-.2 2.2 1.1-.9-.2 .9-.3-.8 .2 .3 .6-.2 .7-.1 .6 2 .7 2 .4 .5 .6-1.1-1.4-1.4 .3 1.3 1.9 1.3 .3 .6 .8 .9 .6 0-.9 .3-0 1.4 .3-.2-.7 1.6 .7 2.5 .5-.9-1.1 .6 .9-1.7-1 1.6 2.4 1.3-.6 .2 .1-.5-.6 1.2 1.3 .3-.8 1 .5-.1 .6 .7-.5 .5-.3 .4M303 97.4l.8-.4 1 .5-.2 1.1 .9 .5 0 1.9 0-1.9 .3 .5 1.1-.4M251.6 11.4l1.4-.3 .5 2 1.2 .9 1-.1-.5-.6-.2 .9 .4-1.4-.9 .8 .8-0-.1 .7 .1 .7 .6 1.7 0 .9 .5 1.2 .3 1.8-1-.2 .3-1-.2 .7 .2 .9-.3-.6 .2 .4 .5 .6 .5 .9 1.7 .4-.1 .8 0-.4 .1-.4 .5 .5 .8-.4-.7 .8 .5 1.6 .6 1.2 1.4 1.2-.3-2.4-.5 1.3 .1 .6 1.6 .4-.3 .7-.2-.7 .7 1.5 1 .4-.9 .6 .7-.1-.6 .5 .8 .9 .7-.1 0 .3 .4-.7-1 .9 1.2 .1-.4 .3 .3 1.1-.1 .3 2.4 1.2-.3 .4 .5 .6 0-1.4 .3 1.3 .9 1.5 .4 1.5 0-.9-.9-.9 .9 .4 .1 1.7 1.4 1.7-.3 .3 .8 1.3-.9-2.1 1.1 .9 .2 1.6 0 .4 .8-.1-.8 .3 1.2-.4 .6 .9-.6 .3 1.1 1.1-.3 .5 .6-2.5 1.6 3.5-.1-1.4-1.2-.6 1.8 2.2-.3 .8 .7 2 .4-1.9 0 .6 .3 2.2 .7 .8-.8 .8 .5-.8-.5 .2 .5-.1 .6 1.7 .2 .8 1.1 .8-1-.9 .5 .4-.4-.6 1.7 1.6 .3 2.1 .7-2.2-1.3 1.3 2.7 2.6-.4-.9-.7-.6 .7-.3 .2 .6-.3-.2-.3-.7 .8 3.4 .3 .2-1.2-.9-.1 .7 1 1.9-.6 .4 1.3 .1 .2-1.2 .2 .4 0 2 .1 .3 0-.4 .8-.3 .3 .3 1.2 .7 .1 1.8-.4-.5 .9 1 .3 .3 .2 1.7-.2-1.6 1 .7 1.3 .7 0 .9 .2 1.7 0-1.7 .1-1.4 1.5 2-.8 .3-.4 1.4 1.4 .8 .6 1.2 .3-.6-.4 .9-.4-1.1M293.4 77.8l-.3-2.3-.5 0 2 2.4 0 .7-.6 .4 .1 .8 .3 1.4-.9-1.4 .9-0 1.7 1.7-.5 .3-.1 2.2 .9-.5-.4 1.6-1.2-.6 .2-.5 .4 .7 .2 .6 .9 1.2-.1 .3 1.6 1.2-.5 1.2 .6 1.6-.9 .2 .9-.8 .7 1-.3-1.4 .5 1.5M300.3 93.7l.6-1.3 .6 .4 .8-.5 1.8 1.3 .5 1.3-.3-1 .3 .5 .4-.7 .8-.1-.1 2.4-.1 1.2 .5-.8 .9-.3 .3 2.2 .5-.6 1 .7M250.1 9.7l.9-.3 .5 2.8 .6 .8 1.4 .1 .2 .3-.3-.7 .8-.3 .3 .6 .2 2.3-.4-.8-.2-1.4 .8 1.1-.9 1.8 .6 .8 .5-.1-.7-1.6 1.2-.9-.3 3.5 .3 2.2 .5-1.5-.7-.3-.2 .4-.3 1.2 .7 1.8-.4 .6 1.7 1.1 .1 .7-.2-.7-.9 .4 .1 .5M258.3 26.9l.2 1.6 .6 .8-.3 1.1 .6-.3 1.7-.5-1-1.2 .3 .3 .5 .9 .2 .6 .6 1.3-1 1.3 2.7-.3 .3 1.1-1.2-.7 .6 .5 .4 2.3-.3-.1-.9 .3 1.2-.8-.5 1.1 .3 1.4 1.1 0 .9 .3-.3 .7 .8 1.5-.9-.9 .5 1-.1-.6 1.6 0-.6 .8 .6 1.2 .4 1 1.3 .1-1.9-.5 1-1.7 1.1 2.2 .3 1-0 2.3 .4-.5-.7-.8 .3-1.5 1.1 1 1 2.5-.5 .6 .8-.1-1.4-.4 .2 2.2 .3 .1 .4 .7 .6 1.3 .2-.4-.4 .4 .2-1.3-.1 1.6 2.2 1.3 .1 1.5-1-.4 .8 .4 .4 .2-.5 .2 1.4-.9M248.9 7.7l.9 1.4-.2 1.4 .5 1.5 1.4 .1 .3 .7-1.2-.1 .8 .4 .1-.5-0 .3-.1-.9-.4 .8 1.1 2.1 1.2 .2-.6 1.3 .5 .2M254.5 17.4l.2-1.2-.2 3.6-.1-.7 .2 .6 .7 1.7-.8-0 1.1 1.2-.3-.2 1.1-0-1.1-.2 1.7 .9 .5-.8 0 1.8-.3 .9 .7 .5 .5-.1 .3 .6 .9 .6-1-.3 .5 1 .6-.5-.6 .8 1.8-.2-.3 1.8 .7 .4-.3 1.3-.3 .5 .3-1.1-.3 1 .3-.5 .6 1.5 1.6 .1M263.6 33l.4 2.1 1.7 1.9-.9-.6 .4 .7 .3 1 .7 1.6 .3 .9-.4 1.7-.2 .7 .9-.5-.4-.4 .8 .9 .2-1.1-.2 .7-.6 .6 1.5 .1-.1 .9 .9 1.4 1 .7 1.1 .7-.8-.5-.3 1 .8-1 .9 .5-.5 .9 .3 .1 .9 1.4 .2 1.3 .1 .7-.4-.1 1.3 .1-.4 .1 .6 .3 .2 2.2-.1-.4 1-1-.5 .2-.6-.6 1.9 1.1-.5 .1 .4 3.5 .4-0-.2 .8 1.7-1.3 0 2.2 .3-1.3-.8 .5-.1-.4 1.1-0-.6 1.6 1.5 1-.3 .5 .8 .2-1 1.6 .3-1-.3-.4 1.1 .2-.1-.6 .9-0 1.2 1.4-.6 .8 .8 2.1 .5-1.2 1.2 .7-1-0 1.1 .5 1.2 1.5-.6 1.6 .3-1.9-.5-.9 .9 1.1-.3 1.4 .4 1.2 .6 1.2 .5-.3 .4 .8 .4-.3 1.2 .3-.3 .6 .8 .3 .8-.4 0 1.3 .1 .5 1.2-.7-.1 1.2 .9 2.2-.8-2.3 0 .5 .7 1.5 .5 1.9 0-1.4-.4 2 .7 1 .3-1.3 1 1-.6 1.3-.9 1.2 1.6 1.3 .7-.4 .4 .8-.7-1.4 1.3 .3-2.3-.5 2.3 2 .1 1.2 .9 .8-1.1-.4 1.3-.8-.8 1.4 .3-.9-1.2-.6 .1 1.8 1.8 1.8 .1 .5-.3 .1 .2 .9-1.5 0 1.3 .3 .4 .2-.7 .7 .7 1.1 .6 1.9 .9-.1-.1-.5-.8-1.5 1.1 1.8 .5 2-.2 .8 .6-.9-.2 .7-.7-.9 .6 .8 1 .1-.7 .7 1 1.6M301.9 101l0 .9 .8 .7 .1-.4 .3 .6 0 .9 .5 .1-.4-.2 .6 1.1-.3 .2M261 9.7l.7-.3 .8 1.8 1.3-.9-.2 1.2 0 1.2 .9-.1 .3 1.9 1.2-.3-.4-1.5 .2 .9 .1 .9 1.3-.9 1.1 1.2-.4 .7 .6 1.1 .2 .3-0 .7-.3 .1 1.3-.6-.5 .5 1.7-.1 .4 2.3-.1 .3 .1 .4 .3-1.1 .9 .2-.7-.7 1.1 .6 1.3 2.7-0 1-.3-1.4-0 1.2 .5 .6 .2-.6 1-.1 .5 1.4 .3 .9 .6 .7 .5 1.1-1.1-2.3 1 .4-.5 1.8 1.1 2.1 1.1-1.9 .6 .7 .7 .1-.1 1 .5 .2-.4 .7 1.5-.5-1.1 .1 .2 1.2 .6 1 .8 1.1-.1 .3-.1 1.5 .2-1.1 1.3-.2-1 0 .8 .7-.4 2.1 1 0 .5 0 .1 1.2-.3-.7 .5 .9-.7 .5 .7-.1 1 1.1-1.1 .9 1.5-.4 .1 .9-0 1.1-.2-.4 .2 1.4 .7-1.1 .5 .1M289.9 45.5l-.5 .6 .8 .6-.5-.1 .6-1.1 0 1.5-.1-.9 1.1 1 1.6 1.5-.1 .9-.8 0 .1 1.5 .3 1.2 1.2-.4-.5 1.2-.3-1.3 .8 .8-.4 1.1 1.2 1.3-.7 1-.1-.8-.1-.7-.3 1.3 .8 .5 .6-.4-.1 2.2 0 .3 .8-.6-.6 .6 .1 1-.2 .3 0-1.1 .2 .6 .9 .2 0 .5 .1 1.9 .6 1.6 .5-0 .1 1-.1-1.3 .5 2.2 .8 .2 .7 1.3 .2 .3-.3-.4-.9-1.5 2.2 3.7-.9-1.6-0 .6 .6 1.2 .4 .2 .3 1.5 .2 1.3 .1 .4 1.5-.5-1.1 .5-.6 .4 .3 1-.9 .3 .9 .9 .9 2-.6-.7 .3-.2 .3 .1-.9 1.4 1.1-1.1 .8 .4-1.3-.1 1.6 1.1-.4 1.3 .4 2.1 1.1-1.3-1.2 .6 .6 .7 .8 1.7 .7 .5-.5-.9 .3-.4-.5 .4 .7 1.4 .4 1.1 .3-1.3 .8 2.6 .6 .6-.2-.6 .1-.8-.7 .5-0 .9 1.5 2.9-.3-.5 .6 .9-.1-.9-.5-.6-.2 .6 1 1.7 .5 2.5 .2 .4 .3-.1-.4 .7-.7-.2-.3-.2-.5-1 .7 2-.2 2.3 .4-.4 .7-.1-.8 2.6 .2 1.7 .5-1.4-1.2 .9 2.2-.1-1 1 .5 1-0 2 .7-.3M310.3 106.2l.3 1.6M268 12.5l.6-.2-.3-.3 .5-.4 .1 .5 1.5 1.5-.3 2-.1-2.3 1.1 .2 1.1 3.1 .5-1.3-.7 1.2 1.5-.5-.4 .1-.3 .4 .8 .9 .8-.2M262.9 6.6l-.2 1.2 .8 1-.2 1.3 .7-.3-.5-2.1 .6-.5 1.5 3.3-.6 1.1 .3-1-.4-.3 .6-.1M266.3 12.3l1 .6 1.4 1.6 .5 .4-1.1-1.1 1.2-.8 0 1.4 .5 .4 1 .9-.2 .7 .3 1.3 1.4 1.4-.4 .9 .1-.9-.5-.4 .9-0-.4 .5 1.8 1.7-.5-.5-.5-1.3 .4 .1 .3 .6 1 1.8 1 .9M260.6 6.2l1.7 .3 .3 2.9-1-1.3 2.2 .1-.3 .5 1-.5 .5 .8-.4 .6-.3-.2 1.1 1.8-0-.9 .1 .8 1.9 .2-.3 1.6M269.6 13.9l1.8 .8-.4 .7 1.7 .3-.7 .9 .6 .6-.4-1.1-.7-1.9 .7 1.3-.3 1.6 1.7 1.2-0 .9-0 .8-0-1.9 .5 1.5 .1-1-0 1.8 .5-.1-0 1.4M259.4 8.7l1 .2 .5-.3 .2 .7-.7 .6 .4-1.1-.9 .9-.1 1.1 1.3-3.5 1 2 .5 1.5 .4 1.9 1 .6-.6-.3 .6-1.6 .5 .2-.6 .1 .6 .6 .9 2 .4 1.3 .9-.6-1.8-1.1 1.9 .5-.2 2 .9 .6-.5-.6 .3 2-.4 .7 .8 .2 .1 .3-.9 .4 .2 .7 .7-1 .6 .8 .9 .5 .7 .5 .3 .7 1.4 .7-.5 1.4-.6 .8 .4-1.4-1.1 1.2M255.3 8.8l-.3 .1 .5 1.1-.1 .7 1 .8 .3-.2 1.1-.3-.8 .5 .1 3.6 .4-2.8-.6-.4 .6 3.4 0-1.2 1.3-1-.2-.5-.1 1.3 0 2.7 .6 0 1.5 2.4 .1-1.1-.8-.8 1.2 .1 .3 .3 .6 2.2-0 .8 .9 .3 .2-.9-.9-.8 .2 1.7 1.3 4-.2-2.9 .2 1.1-.1 .6 1.2-.3-1.5 .8 1.7 1.5 .3 1-.2-.3-.5-.6 1.8-.3-.2 1.9 2-.6M252.8 7.3l-.7 1.9-0 .7 .1-1.3 .7-.7-.2-.4 .7-.1-.4 1.3M257.9 13.6l.9 .9 .1-.7-.1-.7-1.3 .3 1-1.5 .4 4.6 1.4 1.6-1.1-1.3 1.3 .2-.6-1.1 .8 0 .9 1.6 .2 1.6-.6 1.6 .6-.2 0-1.2-1-1 .5 2.1 2.2 1.9 .4-1.4-.6-1.2 0 .4M267.8 23.9l1.5 1.4 1 .5-.5-1.3M251.6 9.3l-.2 .5 1.4 2.3 .6-1 .5-.2 .5-0 0 1.5 1.2 .1 .5 .6 0-.4 1.3-0-.7-.8 1.2 2 1 1.4 .3 .2-.4-.2 .7-.4-.6 0-.3-.7 1.3 1-.1 2.7 1.2 1.5 1-3.4-.5 1.4 1.3 1.7 .3 .6-.1 .4 1.6 1.7-1.3-1 1.3 .6-.5-.4 0-1-.9 .5 .9 2.5 .8 .3 .3 .1-.7 .1 1 1.1-.2 .3M256.4 18.4l.2 1.3 .5 .2M149.3 56.2l.7 1M150.6 56.3l1.6 .1 .6 2.6 1.7 1-1.4-1.3 .9-1.9 1.3 1 .3 1.3 .7 1.9-.3-.3 1-2.2 .9-.4-.4-1.2 .2 1.2 1.5 .4 .3 1.7 .6 .7 .4 .7 .3 1.1-.4-4.3-.7-1.2M165 65.9l-.8-1-.1-2.4 1.3 .1-.5-.6 1.3 3 1.9-1.7 1.3 2.1 1 .1-.7-2.1 1.5 .4-0-1.1-1.5-1.2 2 .4 .2-1.1 1.2 1.6 .7 2.2 1.5 2.3 .3 1.2 .1 .5 .1-4.2 .1-3.1 .3 .7 .4 1.4 .9 .8-0 1.9 1.6 .3-.4 1.4 1.4 .6-1.2-2.2 .9-2.6-1.1 1.9 1.7 .8 1.1 .4 .4 1.7 .9-.1-0-.9-0 .3 .6-1.1 .3-.5 .1 .5 .5 .4-0 .3 1.7 .1-.3 .8 1.4-.1 .6 .2 1-1.4 .5 .7-.6-.6 1.2 1.4 .1 .9M188.8 63.2l-1.8-2.1M191.8 63.4l-1.7-1.9 2.7-.7M196.8 61.6l2.7 1.8 1.1 2.6 1.7 1.6 1.4 1.3-2.5-4.7-1.8-4.1-1.5 6.9M183 65.4l-1.4-1.2-1-2.3 1 .6 2.8 2.6 1.4 2.7 2.1 1.5 .7 2.8 .8-1.6-2.6-3.5-.2-4.7 .4-0 .6 .7 1.9 1.8 1.4 1.4 1.2 .8 .8 1.4 1.6 .6 1.2 1.1-.9-1.2 0-2.2-.9-2-1.2-2.8-0-2.4M198.9 55.9l1.2 .2 .1 .9 1.4 .8 .3-1.2 .9 1.2 .6 1.6 1.7 .8-1-.5 1-.7M207.7 60.6l1.8 1.2-.3 1.1 1 .9 .5 .7 .9-1-1.2-.9 0-2.8 .5 3.6 .7-.3 .8 2 .5 1.8 .4-.3 1.1-1.4-.8-1.3 .4 .7M213.5 57.1l.8-.1 .2 .5 1.1 1.2 .8 .9 .2 4.5-.3-3 .2-2.2 .6-3.6 2 7 .6-4.3 1.2 3.3 .8-.7-.3-3 1.5 1.4 .4 7.7-.1-4 .5-3.2 0-5.2 .8 2.1 .2 1.2 1.3 .9-.1 1.5 .8 .8 0 .9 1-.5 0-2.5-.1-2.1 .9 3.5 .7 2.6 .8-.1 .2-2.2 1.2-.9-1-2.5 .7-.4 1 1.2 1.4 5.2 .7 3.8M213.2 57.3l.5 3.4 1.1 4.5 .5-5.6-.3-2 1.2-.4 .8 .2 .2-1.6-.5 1.1 1.8 1.6-.2 5-.4-9.1 .7-.7 .9 7 1-9.4 .8 4.6 .9 4.6 0-2.6-.2-2.8 .2-3.3 1.2 1.9 .2 1.6 1.5 3.4-.6 1.1 1.3 2.3 .8-7.4 .8 2.7 .2 1.1 .9 .4 .3-5.5 .1 3 1.8 2.1 .1-.6 .1-1.4 .1-2.2 1.1-.1 0 1.3 .3 2.7 1.3-.2M232.5 62.5l1.4-1.2-.5-1 1.5-.9-.7 0 1.2 .5 .6 .7 .4 .3 .9 .5 .2 1.1 1.5 1-.4-1.6 .8-.9-.7-1.5-.2-1.5 .4 .2 1.2-.5 .7 2.9 2.2 1.6 0-1.6-1-3.1 .7 2.2 1.2 .9 .2 .3 .1-1.1 .5-1.6-.3-1.7 1.9 2.1 .9 5.7-.6-4.5-.2-4.1 .4-1 .5 2.4 2.4 3.4 .2 1.8 .4-4.1 1.2-.3 .4-1.3 .3 .4 1.5 1.2-.5 0 .6-.5 .7-1 1 .1 1-.4-.8-.1 .1-1.9 1.3 2.1 1-.6 .5 1.7 .4-1.2 .8 .7-.3-1.1 1-1.2 1-.1-.3-.4 .3 1.7 1.8 1.2 .2 1-.4-.9 .5-.6 .4-.3M267.7 59.6l.5 .1 1.9-1.6-.2-.4 .8 .9-.1 .5 1.3 .5 .3 1 1.3 .1 .2 .6 .8-1-.7-.9 1.1 .7 .4-.4 .1 2.9 2.1 1.6-.4-.1 1.1-1.1-.9-.8 1.1-.9-1 4.6 .1-.8-0-.6 1.6 .3-.8-1.3M231.6 58.5l1.4 .5 .5 .2 0 .5 .8 .3 .9 .4-.4-.7 1.8-.8-.4 1.2 1.4 1.9-.1-2.2-.6-2.1 1.3 2.6 1.5 2-1.4-.2 .9-2.1 .2-.8-.4-1.7-0-2.5 .4 2.7 2.1 1.5 .8 2.6 .2 1.9 1.6 1.7 1.1-8.2 1.1 .9M250.8 56.8l-.6-2 .2 3.2 1 0 .8 2.2 2.1-1-.7-.1 .9-1.6-.6 .4 1.4-.6-.1-1.2 .1-.9 1 .4-.5 5.2 .6-1.4-.2-.6 .9-1.3-1.1-1.8 1-1-.8-1.4 1-.4 1.4 2.6 1 3.3 2.2 2 .8-1.8-.2-1.4 .1-1.1 .6-0-.2-1.7-.3 1.2 1.3 .8 1.2 .5 .3 2.1 .8 .6 1.3 .8-.9 1.8 .6-2.5 .5-1.3-.7-.6-.3-1.8 .9 1.7 2.3 2.1 2.1 4.9 .5-3.4-0-1 .3-.5-.4 .4 1 .7 .7 .7 1.1-.1 .1 .4 1.4 1.2 .8-3.9 1.1 3.4 1.8 4.7-.6-1.7-1-1.1 1.1-2.6-1.4-1.3 .8 1.3 1.7 .8M163.5 43.8l-.6 .5 1.2 1.4 .5 1.2 1-1-.5 .3 .5-.4 .8 3.3-1.1-1.2-.3-.1-.1-.4 .4-.2 1.1 1.8 .9 1.4-.3-1.3 .5 .2 .3 .6 .6-.2 .3 1.7 .7-.5-.3-.1 .7-.9 .4 1.7 .7 .5-.5 .9 1.1-1.2-.8 .4 .7 .4 .6 1.2 .3 .5 .9 .9 .6 .7 1.4 1.1 .7-1.2 .3 .3-.5-.3 .2 1.9 1.1-1.2M179.4 61l.7 .4-.3-.4 1.1 .3 0-.4 1.2-.3 1 1.4-.5 1.3M193.7 47.1l1.8 1.9-.4 .5 .8-1.5-.4 1.3M198.8 53.9l.6 1.3 .6 .6-.3 .1-.5-1.3-.8-.2 .9 2.1 .8 .4 .3 .9-.3 1.4 1.1-.5-.6 .3 .2-.4 .7 2 .8 1.3 .3 1.1-.3-.7-.5-.5 .2 .6 .1 .9 .3-.1-.9 1.2 .6 .9" stroke="#161616" stroke-width="1.8" fill="none" stroke-dasharray="0 1.5" stroke-linecap="round"/><path d="M38.5 3.5H345.5V262.5H38.5ZM38.5 262.5v-3M38.5 3.5v3M47.5 262.5v-1.3M47.5 3.5v1.3M56.5 262.5v-1.3M56.5 3.5v1.3M64.5 262.5v-1.3M64.5 3.5v1.3M73.5 262.5v-1.3M73.5 3.5v1.3M82.5 262.5v-3M82.5 3.5v3M91.5 262.5v-1.3M91.5 3.5v1.3M99.5 262.5v-1.3M99.5 3.5v1.3M108.5 262.5v-1.3M108.5 3.5v1.3M117.5 262.5v-1.3M117.5 3.5v1.3M126.5 262.5v-3M126.5 3.5v3M134.5 262.5v-1.3M134.5 3.5v1.3M143.5 262.5v-1.3M143.5 3.5v1.3M152.5 262.5v-1.3M152.5 3.5v1.3M161.5 262.5v-1.3M161.5 3.5v1.3M170.5 262.5v-3M170.5 3.5v3M178.5 262.5v-1.3M178.5 3.5v1.3M187.5 262.5v-1.3M187.5 3.5v1.3M196.5 262.5v-1.3M196.5 3.5v1.3M205.5 262.5v-1.3M205.5 3.5v1.3M213.5 262.5v-3M213.5 3.5v3M222.5 262.5v-1.3M222.5 3.5v1.3M231.5 262.5v-1.3M231.5 3.5v1.3M240.5 262.5v-1.3M240.5 3.5v1.3M249.5 262.5v-1.3M249.5 3.5v1.3M257.5 262.5v-3M257.5 3.5v3M266.5 262.5v-1.3M266.5 3.5v1.3M275.5 262.5v-1.3M275.5 3.5v1.3M284.5 262.5v-1.3M284.5 3.5v1.3M292.5 262.5v-1.3M292.5 3.5v1.3M301.5 262.5v-3M301.5 3.5v3M310.5 262.5v-1.3M310.5 3.5v1.3M319.5 262.5v-1.3M319.5 3.5v1.3M327.5 262.5v-1.3M327.5 3.5v1.3M336.5 262.5v-1.3M336.5 3.5v1.3M345.5 262.5v-3M345.5 3.5v3M38.5 262.5h3M345.5 262.5h-3M38.5 256.5h1.3M345.5 256.5h-1.3M38.5 250.5h1.3M345.5 250.5h-1.3M38.5 245.5h1.3M345.5 245.5h-1.3M38.5 239.5h1.3M345.5 239.5h-1.3M38.5 233.5h3M345.5 233.5h-3M38.5 227.5h1.3M345.5 227.5h-1.3M38.5 222.5h1.3M345.5 222.5h-1.3M38.5 216.5h1.3M345.5 216.5h-1.3M38.5 210.5h1.3M345.5 210.5h-1.3M38.5 204.5h3M345.5 204.5h-3M38.5 199.5h1.3M345.5 199.5h-1.3M38.5 193.5h1.3M345.5 193.5h-1.3M38.5 187.5h1.3M345.5 187.5h-1.3M38.5 181.5h1.3M345.5 181.5h-1.3M38.5 176.5h3M345.5 176.5h-3M38.5 170.5h1.3M345.5 170.5h-1.3M38.5 164.5h1.3M345.5 164.5h-1.3M38.5 158.5h1.3M345.5 158.5h-1.3M38.5 153.5h1.3M345.5 153.5h-1.3M38.5 147.5h3M345.5 147.5h-3M38.5 141.5h1.3M345.5 141.5h-1.3M38.5 135.5h1.3M345.5 135.5h-1.3M38.5 130.5h1.3M345.5 130.5h-1.3M38.5 124.5h1.3M345.5 124.5h-1.3M38.5 118.5h3M345.5 118.5h-3M38.5 112.5h1.3M345.5 112.5h-1.3M38.5 107.5h1.3M345.5 107.5h-1.3M38.5 101.5h1.3M345.5 101.5h-1.3M38.5 95.5h1.3M345.5 95.5h-1.3M38.5 89.5h3M345.5 89.5h-3M38.5 84.5h1.3M345.5 84.5h-1.3M38.5 78.5h1.3M345.5 78.5h-1.3M38.5 72.5h1.3M345.5 72.5h-1.3M38.5 66.5h1.3M345.5 66.5h-1.3M38.5 61.5h3M345.5 61.5h-3M38.5 55.5h1.3M345.5 55.5h-1.3M38.5 49.5h1.3M345.5 49.5h-1.3M38.5 43.5h1.3M345.5 43.5h-1.3M38.5 38.5h1.3M345.5 38.5h-1.3M38.5 32.5h3M345.5 32.5h-3M38.5 26.5h1.3M345.5 26.5h-1.3M38.5 20.5h1.3M345.5 20.5h-1.3M38.5 15.5h1.3M345.5 15.5h-1.3M38.5 9.5h1.3M345.5 9.5h-1.3M38.5 3.5h3M345.5 3.5h-3" stroke="#6b6b6b" stroke-width="1.1" fill="none"/><g font-size="10.1" fill="#262626"><text x="38.5" y="275.5" text-anchor="middle">-40</text><text x="82.4" y="275.5" text-anchor="middle">-35</text><text x="126.2" y="275.5" text-anchor="middle">-30</text><text x="170.1" y="275.5" text-anchor="middle">-25</text><text x="213.9" y="275.5" text-anchor="middle">-20</text><text x="257.8" y="275.5" text-anchor="middle">-15</text><text x="301.6" y="275.5" text-anchor="middle">-10</text><text x="345.5" y="275.5" text-anchor="middle">-5</text><text x="35.2" y="266.4" text-anchor="end">96.5</text><text x="35.2" y="237.6" text-anchor="end">97</text><text x="35.2" y="208.8" text-anchor="end">97.5</text><text x="35.2" y="180.1" text-anchor="end">98</text><text x="35.2" y="151.3" text-anchor="end">98.5</text><text x="35.2" y="122.5" text-anchor="end">99</text><text x="35.2" y="93.7" text-anchor="end">99.5</text><text x="35.2" y="65.0" text-anchor="end">100</text><text x="35.2" y="36.2" text-anchor="end">100.5</text><text x="35.2" y="7.4" text-anchor="end">101</text></g><text x="192.5" y="292.2" text-anchor="middle" font-size="11" fill="#262626">Temperature at 42 cm depth [<tspan dy="-3.5" font-size="7.5">o</tspan><tspan dy="3.5">C]</tspan></text><text transform="translate(8.2 137.2) rotate(-90)" text-anchor="middle" font-size="11.35" fill="#262626">Relative humidity at 42 cm depth [%]</text><rect x="295.6" y="9.4" width="44.9" height="33.6" fill="#fff" stroke="#6b6b6b" stroke-width="1.1"/><circle cx="307.8" cy="15.8" r="0.9" fill="#0a64a6"/><text x="337.8" y="18.9" text-anchor="end" font-size="8.8" fill="#262626">2010</text><circle cx="307.8" cy="26.7" r="0.9" fill="#e8211d"/><text x="337.8" y="29.8" text-anchor="end" font-size="8.8" fill="#262626">2011</text><circle cx="307.8" cy="37.6" r="0.9" fill="#161616"/><text x="337.8" y="40.7" text-anchor="end" font-size="8.8" fill="#262626">2012</text></svg></body></html>
